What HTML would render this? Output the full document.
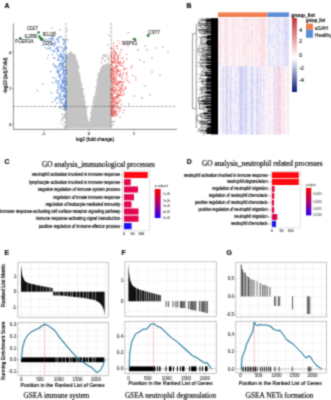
<!DOCTYPE html>
<html><head><meta charset="utf-8"><style>
html,body{margin:0;padding:0;background:#fff;width:331px;height:400px;overflow:hidden}
svg{display:block;will-change:transform}
</style></head><body>
<svg width="331" height="400" viewBox="0 0 331 400">
<defs><filter id="bl" x="0" y="0" width="1" height="1" color-interpolation-filters="sRGB"><feConvolveMatrix order="3" kernelMatrix="1 2 1 2 8 2 1 2 1" edgeMode="duplicate"/></filter></defs>
<g filter="url(#bl)">
<rect width="331" height="400" fill="#fff"/>
<text x="4.40" y="7.90" font-size="6.8" fill="#111" text-anchor="start" font-weight="bold" font-family="Liberation Sans" stroke="#111" stroke-width="0.22" >A</text>
<line x1="13.4" y1="23.5" x2="13.4" y2="129.4" stroke="#333" stroke-width="0.55"/>
<line x1="13.1" y1="129.4" x2="177" y2="129.4" stroke="#333" stroke-width="0.55"/>
<path d="M65.8,64.0 L66.3,58.0 L67.8,54.5 L70.3,52.8 L72.8,53.6 L75.2,57.5 L78.1,66.5 L81.3,83.7 L84.6,98.7 L87.8,120.2 L88.6,122.0 L89.9,120.2 L93.2,103.0 L96.4,88.0 L98.5,75.0 L100.5,69.5 L102.5,66.5 L105.0,65.0 L108.0,64.3 L111.2,63.8 L111.4,128.3 L65.8,128.3Z" fill="#c4c4c4"/>
<path d="M81.0 82.9h0M83.8 100.3h0M75.1 57.9h0M74.8 55.9h0M76.8 63.1h0M86.1 107.2h0M76.2 60.2h0M79.8 76.0h0M86.1 112.8h0M73.6 55.5h0M85.7 108.3h0M82.5 89.4h0M75.2 58.6h0M80.0 80.0h0M74.3 55.9h0M82.9 90.0h0M86.8 110.8h0M79.4 76.5h0M74.2 57.4h0M74.3 56.9h0M81.6 88.3h0M74.6 57.7h0M81.5 84.4h0M77.0 60.9h0M75.3 61.3h0M84.0 97.0h0M80.0 78.4h0M73.3 54.5h0M84.2 96.4h0M75.9 61.6h0M76.4 63.7h0M74.9 54.7h0M85.6 107.2h0M81.9 84.7h0M75.3 58.4h0M85.5 102.2h0M73.1 54.2h0M80.6 82.7h0M75.5 56.9h0M82.9 88.8h0M79.4 74.3h0M77.6 66.0h0M87.6 118.1h0M74.4 56.7h0M76.4 61.1h0M85.8 106.4h0M77.9 64.2h0M74.8 59.3h0M74.3 56.7h0M86.3 119.5h0M80.9 83.1h0M76.2 62.1h0M86.4 116.8h0M75.2 57.1h0M77.0 62.4h0M79.3 67.8h0M83.5 89.5h0M78.9 66.5h0M84.6 96.3h0M83.0 93.9h0M75.6 57.1h0M74.6 55.5h0M77.7 65.2h0M79.7 74.8h0M86.8 108.3h0M80.4 81.4h0M86.6 107.5h0M83.9 101.9h0M77.0 62.8h0M76.5 61.3h0M97.2 79.1h0M104.9 64.8h0M97.0 87.7h0M93.0 106.9h0M102.1 66.4h0M96.7 82.0h0M96.5 91.9h0M98.7 75.9h0M99.2 74.5h0M91.7 108.8h0M98.3 77.7h0M103.8 65.7h0M96.6 89.4h0M100.7 70.6h0M93.1 100.8h0M97.1 82.6h0M95.8 87.6h0M90.7 113.6h0M90.6 118.1h0M90.0 119.5h0M94.5 99.2h0M104.5 65.5h0M101.6 67.6h0M93.1 107.1h0M97.7 75.3h0M92.0 110.0h0M91.0 112.8h0M98.6 80.1h0M93.1 103.8h0M97.3 79.8h0M99.7 72.5h0M93.3 103.1h0M101.9 68.2h0M99.0 74.1h0M100.8 71.4h0M98.4 79.0h0M107.6 64.2h0M98.5 75.2h0M104.3 65.6h0M91.6 109.0h0M97.6 80.1h0M93.3 100.7h0M98.0 75.3h0M97.1 85.5h0M91.1 112.0h0M103.0 67.5h0M94.6 97.0h0M99.0 80.3h0M106.7 64.0h0M100.5 69.3h0M93.9 98.6h0M108.2 64.1h0M102.9 65.4h0M107.1 64.1h0M107.3 64.0h0M104.3 65.6h0M104.3 66.4h0M101.3 69.4h0M95.8 95.7h0M105.0 65.0h0M100.6 69.0h0M92.8 106.2h0M96.3 91.8h0M99.1 74.4h0M91.8 109.5h0M93.7 97.6h0M101.8 67.8h0M98.8 75.5h0M98.4 73.4h0M100.8 70.8h0M70.4 52.8h0M65.7 54.3h0M70.2 53.4h0M67.7 56.4h0M68.5 53.8h0M67.5 56.4h0M69.7 54.7h0M71.3 53.4h0M69.2 54.1h0M69.9 53.0h0M67.8 55.3h0M66.9 54.9h0M66.3 56.9h0M67.7 57.2h0M72.6 53.9h0M71.3 52.3h0M70.4 52.4h0M71.6 53.1h0M71.0 53.0h0M69.8 53.4h0M102.7 57.0h0M103.8 55.1h0M108.4 59.8h0M105.1 54.9h0M105.8 60.0h0M102.2 59.7h0M101.8 58.0h0M109.1 58.6h0M105.5 56.0h0M108.6 57.1h0M106.5 54.9h0M102.7 58.7h0M104.2 56.4h0M109.1 54.4h0M101.2 62.4h0M104.8 61.0h0M103.1 55.2h0M108.5 58.0h0M106.7 56.3h0M107.9 58.4h0M108.9 62.2h0M101.9 62.8h0" stroke="#c2c2c2" stroke-opacity="1" stroke-width="1.5" stroke-linecap="round" fill="none"/>
<path d="M112.7 113.6h0M114.9 111.8h0M64.6 107.2h0M113.0 124.1h0M114.7 105.8h0M62.7 117.2h0M60.9 123.6h0M65.0 128.3h0M114.6 121.5h0M111.0 106.1h0M111.2 107.1h0M113.5 121.9h0M64.6 117.2h0M65.7 106.5h0M64.7 108.8h0M115.0 104.0h0M65.0 111.0h0M113.2 110.1h0M63.9 104.7h0M65.3 105.4h0M61.4 120.2h0M63.0 114.6h0M112.4 121.4h0M61.8 113.9h0M63.0 125.1h0M111.8 109.0h0M65.3 115.6h0M113.4 106.7h0M65.5 126.4h0M114.7 105.4h0M63.6 105.4h0M111.7 114.4h0M112.3 115.2h0M61.0 106.8h0M113.1 108.8h0M64.4 115.7h0M112.8 125.0h0M60.5 106.7h0M113.2 114.5h0M64.6 123.0h0M111.4 111.7h0M63.2 121.6h0M64.4 115.2h0M112.0 115.9h0M62.3 119.6h0M111.2 115.6h0M63.6 108.9h0M65.7 113.1h0M113.8 105.1h0M64.3 127.1h0" stroke="#b0b0b0" stroke-opacity="1" stroke-width="1.4" stroke-linecap="round" fill="none"/>
<path d="M37.5 90.6h0M42.5 83.8h0M52.5 101.9h0M56.9 103.1h0M63.1 118.1h0M52.0 28.0h0M55.0 32.0h0M58.0 38.0h0M60.0 30.0h0M64.0 44.0h0M67.0 30.0h0M68.0 40.0h0M109.0 35.0h0M108.0 45.0h0M120.0 117.0h0M123.0 113.0h0M116.0 113.0h0" stroke="#a8a8a8" stroke-opacity="1" stroke-width="1.6" stroke-linecap="round" fill="none"/>
<path d="M61.8 80.1h0M45.4 40.8h0M51.6 43.9h0M64.8 94.4h0M65.7 103.6h0M63.6 72.7h0M61.6 36.6h0M59.9 99.7h0M64.9 70.1h0M58.7 73.9h0M63.1 65.0h0M61.8 84.1h0M63.1 71.6h0M65.6 67.6h0M65.1 82.2h0M63.4 109.1h0M65.8 107.9h0M63.7 70.1h0M66.1 102.0h0M60.4 93.3h0M65.8 92.2h0M60.9 56.7h0M66.5 55.8h0M61.8 68.5h0M62.8 56.8h0M64.0 54.2h0M65.0 74.9h0M64.3 70.3h0M66.0 101.3h0M59.7 63.7h0M66.4 100.9h0M64.8 80.4h0M66.0 97.3h0M64.4 73.9h0M64.7 49.2h0M52.1 36.5h0M65.7 88.5h0M65.2 61.2h0M51.6 39.3h0M65.0 103.6h0M64.5 96.3h0M60.7 63.5h0M65.3 82.0h0M65.9 72.7h0M57.5 71.8h0M61.3 85.1h0M61.8 47.4h0M60.7 56.1h0M65.0 109.1h0M58.0 39.8h0M65.9 101.4h0M66.1 92.7h0M63.6 95.4h0M61.7 66.0h0M64.6 105.7h0M65.2 78.8h0M66.1 63.0h0M64.1 95.7h0M53.6 65.4h0M61.4 90.6h0M64.2 91.8h0M54.8 58.3h0M56.6 98.0h0M62.7 59.3h0M65.0 81.0h0M64.9 88.7h0M60.6 86.9h0M62.4 99.4h0M63.8 82.0h0M63.9 71.0h0M53.2 77.8h0M61.4 47.1h0M63.1 96.4h0M57.5 98.3h0M64.2 85.7h0M61.7 64.8h0M60.4 69.7h0M58.8 84.0h0M66.6 58.8h0M60.3 63.2h0M66.4 73.3h0M66.4 109.0h0M58.6 70.4h0M64.4 96.6h0M64.8 97.9h0M60.6 63.0h0M59.5 95.4h0M66.4 104.2h0M66.1 59.2h0M64.6 91.7h0M62.3 102.2h0M58.4 81.4h0M64.4 87.2h0M65.1 101.5h0M62.0 57.3h0M57.7 86.8h0M64.8 89.4h0M55.9 81.2h0M62.1 54.7h0M61.5 103.0h0M66.2 69.8h0M50.9 71.5h0M63.4 79.8h0M63.5 63.5h0M57.4 50.7h0M60.9 56.6h0M58.4 60.3h0M57.7 55.6h0M57.1 92.9h0M64.6 107.5h0M57.3 69.5h0M65.7 102.3h0M52.6 54.7h0M64.3 90.6h0M62.3 63.5h0M62.7 81.5h0M65.4 106.9h0M58.9 58.9h0M61.2 107.5h0M59.5 102.3h0M66.5 90.2h0M61.7 57.5h0M61.9 82.3h0M63.9 81.3h0M64.2 78.0h0M59.8 75.5h0M65.5 66.6h0M63.4 63.1h0M66.2 97.3h0M65.9 95.3h0M64.8 88.4h0M65.7 46.7h0M59.6 56.0h0M43.8 40.2h0M62.0 102.1h0M62.3 80.5h0M63.0 74.3h0M66.4 47.8h0M63.3 43.8h0M63.1 66.6h0M61.2 74.4h0M59.5 66.7h0M64.5 81.4h0M66.5 82.3h0M66.0 109.6h0M59.9 75.8h0M53.6 63.8h0M58.8 42.0h0M65.8 49.0h0M54.1 45.1h0M63.8 104.5h0M64.0 39.9h0M61.8 86.3h0M59.8 107.9h0M53.6 57.9h0M58.2 42.3h0M63.6 48.6h0M61.9 47.8h0M58.3 50.2h0M61.1 64.1h0M55.0 99.0h0M60.3 98.3h0M59.4 75.7h0M65.8 106.7h0M56.7 53.3h0M59.2 65.0h0M63.3 79.3h0M65.2 82.0h0M66.0 48.0h0M64.6 46.2h0M66.1 39.5h0M64.2 106.6h0M60.3 75.5h0M57.6 91.9h0M63.6 88.6h0M62.7 51.0h0M52.9 38.5h0M58.5 42.5h0M63.6 82.8h0M66.2 94.6h0M65.2 83.8h0M60.3 55.3h0M64.8 62.0h0M65.9 92.2h0M65.9 103.4h0M58.4 71.2h0M66.3 57.3h0M49.5 38.3h0M62.6 39.6h0M55.9 78.5h0M58.9 57.2h0M63.3 57.3h0M62.1 91.5h0M63.8 43.1h0M60.3 97.1h0M65.6 106.8h0M63.5 74.1h0M65.3 96.3h0M66.3 105.4h0M64.4 105.5h0M51.2 92.7h0M65.5 77.5h0M55.0 43.0h0M60.1 67.2h0M63.3 83.8h0M62.8 67.7h0M58.6 76.3h0M52.5 82.7h0M63.2 105.9h0M61.4 87.0h0M59.2 80.8h0M64.9 74.6h0M61.1 100.2h0M64.1 59.9h0M64.8 70.3h0M61.2 53.1h0M60.4 60.7h0M59.3 73.6h0M66.2 55.8h0M55.9 81.7h0M58.3 89.5h0M65.1 80.6h0M65.2 61.8h0M48.6 55.1h0M64.5 106.7h0M66.5 84.7h0M64.0 50.5h0M63.5 58.4h0M66.1 58.0h0M64.7 103.4h0M60.7 56.8h0M59.3 36.9h0M63.6 68.3h0M47.7 57.9h0M62.8 90.6h0M66.5 99.1h0M60.0 87.9h0M63.1 98.6h0M60.1 85.4h0M57.2 83.5h0M66.1 79.2h0M62.1 55.2h0M63.5 87.8h0M63.7 65.6h0M60.9 88.7h0M56.7 71.7h0M52.3 37.5h0M65.8 100.6h0M66.3 102.2h0M66.0 97.6h0M64.2 103.2h0M63.0 52.1h0M63.3 89.0h0M65.3 61.8h0M63.5 98.7h0M65.5 71.2h0M60.4 37.2h0M63.2 90.9h0M62.7 69.8h0M66.4 74.0h0M65.9 105.0h0M58.9 83.2h0M64.7 54.7h0M64.4 41.6h0M63.2 82.5h0M59.2 65.6h0M55.4 106.6h0M64.6 107.1h0M59.4 70.2h0M48.3 41.1h0M58.6 50.3h0M60.6 96.3h0M59.3 46.8h0M56.8 66.6h0M66.3 109.7h0M59.4 93.7h0M65.7 70.7h0M62.8 88.1h0M58.5 86.9h0M65.6 71.6h0M65.2 95.6h0M61.6 84.4h0M57.5 59.7h0M65.4 42.3h0M59.6 64.5h0M62.3 60.0h0M63.3 105.8h0M65.6 79.1h0M66.1 84.6h0M64.0 57.7h0M56.7 81.0h0M62.0 94.1h0M58.7 51.4h0M62.5 81.1h0M64.3 86.9h0M66.3 102.7h0M63.4 76.6h0M62.8 72.6h0M53.6 51.8h0M61.7 85.7h0M63.3 67.0h0M60.7 77.2h0M58.8 71.8h0M60.2 54.2h0M66.1 48.2h0M62.8 59.7h0M62.1 87.5h0M66.5 70.5h0M57.2 67.5h0M66.6 83.8h0M57.2 90.5h0M66.5 92.0h0M64.7 66.8h0M64.8 84.8h0M65.1 61.3h0M61.5 103.5h0M63.7 57.0h0M62.5 62.3h0M57.8 72.5h0M55.4 100.6h0M64.4 61.5h0M60.7 88.8h0M41.8 45.4h0M55.5 65.5h0M60.2 77.0h0M62.0 65.5h0M58.5 96.8h0M64.1 40.5h0M64.2 76.2h0M64.4 85.9h0M65.0 87.0h0M63.8 38.9h0M62.8 82.3h0M60.6 100.3h0M55.0 67.2h0M53.1 37.0h0M64.4 88.5h0M63.7 77.9h0M60.7 78.8h0M63.0 74.6h0" stroke="#5687d9" stroke-opacity="0.88" stroke-width="1.44" stroke-linecap="round" fill="none"/>
<path d="M55.7 48.8h0M50.5 47.7h0M50.3 38.9h0M53.8 46.3h0M57.9 47.2h0M47.0 48.8h0M52.1 39.2h0M51.1 50.5h0M53.1 44.0h0M45.1 47.4h0M57.8 50.0h0M47.8 39.7h0M51.1 41.9h0M52.4 44.3h0M54.7 50.9h0M49.8 48.5h0M54.0 40.0h0M54.9 42.1h0M52.2 45.0h0M53.7 50.5h0M56.9 38.7h0M45.4 38.8h0M56.5 47.6h0M53.0 43.4h0M49.1 46.4h0M57.5 49.7h0M52.9 42.4h0M57.3 48.2h0M51.1 40.3h0M57.6 39.6h0M57.4 40.3h0M55.4 44.7h0M55.1 44.3h0M48.5 48.6h0" stroke="#5687d9" stroke-opacity="0.8" stroke-width="1.44" stroke-linecap="round" fill="none"/>
<path d="M112.7 69.4h0M119.4 91.6h0M118.8 102.1h0M117.4 96.8h0M121.6 104.3h0M120.2 63.2h0M120.3 73.1h0M118.8 62.4h0M113.4 77.6h0M116.4 64.8h0M111.7 57.0h0M123.1 66.2h0M114.2 55.8h0M110.9 114.3h0M119.0 101.8h0M114.6 81.0h0M118.8 83.4h0M113.0 72.7h0M113.3 101.1h0M131.0 67.7h0M117.6 95.6h0M115.0 83.8h0M112.4 83.5h0M113.0 73.9h0M111.6 82.5h0M124.6 68.5h0M112.3 81.4h0M114.1 52.5h0M116.7 66.3h0M113.1 100.6h0M111.0 106.0h0M127.6 80.5h0M114.1 106.6h0M116.2 88.5h0M116.0 107.0h0M114.3 61.0h0M111.1 110.8h0M114.3 77.3h0M113.6 87.5h0M112.3 105.1h0M118.1 69.7h0M111.1 71.9h0M121.9 95.4h0M111.4 108.6h0M117.0 106.4h0M120.8 95.4h0M123.5 62.3h0M119.7 81.5h0M114.4 58.8h0M116.0 62.5h0M117.1 96.4h0M118.3 111.9h0M111.0 47.9h0M117.3 97.8h0M113.2 99.3h0M111.1 68.2h0M115.7 98.4h0M114.4 91.7h0M116.0 79.0h0M116.3 72.2h0M123.9 72.6h0M113.3 110.0h0M119.5 108.5h0M113.0 101.9h0M118.3 57.0h0M115.8 72.1h0M113.2 98.4h0M120.0 110.8h0M113.8 73.0h0M111.0 114.1h0M111.2 68.6h0M114.6 71.6h0M111.2 69.2h0M115.7 77.6h0M112.9 108.3h0M112.5 75.3h0M119.5 63.3h0M112.3 66.8h0M111.0 102.3h0M114.5 77.9h0M116.0 79.8h0M117.2 90.2h0M116.5 101.1h0M113.5 104.5h0M116.6 54.3h0M112.1 64.3h0M111.3 62.7h0M118.7 75.1h0M114.2 57.4h0M111.3 90.8h0M120.1 76.9h0M111.3 77.0h0M114.7 101.3h0M113.0 71.2h0M116.5 65.4h0M123.5 82.5h0M114.9 62.1h0M116.4 104.0h0M111.6 108.3h0M121.3 58.3h0M113.5 55.6h0M114.2 67.6h0M116.9 46.7h0M111.7 110.1h0M114.2 82.3h0M115.1 90.7h0M113.8 112.2h0M113.7 99.4h0M110.9 55.3h0M114.8 115.0h0M117.4 48.6h0M117.6 70.9h0M112.2 111.2h0M111.4 71.0h0M118.0 63.1h0M120.7 100.5h0M118.9 106.8h0M117.8 66.4h0M111.9 53.5h0M111.2 102.3h0M112.1 84.9h0M111.0 110.8h0M111.5 97.7h0M123.0 90.6h0M111.4 78.5h0M118.9 70.5h0M119.8 65.1h0M112.3 99.3h0M113.6 107.9h0M112.0 61.9h0M116.8 92.8h0M111.6 112.4h0M117.4 94.6h0M113.7 48.5h0M117.4 74.0h0M116.9 105.0h0M116.9 85.5h0M111.4 74.0h0M112.6 85.3h0M113.8 93.6h0M118.5 70.7h0M117.6 59.1h0M114.1 68.7h0M120.2 61.8h0M132.8 75.5h0M126.9 77.8h0M111.9 49.3h0M111.0 106.6h0M118.8 89.5h0M115.3 90.0h0M113.0 102.4h0M111.5 62.6h0M112.1 70.3h0M111.8 113.1h0M112.1 110.5h0M112.5 87.3h0M114.9 111.2h0M112.6 108.0h0M113.5 110.1h0M112.9 97.5h0M112.2 97.8h0M117.1 94.6h0M117.1 61.5h0M117.1 71.7h0M112.3 108.4h0M115.9 103.3h0M126.9 59.2h0M116.7 73.8h0M115.6 110.7h0M126.2 68.7h0M112.7 68.8h0M124.1 61.1h0M115.9 84.6h0M114.4 92.0h0M114.2 82.2h0M115.0 99.4h0M121.7 82.5h0M111.2 111.4h0M113.0 75.2h0M113.9 60.2h0M112.9 88.8h0M120.2 52.7h0M113.8 110.5h0M110.9 90.1h0M112.7 90.2h0M117.8 84.5h0M114.3 115.5h0M121.8 65.6h0M120.6 89.5h0M118.2 94.5h0M114.8 66.2h0M116.2 82.8h0M111.3 87.7h0M111.3 98.2h0M112.7 115.3h0M114.9 83.6h0M115.2 102.2h0M113.3 62.2h0M116.8 103.5h0M126.1 88.6h0M119.1 63.0h0M120.4 108.4h0M113.4 112.9h0M111.3 108.7h0M116.8 67.0h0M112.1 89.4h0M116.6 76.6h0M122.1 76.1h0M121.9 78.5h0M113.7 77.7h0M117.4 62.0h0M114.8 91.4h0M112.1 111.0h0M115.0 75.5h0M112.6 74.1h0M125.3 87.1h0M110.9 94.4h0M114.2 71.4h0M116.7 71.7h0M113.2 58.3h0M112.4 91.9h0M114.0 111.5h0M121.0 81.6h0M112.6 82.7h0M113.4 103.1h0M127.1 74.9h0M112.5 90.2h0M119.5 95.7h0M116.9 84.7h0M113.4 99.8h0M121.0 85.7h0M122.0 82.0h0M115.7 88.1h0M117.8 81.7h0M114.7 112.3h0M111.3 76.1h0M115.2 102.0h0M119.2 86.5h0M120.4 65.3h0M112.1 106.2h0M112.9 112.3h0M112.4 89.7h0M111.0 73.7h0M112.8 61.6h0M123.3 58.1h0M111.4 77.9h0M111.0 75.3h0M117.5 114.6h0M113.5 50.7h0M120.2 74.9h0M111.2 73.9h0M111.7 106.8h0M126.8 72.5h0M111.6 73.7h0M118.7 71.4h0M123.7 69.5h0M117.2 91.6h0M111.8 109.9h0M116.8 84.8h0M116.3 70.1h0M111.1 76.5h0M111.9 102.3h0M113.8 62.9h0M114.2 84.1h0M116.1 101.1h0M112.7 101.6h0M114.0 62.8h0M114.9 74.4h0M115.6 90.1h0M113.9 79.3h0M116.9 60.3h0M114.9 111.9h0M113.5 115.9h0M112.7 115.3h0M117.8 83.4h0M114.6 54.8h0M120.7 93.4h0M116.6 97.5h0M119.0 99.5h0M112.4 95.7h0M111.5 94.6h0M115.3 59.2h0M118.9 108.4h0M115.3 102.4h0M113.8 99.1h0M117.9 103.2h0M120.2 73.9h0M122.4 78.5h0M119.8 90.0h0M116.0 111.6h0M118.3 58.3h0M118.7 94.4h0M116.9 108.8h0M112.7 78.4h0M116.1 116.0h0M119.6 65.0h0M112.7 88.6h0M122.5 74.3h0M120.9 88.6h0M115.1 56.9h0M122.3 84.7h0M122.8 85.5h0M118.8 61.9h0M110.9 110.8h0M123.5 92.9h0M116.5 53.8h0M121.2 91.9h0M118.9 87.0h0M119.6 94.7h0M112.1 100.4h0M117.5 70.2h0M113.7 98.1h0M112.4 115.9h0M114.2 82.9h0M118.5 70.4h0M113.3 69.8h0M116.1 81.2h0M122.3 89.8h0M113.0 81.6h0M114.5 93.1h0M111.7 105.3h0M118.0 59.3h0M112.8 112.7h0M117.9 58.2h0M111.2 57.5h0M113.4 113.5h0M117.5 55.6h0M111.4 95.4h0M113.8 46.4h0M117.0 94.9h0M114.5 55.3h0M113.3 90.1h0M111.7 111.9h0M112.5 114.6h0M113.4 104.8h0M113.0 94.3h0M111.4 49.0h0M114.1 67.6h0M112.7 113.4h0M117.2 85.8h0M112.8 66.3h0M111.6 78.8h0M116.1 114.6h0M111.9 69.2h0M111.5 97.7h0M115.7 113.0h0M112.2 80.2h0M117.3 71.2h0M112.0 88.9h0M120.5 91.7h0M115.4 51.5h0M111.3 113.3h0M119.5 82.8h0M115.6 53.2h0M116.0 67.7h0M114.9 91.3h0M111.3 70.9h0M112.8 110.4h0M110.8 104.6h0M112.6 53.5h0M114.6 110.5h0M110.8 75.6h0M118.3 97.2h0M111.0 89.9h0M126.1 74.1h0M112.7 79.6h0M112.0 61.3h0M112.0 88.8h0M113.3 104.3h0M111.0 95.8h0M111.3 108.3h0M111.0 112.9h0M111.8 58.3h0M113.8 46.3h0M117.0 93.3h0M114.1 84.0h0M118.9 82.2h0M114.3 89.8h0M121.3 88.6h0M115.8 96.6h0M116.0 69.2h0M119.4 75.5h0M113.1 71.8h0M112.7 106.6h0M120.1 83.1h0M120.3 61.6h0M111.9 97.8h0M114.4 86.5h0M117.0 84.8h0M113.0 62.8h0M111.2 76.9h0M113.2 113.8h0M110.8 60.2h0M114.0 104.6h0M114.4 91.5h0M118.7 95.6h0M118.8 61.9h0M112.7 94.8h0M116.8 97.5h0M113.9 105.6h0M111.8 93.6h0M114.6 81.2h0M120.2 81.5h0M124.3 89.9h0M114.5 113.2h0M111.4 94.0h0M115.3 84.1h0M111.8 79.3h0M112.5 89.3h0M111.5 48.9h0M112.5 112.9h0M111.5 55.5h0M111.5 52.1h0M113.4 97.0h0M120.5 70.8h0M117.7 102.3h0M115.0 97.5h0M111.2 62.8h0M117.6 81.9h0M111.9 80.2h0M113.5 103.2h0M116.3 68.9h0M125.1 88.2h0M113.9 63.0h0M111.3 70.8h0M111.4 115.2h0M113.1 76.8h0M117.6 56.5h0M114.7 107.2h0M122.1 87.2h0M122.3 63.5h0M111.0 64.8h0M135.6 77.1h0M114.5 80.1h0M124.8 79.9h0M113.2 91.1h0M120.5 88.0h0M123.7 94.5h0M113.3 77.4h0M129.0 82.2h0M117.3 71.3h0M111.8 60.8h0M111.4 103.3h0" stroke="#ec5d55" stroke-opacity="0.88" stroke-width="1.44" stroke-linecap="round" fill="none"/>
<path d="M119.5 55.0h0M117.0 45.4h0M119.7 43.6h0M116.0 54.0h0M121.7 50.1h0M123.6 42.3h0M118.2 41.0h0M127.9 45.7h0M121.2 49.4h0M114.2 51.2h0M126.6 54.4h0M113.5 43.2h0" stroke="#ec5d55" stroke-opacity="0.8" stroke-width="1.44" stroke-linecap="round" fill="none"/>
<path d="M156.0 48.0h0M163.0 47.0h0M168.0 52.0h0M147.0 50.0h0M152.0 58.0h0M128.3 32.5h0M145.0 46.0h0M136.0 80.0h0M140.0 60.0h0M152.0 72.0h0M145.0 86.0h0M138.0 50.0h0M160.0 75.0h0M134.0 96.0h0M142.0 98.0h0M129.0 104.0h0M124.0 110.0h0M150.0 95.0h0M132.0 66.0h0M144.0 62.0h0" stroke="#c97b7b" stroke-opacity="0.9" stroke-width="1.5" stroke-linecap="round" fill="none"/>
<line x1="65.9" y1="23" x2="65.9" y2="129" stroke="#333" stroke-width="0.6" stroke-dasharray="1.4,1.1,0.5,1.1"/>
<line x1="111.2" y1="23" x2="111.2" y2="129" stroke="#333" stroke-width="0.6" stroke-dasharray="1.4,1.1,0.5,1.1"/>
<line x1="13.5" y1="106.5" x2="175.6" y2="106.5" stroke="#333" stroke-width="0.6" stroke-dasharray="1.4,1.1,0.5,1.1"/>
<path d="M38.6 32.5h0M39.4 36.6h0" stroke="#2f7a36" stroke-opacity="1" stroke-width="2.6" stroke-linecap="round" fill="none"/>
<path d="M41.8 39.4h0" stroke="#2f7a36" stroke-opacity="1" stroke-width="3.4" stroke-linecap="round" fill="none"/>
<path d="M40.6 38.2h0M148.2 35.5h0M135.0 39.6h0" stroke="#2f7a36" stroke-opacity="1" stroke-width="2.8" stroke-linecap="round" fill="none"/>
<path d="M20.3 38.3h0" stroke="#2f7a36" stroke-opacity="1" stroke-width="2.4" stroke-linecap="round" fill="none"/>
<path d="M133.6 39.0h0" stroke="#2f7a36" stroke-opacity="1" stroke-width="2.2" stroke-linecap="round" fill="none"/>
<text x="27.00" y="29.62" font-size="4.5" fill="#2a2a2a" text-anchor="start" font-weight="normal" font-family="Liberation Sans" stroke="#2a2a2a" stroke-width="0.1" textLength="10.80" lengthAdjust="spacingAndGlyphs" >CD27</text>
<text x="24.50" y="38.22" font-size="4.5" fill="#2a2a2a" text-anchor="start" font-weight="normal" font-family="Liberation Sans" stroke="#2a2a2a" stroke-width="0.1" textLength="12.50" lengthAdjust="spacingAndGlyphs" >IL2RB</text>
<text x="42.70" y="36.22" font-size="4.5" fill="#2a2a2a" text-anchor="start" font-weight="normal" font-family="Liberation Sans" stroke="#2a2a2a" stroke-width="0.1" textLength="12.80" lengthAdjust="spacingAndGlyphs" >BCL11B</text>
<text x="15.30" y="43.22" font-size="4.5" fill="#2a2a2a" text-anchor="start" font-weight="normal" font-family="Liberation Sans" stroke="#2a2a2a" stroke-width="0.1" textLength="18.30" lengthAdjust="spacingAndGlyphs" >FCER1A</text>
<text x="42.70" y="44.92" font-size="4.5" fill="#2a2a2a" text-anchor="start" font-weight="normal" font-family="Liberation Sans" stroke="#2a2a2a" stroke-width="0.1" textLength="9.20" lengthAdjust="spacingAndGlyphs" >CD5</text>
<text x="148.20" y="33.62" font-size="4.5" fill="#2a2a2a" text-anchor="start" font-weight="normal" font-family="Liberation Sans" stroke="#2a2a2a" stroke-width="0.1" textLength="11.70" lengthAdjust="spacingAndGlyphs" >CST7</text>
<text x="122.00" y="44.92" font-size="4.5" fill="#2a2a2a" text-anchor="start" font-weight="normal" font-family="Liberation Sans" stroke="#2a2a2a" stroke-width="0.1" textLength="15.40" lengthAdjust="spacingAndGlyphs" >SRPK1</text>
<line x1="12.2" y1="51.9" x2="13.4" y2="51.9" stroke="#333" stroke-width="0.5"/>
<text x="11.40" y="53.50" font-size="4.4" fill="#333" text-anchor="end" font-weight="normal" font-family="Liberation Sans" stroke="#333" stroke-width="0.12" >4</text>
<line x1="12.2" y1="88.75" x2="13.4" y2="88.75" stroke="#333" stroke-width="0.5"/>
<text x="11.40" y="90.35" font-size="4.4" fill="#333" text-anchor="end" font-weight="normal" font-family="Liberation Sans" stroke="#333" stroke-width="0.12" >2</text>
<line x1="12.2" y1="124.4" x2="13.4" y2="124.4" stroke="#333" stroke-width="0.5"/>
<text x="11.40" y="126.00" font-size="4.4" fill="#333" text-anchor="end" font-weight="normal" font-family="Liberation Sans" stroke="#333" stroke-width="0.12" >0</text>
<line x1="43.6" y1="129.4" x2="43.6" y2="130.6" stroke="#333" stroke-width="0.5"/>
<text x="43.60" y="134.90" font-size="4.4" fill="#333" text-anchor="middle" font-weight="normal" font-family="Liberation Sans" stroke="#333" stroke-width="0.12" >-1</text>
<line x1="89" y1="129.4" x2="89" y2="130.6" stroke="#333" stroke-width="0.5"/>
<text x="89.00" y="134.90" font-size="4.4" fill="#333" text-anchor="middle" font-weight="normal" font-family="Liberation Sans" stroke="#333" stroke-width="0.12" >0</text>
<line x1="134" y1="129.4" x2="134" y2="130.6" stroke="#333" stroke-width="0.5"/>
<text x="134.00" y="134.90" font-size="4.4" fill="#333" text-anchor="middle" font-weight="normal" font-family="Liberation Sans" stroke="#333" stroke-width="0.12" >1</text>
<text x="76.00" y="140.73" font-size="4.8" fill="#111" text-anchor="start" font-weight="normal" font-family="Liberation Sans" stroke="#111" stroke-width="0.2" textLength="38.00" lengthAdjust="spacingAndGlyphs" >log2 (fold change)</text>
<g transform="translate(6.9,75.6) rotate(-90)">
<text x="-18.00" y="0.00" font-size="4.8" fill="#111" text-anchor="start" font-weight="normal" font-family="Liberation Sans" stroke="#111" stroke-width="0.2" textLength="36.00" lengthAdjust="spacingAndGlyphs" >-log10 (adj.P.Val)</text>
</g>
<text x="186.60" y="8.20" font-size="6.8" fill="#111" text-anchor="start" font-weight="bold" font-family="Liberation Sans" stroke="#111" stroke-width="0.22" >B</text>
<rect x="218" y="12.4" width="49.5" height="4.6" fill="#f27d50"/>
<rect x="267.5" y="12.4" width="21.5" height="4.6" fill="#5b8fd9"/>
<path d="M218.00 18.00h1.53v2.06h-1.53zM218.00 24.03h1.53v2.06h-1.53zM218.00 26.03h1.53v2.06h-1.53zM218.00 30.05h1.53v2.06h-1.53zM218.00 34.07h1.53v2.06h-1.53zM218.00 36.08h1.53v2.06h-1.53zM218.00 40.09h1.53v2.06h-1.53zM218.00 42.10h1.53v2.06h-1.53zM218.00 44.11h1.53v2.06h-1.53zM218.00 50.14h1.53v2.06h-1.53zM218.00 54.16h1.53v2.06h-1.53zM218.00 62.19h1.53v2.06h-1.53zM218.00 64.20h1.53v2.06h-1.53zM219.48 18.00h1.53v2.06h-1.53zM219.48 30.05h1.53v2.06h-1.53zM219.48 32.06h1.53v2.06h-1.53zM219.48 34.07h1.53v2.06h-1.53zM219.48 58.17h1.53v2.06h-1.53zM219.48 62.19h1.53v2.06h-1.53zM223.92 20.01h1.53v2.06h-1.53zM223.92 26.03h1.53v2.06h-1.53zM223.92 38.09h1.53v2.06h-1.53zM223.92 50.14h1.53v2.06h-1.53zM223.92 56.16h1.53v2.06h-1.53zM223.92 62.19h1.53v2.06h-1.53zM223.92 64.20h1.53v2.06h-1.53zM223.92 72.23h1.53v2.06h-1.53zM223.92 82.28h1.53v2.06h-1.53zM223.92 86.29h1.53v2.06h-1.53zM223.92 102.36h1.53v2.06h-1.53zM223.92 116.42h1.53v2.06h-1.53zM223.92 126.47h1.53v2.06h-1.53zM223.92 130.48h1.53v2.06h-1.53zM225.40 24.03h1.53v2.06h-1.53zM225.40 40.09h1.53v2.06h-1.53zM225.40 46.12h1.53v2.06h-1.53zM226.88 20.01h1.53v2.06h-1.53zM226.88 28.04h1.53v2.06h-1.53zM226.88 34.07h1.53v2.06h-1.53zM226.88 40.09h1.53v2.06h-1.53zM226.88 46.12h1.53v2.06h-1.53zM226.88 50.14h1.53v2.06h-1.53zM226.88 54.16h1.53v2.06h-1.53zM231.31 24.03h1.53v2.06h-1.53zM231.31 36.08h1.53v2.06h-1.53zM231.31 46.12h1.53v2.06h-1.53zM231.31 58.17h1.53v2.06h-1.53zM232.79 18.00h1.53v2.06h-1.53zM232.79 24.03h1.53v2.06h-1.53zM232.79 26.03h1.53v2.06h-1.53zM232.79 30.05h1.53v2.06h-1.53zM232.79 32.06h1.53v2.06h-1.53zM232.79 34.07h1.53v2.06h-1.53zM232.79 46.12h1.53v2.06h-1.53zM232.79 48.13h1.53v2.06h-1.53zM232.79 50.14h1.53v2.06h-1.53zM232.79 52.15h1.53v2.06h-1.53zM232.79 56.16h1.53v2.06h-1.53zM232.79 58.17h1.53v2.06h-1.53zM234.27 18.00h1.53v2.06h-1.53zM234.27 46.12h1.53v2.06h-1.53zM238.71 34.07h1.53v2.06h-1.53zM238.71 48.13h1.53v2.06h-1.53zM238.71 52.15h1.53v2.06h-1.53zM238.71 62.19h1.53v2.06h-1.53zM241.67 20.01h1.53v2.06h-1.53zM241.67 26.03h1.53v2.06h-1.53zM241.67 32.06h1.53v2.06h-1.53zM241.67 48.13h1.53v2.06h-1.53zM241.67 52.15h1.53v2.06h-1.53zM243.15 24.03h1.53v2.06h-1.53zM243.15 50.14h1.53v2.06h-1.53zM244.62 32.06h1.53v2.06h-1.53zM244.62 36.08h1.53v2.06h-1.53zM244.62 38.09h1.53v2.06h-1.53zM244.62 40.09h1.53v2.06h-1.53zM244.62 56.16h1.53v2.06h-1.53zM244.62 58.17h1.53v2.06h-1.53zM246.10 18.00h1.53v2.06h-1.53zM246.10 20.01h1.53v2.06h-1.53zM247.58 20.01h1.53v2.06h-1.53zM247.58 22.02h1.53v2.06h-1.53zM247.58 24.03h1.53v2.06h-1.53zM247.58 26.03h1.53v2.06h-1.53zM247.58 46.12h1.53v2.06h-1.53zM247.58 48.13h1.53v2.06h-1.53zM247.58 50.14h1.53v2.06h-1.53zM247.58 56.16h1.53v2.06h-1.53zM247.58 60.18h1.53v2.06h-1.53zM247.58 62.19h1.53v2.06h-1.53zM247.58 64.20h1.53v2.06h-1.53zM250.54 36.08h1.53v2.06h-1.53zM250.54 40.09h1.53v2.06h-1.53zM250.54 42.10h1.53v2.06h-1.53zM250.54 44.11h1.53v2.06h-1.53zM250.54 46.12h1.53v2.06h-1.53zM250.54 54.16h1.53v2.06h-1.53zM250.54 56.16h1.53v2.06h-1.53zM250.54 60.18h1.53v2.06h-1.53zM252.02 24.03h1.53v2.06h-1.53zM252.02 42.10h1.53v2.06h-1.53zM252.02 62.19h1.53v2.06h-1.53zM253.50 46.12h1.53v2.06h-1.53zM254.98 30.05h1.53v2.06h-1.53zM254.98 54.16h1.53v2.06h-1.53zM254.98 60.18h1.53v2.06h-1.53zM256.46 18.00h1.53v2.06h-1.53zM256.46 26.03h1.53v2.06h-1.53zM256.46 28.04h1.53v2.06h-1.53zM256.46 30.05h1.53v2.06h-1.53zM256.46 46.12h1.53v2.06h-1.53zM256.46 52.15h1.53v2.06h-1.53zM256.46 56.16h1.53v2.06h-1.53zM256.46 60.18h1.53v2.06h-1.53zM256.46 62.19h1.53v2.06h-1.53zM257.94 30.05h1.53v2.06h-1.53zM257.94 68.22h1.53v2.06h-1.53zM257.94 78.26h1.53v2.06h-1.53zM257.94 84.28h1.53v2.06h-1.53zM257.94 92.32h1.53v2.06h-1.53zM257.94 110.40h1.53v2.06h-1.53zM257.94 118.43h1.53v2.06h-1.53zM257.94 122.45h1.53v2.06h-1.53zM257.94 124.46h1.53v2.06h-1.53zM257.94 126.47h1.53v2.06h-1.53zM259.42 20.01h1.53v2.06h-1.53zM259.42 22.02h1.53v2.06h-1.53zM259.42 26.03h1.53v2.06h-1.53zM259.42 28.04h1.53v2.06h-1.53zM259.42 32.06h1.53v2.06h-1.53zM259.42 36.08h1.53v2.06h-1.53zM259.42 42.10h1.53v2.06h-1.53zM259.42 50.14h1.53v2.06h-1.53zM259.42 58.17h1.53v2.06h-1.53zM259.42 64.20h1.53v2.06h-1.53zM260.90 18.00h1.53v2.06h-1.53zM260.90 20.01h1.53v2.06h-1.53zM260.90 40.09h1.53v2.06h-1.53zM260.90 44.11h1.53v2.06h-1.53zM260.90 46.12h1.53v2.06h-1.53zM260.90 58.17h1.53v2.06h-1.53zM262.38 38.09h1.53v2.06h-1.53zM262.38 42.10h1.53v2.06h-1.53zM262.38 52.15h1.53v2.06h-1.53zM262.38 54.16h1.53v2.06h-1.53zM263.85 24.03h1.53v2.06h-1.53zM263.85 32.06h1.53v2.06h-1.53zM263.85 36.08h1.53v2.06h-1.53zM265.33 94.33h1.53v2.06h-1.53zM265.33 112.41h1.53v2.06h-1.53zM265.33 130.48h1.53v2.06h-1.53zM266.81 42.10h1.53v2.06h-1.53zM266.81 46.12h1.53v2.06h-1.53zM266.81 62.19h1.53v2.06h-1.53zM268.29 70.22h1.53v2.06h-1.53zM268.29 86.29h1.53v2.06h-1.53zM268.29 92.32h1.53v2.06h-1.53zM268.29 94.33h1.53v2.06h-1.53zM268.29 102.36h1.53v2.06h-1.53zM268.29 112.41h1.53v2.06h-1.53zM268.29 116.42h1.53v2.06h-1.53zM268.29 120.44h1.53v2.06h-1.53zM268.29 122.45h1.53v2.06h-1.53zM268.29 130.48h1.53v2.06h-1.53zM280.12 124.46h1.53v2.06h-1.53zM283.08 74.24h1.53v2.06h-1.53zM283.08 80.27h1.53v2.06h-1.53zM283.08 100.35h1.53v2.06h-1.53zM283.08 110.40h1.53v2.06h-1.53zM283.08 122.45h1.53v2.06h-1.53zM283.08 128.47h1.53v2.06h-1.53zM283.08 132.49h1.53v2.06h-1.53zM287.52 68.22h1.53v2.06h-1.53zM287.52 70.22h1.53v2.06h-1.53zM287.52 72.23h1.53v2.06h-1.53zM287.52 74.24h1.53v2.06h-1.53zM287.52 86.29h1.53v2.06h-1.53zM287.52 92.32h1.53v2.06h-1.53zM287.52 94.33h1.53v2.06h-1.53zM287.52 96.34h1.53v2.06h-1.53zM287.52 98.34h1.53v2.06h-1.53zM287.52 102.36h1.53v2.06h-1.53zM287.52 112.41h1.53v2.06h-1.53zM287.52 116.42h1.53v2.06h-1.53zM287.52 118.43h1.53v2.06h-1.53zM287.52 124.46h1.53v2.06h-1.53zM287.52 126.47h1.53v2.06h-1.53zM287.52 130.48h1.53v2.06h-1.53zM287.52 132.49h1.53v2.06h-1.53z" fill="rgb(251, 226, 231)"/>
<path d="M218.00 20.01h1.53v2.06h-1.53zM218.00 28.04h1.53v2.06h-1.53zM218.00 32.06h1.53v2.06h-1.53zM218.00 38.09h1.53v2.06h-1.53zM218.00 52.15h1.53v2.06h-1.53zM218.00 60.18h1.53v2.06h-1.53zM219.48 26.03h1.53v2.06h-1.53zM219.48 36.08h1.53v2.06h-1.53zM219.48 40.09h1.53v2.06h-1.53zM219.48 104.37h1.53v2.06h-1.53zM222.44 40.09h1.53v2.06h-1.53zM223.92 18.00h1.53v2.06h-1.53zM223.92 22.02h1.53v2.06h-1.53zM223.92 24.03h1.53v2.06h-1.53zM223.92 28.04h1.53v2.06h-1.53zM223.92 30.05h1.53v2.06h-1.53zM223.92 34.07h1.53v2.06h-1.53zM223.92 36.08h1.53v2.06h-1.53zM223.92 40.09h1.53v2.06h-1.53zM223.92 46.12h1.53v2.06h-1.53zM223.92 48.13h1.53v2.06h-1.53zM223.92 58.17h1.53v2.06h-1.53zM223.92 66.21h1.53v2.06h-1.53zM223.92 68.22h1.53v2.06h-1.53zM223.92 74.24h1.53v2.06h-1.53zM223.92 76.25h1.53v2.06h-1.53zM223.92 78.26h1.53v2.06h-1.53zM223.92 90.31h1.53v2.06h-1.53zM223.92 94.33h1.53v2.06h-1.53zM223.92 100.35h1.53v2.06h-1.53zM223.92 104.37h1.53v2.06h-1.53zM223.92 110.40h1.53v2.06h-1.53zM223.92 112.41h1.53v2.06h-1.53zM223.92 122.45h1.53v2.06h-1.53zM223.92 124.46h1.53v2.06h-1.53zM223.92 128.47h1.53v2.06h-1.53zM223.92 132.49h1.53v2.06h-1.53zM226.88 24.03h1.53v2.06h-1.53zM226.88 42.10h1.53v2.06h-1.53zM226.88 48.13h1.53v2.06h-1.53zM226.88 56.16h1.53v2.06h-1.53zM226.88 58.17h1.53v2.06h-1.53zM226.88 60.18h1.53v2.06h-1.53zM226.88 62.19h1.53v2.06h-1.53zM231.31 18.00h1.53v2.06h-1.53zM231.31 26.03h1.53v2.06h-1.53zM231.31 28.04h1.53v2.06h-1.53zM231.31 42.10h1.53v2.06h-1.53zM231.31 50.14h1.53v2.06h-1.53zM231.31 64.20h1.53v2.06h-1.53zM232.79 36.08h1.53v2.06h-1.53zM232.79 38.09h1.53v2.06h-1.53zM232.79 40.09h1.53v2.06h-1.53zM232.79 62.19h1.53v2.06h-1.53zM232.79 86.29h1.53v2.06h-1.53zM234.27 20.01h1.53v2.06h-1.53zM234.27 22.02h1.53v2.06h-1.53zM234.27 36.08h1.53v2.06h-1.53zM234.27 38.09h1.53v2.06h-1.53zM234.27 40.09h1.53v2.06h-1.53zM234.27 48.13h1.53v2.06h-1.53zM234.27 50.14h1.53v2.06h-1.53zM234.27 52.15h1.53v2.06h-1.53zM234.27 56.16h1.53v2.06h-1.53zM234.27 60.18h1.53v2.06h-1.53zM234.27 62.19h1.53v2.06h-1.53zM234.27 64.20h1.53v2.06h-1.53zM235.75 34.07h1.53v2.06h-1.53zM235.75 40.09h1.53v2.06h-1.53zM237.23 24.03h1.53v2.06h-1.53zM237.23 32.06h1.53v2.06h-1.53zM237.23 36.08h1.53v2.06h-1.53zM237.23 40.09h1.53v2.06h-1.53zM237.23 52.15h1.53v2.06h-1.53zM238.71 18.00h1.53v2.06h-1.53zM238.71 24.03h1.53v2.06h-1.53zM238.71 26.03h1.53v2.06h-1.53zM238.71 28.04h1.53v2.06h-1.53zM238.71 38.09h1.53v2.06h-1.53zM238.71 44.11h1.53v2.06h-1.53zM238.71 50.14h1.53v2.06h-1.53zM238.71 54.16h1.53v2.06h-1.53zM240.19 26.03h1.53v2.06h-1.53zM240.19 28.04h1.53v2.06h-1.53zM241.67 18.00h1.53v2.06h-1.53zM241.67 34.07h1.53v2.06h-1.53zM241.67 36.08h1.53v2.06h-1.53zM241.67 40.09h1.53v2.06h-1.53zM241.67 44.11h1.53v2.06h-1.53zM241.67 46.12h1.53v2.06h-1.53zM241.67 50.14h1.53v2.06h-1.53zM241.67 56.16h1.53v2.06h-1.53zM241.67 58.17h1.53v2.06h-1.53zM243.15 18.00h1.53v2.06h-1.53zM243.15 22.02h1.53v2.06h-1.53zM243.15 28.04h1.53v2.06h-1.53zM243.15 32.06h1.53v2.06h-1.53zM243.15 36.08h1.53v2.06h-1.53zM243.15 38.09h1.53v2.06h-1.53zM243.15 44.11h1.53v2.06h-1.53zM243.15 48.13h1.53v2.06h-1.53zM243.15 54.16h1.53v2.06h-1.53zM243.15 64.20h1.53v2.06h-1.53zM244.62 24.03h1.53v2.06h-1.53zM246.10 26.03h1.53v2.06h-1.53zM246.10 28.04h1.53v2.06h-1.53zM246.10 34.07h1.53v2.06h-1.53zM246.10 40.09h1.53v2.06h-1.53zM246.10 44.11h1.53v2.06h-1.53zM246.10 52.15h1.53v2.06h-1.53zM246.10 64.20h1.53v2.06h-1.53zM247.58 18.00h1.53v2.06h-1.53zM247.58 30.05h1.53v2.06h-1.53zM247.58 32.06h1.53v2.06h-1.53zM247.58 34.07h1.53v2.06h-1.53zM247.58 40.09h1.53v2.06h-1.53zM247.58 44.11h1.53v2.06h-1.53zM247.58 52.15h1.53v2.06h-1.53zM247.58 54.16h1.53v2.06h-1.53zM249.06 82.28h1.53v2.06h-1.53zM250.54 18.00h1.53v2.06h-1.53zM250.54 20.01h1.53v2.06h-1.53zM250.54 22.02h1.53v2.06h-1.53zM250.54 24.03h1.53v2.06h-1.53zM250.54 28.04h1.53v2.06h-1.53zM250.54 58.17h1.53v2.06h-1.53zM250.54 62.19h1.53v2.06h-1.53zM250.54 64.20h1.53v2.06h-1.53zM252.02 18.00h1.53v2.06h-1.53zM252.02 30.05h1.53v2.06h-1.53zM252.02 32.06h1.53v2.06h-1.53zM252.02 34.07h1.53v2.06h-1.53zM252.02 38.09h1.53v2.06h-1.53zM252.02 50.14h1.53v2.06h-1.53zM252.02 56.16h1.53v2.06h-1.53zM252.02 58.17h1.53v2.06h-1.53zM252.02 60.18h1.53v2.06h-1.53zM253.50 34.07h1.53v2.06h-1.53zM253.50 52.15h1.53v2.06h-1.53zM254.98 18.00h1.53v2.06h-1.53zM254.98 20.01h1.53v2.06h-1.53zM254.98 26.03h1.53v2.06h-1.53zM254.98 36.08h1.53v2.06h-1.53zM254.98 42.10h1.53v2.06h-1.53zM254.98 50.14h1.53v2.06h-1.53zM254.98 56.16h1.53v2.06h-1.53zM254.98 58.17h1.53v2.06h-1.53zM256.46 20.01h1.53v2.06h-1.53zM256.46 22.02h1.53v2.06h-1.53zM256.46 24.03h1.53v2.06h-1.53zM256.46 32.06h1.53v2.06h-1.53zM256.46 34.07h1.53v2.06h-1.53zM256.46 36.08h1.53v2.06h-1.53zM256.46 48.13h1.53v2.06h-1.53zM256.46 58.17h1.53v2.06h-1.53zM257.94 48.13h1.53v2.06h-1.53zM257.94 50.14h1.53v2.06h-1.53zM257.94 70.22h1.53v2.06h-1.53zM257.94 74.24h1.53v2.06h-1.53zM257.94 80.27h1.53v2.06h-1.53zM257.94 82.28h1.53v2.06h-1.53zM257.94 90.31h1.53v2.06h-1.53zM257.94 94.33h1.53v2.06h-1.53zM257.94 98.34h1.53v2.06h-1.53zM257.94 100.35h1.53v2.06h-1.53zM257.94 102.36h1.53v2.06h-1.53zM257.94 108.39h1.53v2.06h-1.53zM257.94 114.41h1.53v2.06h-1.53zM257.94 116.42h1.53v2.06h-1.53zM257.94 130.48h1.53v2.06h-1.53zM259.42 30.05h1.53v2.06h-1.53zM259.42 40.09h1.53v2.06h-1.53zM260.90 74.24h1.53v2.06h-1.53zM262.38 60.18h1.53v2.06h-1.53zM263.85 46.12h1.53v2.06h-1.53zM265.33 66.21h1.53v2.06h-1.53zM265.33 68.22h1.53v2.06h-1.53zM265.33 72.23h1.53v2.06h-1.53zM265.33 74.24h1.53v2.06h-1.53zM265.33 76.25h1.53v2.06h-1.53zM265.33 78.26h1.53v2.06h-1.53zM265.33 82.28h1.53v2.06h-1.53zM265.33 86.29h1.53v2.06h-1.53zM265.33 90.31h1.53v2.06h-1.53zM265.33 102.36h1.53v2.06h-1.53zM265.33 104.37h1.53v2.06h-1.53zM265.33 110.40h1.53v2.06h-1.53zM265.33 114.41h1.53v2.06h-1.53zM265.33 116.42h1.53v2.06h-1.53zM265.33 118.43h1.53v2.06h-1.53zM265.33 120.44h1.53v2.06h-1.53zM265.33 122.45h1.53v2.06h-1.53zM266.81 18.00h1.53v2.06h-1.53zM266.81 20.01h1.53v2.06h-1.53zM266.81 24.03h1.53v2.06h-1.53zM266.81 34.07h1.53v2.06h-1.53zM266.81 36.08h1.53v2.06h-1.53zM266.81 38.09h1.53v2.06h-1.53zM266.81 40.09h1.53v2.06h-1.53zM266.81 44.11h1.53v2.06h-1.53zM266.81 48.13h1.53v2.06h-1.53zM266.81 54.16h1.53v2.06h-1.53zM266.81 60.18h1.53v2.06h-1.53zM266.81 64.20h1.53v2.06h-1.53zM266.81 68.22h1.53v2.06h-1.53zM268.29 72.23h1.53v2.06h-1.53zM268.29 84.28h1.53v2.06h-1.53zM268.29 88.30h1.53v2.06h-1.53zM268.29 100.35h1.53v2.06h-1.53zM268.29 104.37h1.53v2.06h-1.53zM268.29 106.38h1.53v2.06h-1.53zM268.29 108.39h1.53v2.06h-1.53zM268.29 110.40h1.53v2.06h-1.53zM268.29 114.41h1.53v2.06h-1.53zM268.29 126.47h1.53v2.06h-1.53zM268.29 132.49h1.53v2.06h-1.53zM271.25 126.47h1.53v2.06h-1.53zM280.12 50.14h1.53v2.06h-1.53zM280.12 64.20h1.53v2.06h-1.53zM281.60 68.22h1.53v2.06h-1.53zM281.60 80.27h1.53v2.06h-1.53zM281.60 86.29h1.53v2.06h-1.53zM281.60 96.34h1.53v2.06h-1.53zM281.60 122.45h1.53v2.06h-1.53zM283.08 70.22h1.53v2.06h-1.53zM283.08 84.28h1.53v2.06h-1.53zM283.08 92.32h1.53v2.06h-1.53zM283.08 106.38h1.53v2.06h-1.53zM286.04 80.27h1.53v2.06h-1.53zM287.52 66.21h1.53v2.06h-1.53zM287.52 76.25h1.53v2.06h-1.53zM287.52 82.28h1.53v2.06h-1.53zM287.52 106.38h1.53v2.06h-1.53zM287.52 110.40h1.53v2.06h-1.53zM287.52 114.41h1.53v2.06h-1.53zM287.52 120.44h1.53v2.06h-1.53z" fill="rgb(251, 231, 235)"/>
<path d="M218.00 22.02h1.53v2.06h-1.53zM219.48 20.01h1.53v2.06h-1.53zM219.48 22.02h1.53v2.06h-1.53zM219.48 24.03h1.53v2.06h-1.53zM219.48 38.09h1.53v2.06h-1.53zM219.48 44.11h1.53v2.06h-1.53zM219.48 48.13h1.53v2.06h-1.53zM219.48 50.14h1.53v2.06h-1.53zM219.48 54.16h1.53v2.06h-1.53zM219.48 60.18h1.53v2.06h-1.53zM219.48 64.20h1.53v2.06h-1.53zM223.92 84.28h1.53v2.06h-1.53zM223.92 106.38h1.53v2.06h-1.53zM225.40 20.01h1.53v2.06h-1.53zM225.40 28.04h1.53v2.06h-1.53zM225.40 42.10h1.53v2.06h-1.53zM225.40 44.11h1.53v2.06h-1.53zM225.40 54.16h1.53v2.06h-1.53zM225.40 60.18h1.53v2.06h-1.53zM225.40 64.20h1.53v2.06h-1.53zM232.79 22.02h1.53v2.06h-1.53zM232.79 28.04h1.53v2.06h-1.53zM232.79 42.10h1.53v2.06h-1.53zM232.79 54.16h1.53v2.06h-1.53zM232.79 60.18h1.53v2.06h-1.53zM232.79 64.20h1.53v2.06h-1.53zM244.62 20.01h1.53v2.06h-1.53zM244.62 22.02h1.53v2.06h-1.53zM244.62 28.04h1.53v2.06h-1.53zM244.62 30.05h1.53v2.06h-1.53zM244.62 34.07h1.53v2.06h-1.53zM244.62 44.11h1.53v2.06h-1.53zM244.62 48.13h1.53v2.06h-1.53zM244.62 50.14h1.53v2.06h-1.53zM244.62 54.16h1.53v2.06h-1.53zM244.62 60.18h1.53v2.06h-1.53zM244.62 62.19h1.53v2.06h-1.53zM247.58 36.08h1.53v2.06h-1.53zM247.58 58.17h1.53v2.06h-1.53zM250.54 32.06h1.53v2.06h-1.53zM250.54 34.07h1.53v2.06h-1.53zM250.54 38.09h1.53v2.06h-1.53zM250.54 50.14h1.53v2.06h-1.53zM250.54 52.15h1.53v2.06h-1.53zM256.46 40.09h1.53v2.06h-1.53zM256.46 44.11h1.53v2.06h-1.53zM256.46 50.14h1.53v2.06h-1.53zM256.46 54.16h1.53v2.06h-1.53zM257.94 132.49h1.53v2.06h-1.53zM259.42 24.03h1.53v2.06h-1.53zM259.42 44.11h1.53v2.06h-1.53zM259.42 46.12h1.53v2.06h-1.53zM259.42 48.13h1.53v2.06h-1.53zM259.42 52.15h1.53v2.06h-1.53zM259.42 62.19h1.53v2.06h-1.53zM260.90 22.02h1.53v2.06h-1.53zM260.90 26.03h1.53v2.06h-1.53zM260.90 28.04h1.53v2.06h-1.53zM260.90 30.05h1.53v2.06h-1.53zM260.90 32.06h1.53v2.06h-1.53zM260.90 36.08h1.53v2.06h-1.53zM260.90 38.09h1.53v2.06h-1.53zM260.90 42.10h1.53v2.06h-1.53zM260.90 48.13h1.53v2.06h-1.53zM260.90 50.14h1.53v2.06h-1.53zM260.90 52.15h1.53v2.06h-1.53zM260.90 56.16h1.53v2.06h-1.53zM260.90 60.18h1.53v2.06h-1.53zM260.90 64.20h1.53v2.06h-1.53zM262.38 18.00h1.53v2.06h-1.53zM262.38 22.02h1.53v2.06h-1.53zM262.38 24.03h1.53v2.06h-1.53zM262.38 26.03h1.53v2.06h-1.53zM262.38 28.04h1.53v2.06h-1.53zM262.38 32.06h1.53v2.06h-1.53zM262.38 36.08h1.53v2.06h-1.53zM262.38 46.12h1.53v2.06h-1.53zM262.38 50.14h1.53v2.06h-1.53zM262.38 56.16h1.53v2.06h-1.53zM262.38 58.17h1.53v2.06h-1.53zM262.38 64.20h1.53v2.06h-1.53zM263.85 22.02h1.53v2.06h-1.53zM263.85 42.10h1.53v2.06h-1.53zM263.85 44.11h1.53v2.06h-1.53zM263.85 48.13h1.53v2.06h-1.53zM263.85 50.14h1.53v2.06h-1.53zM263.85 54.16h1.53v2.06h-1.53zM263.85 60.18h1.53v2.06h-1.53zM263.85 64.20h1.53v2.06h-1.53zM268.29 82.28h1.53v2.06h-1.53zM278.65 74.24h1.53v2.06h-1.53zM280.12 68.22h1.53v2.06h-1.53zM280.12 104.37h1.53v2.06h-1.53zM283.08 66.21h1.53v2.06h-1.53zM283.08 72.23h1.53v2.06h-1.53zM283.08 82.28h1.53v2.06h-1.53zM283.08 88.30h1.53v2.06h-1.53zM283.08 94.33h1.53v2.06h-1.53zM283.08 98.34h1.53v2.06h-1.53zM283.08 112.41h1.53v2.06h-1.53zM283.08 118.43h1.53v2.06h-1.53zM283.08 120.44h1.53v2.06h-1.53zM287.52 78.26h1.53v2.06h-1.53zM287.52 80.27h1.53v2.06h-1.53zM287.52 90.31h1.53v2.06h-1.53zM287.52 100.35h1.53v2.06h-1.53zM287.52 104.37h1.53v2.06h-1.53zM287.52 108.39h1.53v2.06h-1.53zM287.52 122.45h1.53v2.06h-1.53zM287.52 128.47h1.53v2.06h-1.53z" fill="rgb(251, 221, 227)"/>
<path d="M218.00 46.12h1.53v2.06h-1.53zM218.00 56.16h1.53v2.06h-1.53zM219.48 28.04h1.53v2.06h-1.53zM219.48 42.10h1.53v2.06h-1.53zM219.48 46.12h1.53v2.06h-1.53zM219.48 52.15h1.53v2.06h-1.53zM219.48 56.16h1.53v2.06h-1.53zM225.40 22.02h1.53v2.06h-1.53zM225.40 26.03h1.53v2.06h-1.53zM225.40 30.05h1.53v2.06h-1.53zM225.40 32.06h1.53v2.06h-1.53zM225.40 34.07h1.53v2.06h-1.53zM225.40 36.08h1.53v2.06h-1.53zM225.40 38.09h1.53v2.06h-1.53zM225.40 48.13h1.53v2.06h-1.53zM225.40 52.15h1.53v2.06h-1.53zM225.40 56.16h1.53v2.06h-1.53zM225.40 58.17h1.53v2.06h-1.53zM225.40 62.19h1.53v2.06h-1.53zM232.79 20.01h1.53v2.06h-1.53zM244.62 18.00h1.53v2.06h-1.53zM244.62 26.03h1.53v2.06h-1.53zM244.62 46.12h1.53v2.06h-1.53zM244.62 52.15h1.53v2.06h-1.53zM244.62 64.20h1.53v2.06h-1.53zM247.58 28.04h1.53v2.06h-1.53zM247.58 38.09h1.53v2.06h-1.53zM247.58 42.10h1.53v2.06h-1.53zM250.54 30.05h1.53v2.06h-1.53zM260.90 24.03h1.53v2.06h-1.53zM260.90 34.07h1.53v2.06h-1.53zM260.90 54.16h1.53v2.06h-1.53zM260.90 62.19h1.53v2.06h-1.53zM262.38 30.05h1.53v2.06h-1.53zM262.38 34.07h1.53v2.06h-1.53zM262.38 40.09h1.53v2.06h-1.53zM262.38 44.11h1.53v2.06h-1.53zM262.38 62.19h1.53v2.06h-1.53zM263.85 20.01h1.53v2.06h-1.53zM263.85 26.03h1.53v2.06h-1.53zM263.85 28.04h1.53v2.06h-1.53zM263.85 38.09h1.53v2.06h-1.53zM263.85 40.09h1.53v2.06h-1.53zM263.85 58.17h1.53v2.06h-1.53zM263.85 62.19h1.53v2.06h-1.53zM278.65 66.21h1.53v2.06h-1.53zM278.65 82.28h1.53v2.06h-1.53zM278.65 96.34h1.53v2.06h-1.53zM278.65 102.36h1.53v2.06h-1.53zM278.65 110.40h1.53v2.06h-1.53zM278.65 116.42h1.53v2.06h-1.53zM280.12 66.21h1.53v2.06h-1.53zM280.12 70.22h1.53v2.06h-1.53zM280.12 78.26h1.53v2.06h-1.53zM280.12 82.28h1.53v2.06h-1.53zM280.12 84.28h1.53v2.06h-1.53zM280.12 86.29h1.53v2.06h-1.53zM280.12 98.34h1.53v2.06h-1.53zM280.12 106.38h1.53v2.06h-1.53zM280.12 108.39h1.53v2.06h-1.53zM280.12 116.42h1.53v2.06h-1.53zM280.12 120.44h1.53v2.06h-1.53zM280.12 122.45h1.53v2.06h-1.53zM280.12 132.49h1.53v2.06h-1.53zM283.08 68.22h1.53v2.06h-1.53zM283.08 76.25h1.53v2.06h-1.53zM283.08 78.26h1.53v2.06h-1.53zM283.08 86.29h1.53v2.06h-1.53zM283.08 90.31h1.53v2.06h-1.53zM283.08 96.34h1.53v2.06h-1.53zM283.08 102.36h1.53v2.06h-1.53zM283.08 108.39h1.53v2.06h-1.53zM283.08 114.41h1.53v2.06h-1.53zM283.08 124.46h1.53v2.06h-1.53zM283.08 126.47h1.53v2.06h-1.53zM287.52 88.30h1.53v2.06h-1.53z" fill="rgb(250, 216, 223)"/>
<path d="M218.00 48.13h1.53v2.06h-1.53zM218.00 58.17h1.53v2.06h-1.53zM220.96 18.00h1.53v2.06h-1.53zM220.96 24.03h1.53v2.06h-1.53zM220.96 26.03h1.53v2.06h-1.53zM220.96 36.08h1.53v2.06h-1.53zM220.96 42.10h1.53v2.06h-1.53zM220.96 50.14h1.53v2.06h-1.53zM222.44 20.01h1.53v2.06h-1.53zM222.44 22.02h1.53v2.06h-1.53zM222.44 38.09h1.53v2.06h-1.53zM222.44 42.10h1.53v2.06h-1.53zM222.44 46.12h1.53v2.06h-1.53zM222.44 50.14h1.53v2.06h-1.53zM222.44 54.16h1.53v2.06h-1.53zM222.44 62.19h1.53v2.06h-1.53zM223.92 32.06h1.53v2.06h-1.53zM223.92 42.10h1.53v2.06h-1.53zM223.92 44.11h1.53v2.06h-1.53zM223.92 52.15h1.53v2.06h-1.53zM223.92 54.16h1.53v2.06h-1.53zM223.92 60.18h1.53v2.06h-1.53zM223.92 70.22h1.53v2.06h-1.53zM223.92 80.27h1.53v2.06h-1.53zM223.92 92.32h1.53v2.06h-1.53zM223.92 108.39h1.53v2.06h-1.53zM223.92 114.41h1.53v2.06h-1.53zM223.92 118.43h1.53v2.06h-1.53zM223.92 120.44h1.53v2.06h-1.53zM226.88 18.00h1.53v2.06h-1.53zM226.88 22.02h1.53v2.06h-1.53zM226.88 26.03h1.53v2.06h-1.53zM226.88 30.05h1.53v2.06h-1.53zM226.88 32.06h1.53v2.06h-1.53zM226.88 36.08h1.53v2.06h-1.53zM226.88 38.09h1.53v2.06h-1.53zM226.88 64.20h1.53v2.06h-1.53zM228.35 20.01h1.53v2.06h-1.53zM228.35 22.02h1.53v2.06h-1.53zM228.35 40.09h1.53v2.06h-1.53zM229.83 24.03h1.53v2.06h-1.53zM229.83 26.03h1.53v2.06h-1.53zM229.83 30.05h1.53v2.06h-1.53zM229.83 40.09h1.53v2.06h-1.53zM229.83 42.10h1.53v2.06h-1.53zM229.83 44.11h1.53v2.06h-1.53zM229.83 52.15h1.53v2.06h-1.53zM229.83 56.16h1.53v2.06h-1.53zM231.31 20.01h1.53v2.06h-1.53zM231.31 30.05h1.53v2.06h-1.53zM231.31 32.06h1.53v2.06h-1.53zM231.31 34.07h1.53v2.06h-1.53zM231.31 52.15h1.53v2.06h-1.53zM231.31 54.16h1.53v2.06h-1.53zM231.31 60.18h1.53v2.06h-1.53zM232.79 44.11h1.53v2.06h-1.53zM232.79 102.36h1.53v2.06h-1.53zM232.79 106.38h1.53v2.06h-1.53zM232.79 118.43h1.53v2.06h-1.53zM232.79 120.44h1.53v2.06h-1.53zM234.27 24.03h1.53v2.06h-1.53zM234.27 28.04h1.53v2.06h-1.53zM234.27 30.05h1.53v2.06h-1.53zM234.27 32.06h1.53v2.06h-1.53zM234.27 42.10h1.53v2.06h-1.53zM234.27 44.11h1.53v2.06h-1.53zM234.27 54.16h1.53v2.06h-1.53zM234.27 58.17h1.53v2.06h-1.53zM235.75 18.00h1.53v2.06h-1.53zM235.75 20.01h1.53v2.06h-1.53zM235.75 22.02h1.53v2.06h-1.53zM235.75 24.03h1.53v2.06h-1.53zM235.75 32.06h1.53v2.06h-1.53zM235.75 38.09h1.53v2.06h-1.53zM235.75 44.11h1.53v2.06h-1.53zM235.75 54.16h1.53v2.06h-1.53zM235.75 56.16h1.53v2.06h-1.53zM235.75 60.18h1.53v2.06h-1.53zM237.23 18.00h1.53v2.06h-1.53zM237.23 20.01h1.53v2.06h-1.53zM237.23 22.02h1.53v2.06h-1.53zM237.23 38.09h1.53v2.06h-1.53zM237.23 42.10h1.53v2.06h-1.53zM237.23 44.11h1.53v2.06h-1.53zM237.23 46.12h1.53v2.06h-1.53zM237.23 48.13h1.53v2.06h-1.53zM237.23 58.17h1.53v2.06h-1.53zM237.23 60.18h1.53v2.06h-1.53zM237.23 62.19h1.53v2.06h-1.53zM238.71 20.01h1.53v2.06h-1.53zM238.71 30.05h1.53v2.06h-1.53zM238.71 36.08h1.53v2.06h-1.53zM238.71 42.10h1.53v2.06h-1.53zM238.71 46.12h1.53v2.06h-1.53zM238.71 56.16h1.53v2.06h-1.53zM238.71 58.17h1.53v2.06h-1.53zM238.71 60.18h1.53v2.06h-1.53zM238.71 64.20h1.53v2.06h-1.53zM240.19 22.02h1.53v2.06h-1.53zM240.19 36.08h1.53v2.06h-1.53zM240.19 62.19h1.53v2.06h-1.53zM241.67 22.02h1.53v2.06h-1.53zM241.67 24.03h1.53v2.06h-1.53zM241.67 28.04h1.53v2.06h-1.53zM241.67 30.05h1.53v2.06h-1.53zM241.67 42.10h1.53v2.06h-1.53zM241.67 54.16h1.53v2.06h-1.53zM241.67 60.18h1.53v2.06h-1.53zM241.67 64.20h1.53v2.06h-1.53zM243.15 20.01h1.53v2.06h-1.53zM243.15 46.12h1.53v2.06h-1.53zM243.15 52.15h1.53v2.06h-1.53zM243.15 60.18h1.53v2.06h-1.53zM246.10 24.03h1.53v2.06h-1.53zM246.10 30.05h1.53v2.06h-1.53zM246.10 32.06h1.53v2.06h-1.53zM246.10 36.08h1.53v2.06h-1.53zM246.10 42.10h1.53v2.06h-1.53zM246.10 46.12h1.53v2.06h-1.53zM246.10 48.13h1.53v2.06h-1.53zM246.10 56.16h1.53v2.06h-1.53zM246.10 58.17h1.53v2.06h-1.53zM246.10 60.18h1.53v2.06h-1.53zM246.10 62.19h1.53v2.06h-1.53zM249.06 54.16h1.53v2.06h-1.53zM249.06 66.21h1.53v2.06h-1.53zM249.06 68.22h1.53v2.06h-1.53zM249.06 70.22h1.53v2.06h-1.53zM249.06 72.23h1.53v2.06h-1.53zM249.06 88.30h1.53v2.06h-1.53zM249.06 90.31h1.53v2.06h-1.53zM249.06 94.33h1.53v2.06h-1.53zM249.06 106.38h1.53v2.06h-1.53zM249.06 108.39h1.53v2.06h-1.53zM249.06 110.40h1.53v2.06h-1.53zM249.06 112.41h1.53v2.06h-1.53zM249.06 122.45h1.53v2.06h-1.53zM249.06 130.48h1.53v2.06h-1.53zM250.54 48.13h1.53v2.06h-1.53zM252.02 20.01h1.53v2.06h-1.53zM252.02 22.02h1.53v2.06h-1.53zM252.02 36.08h1.53v2.06h-1.53zM252.02 40.09h1.53v2.06h-1.53zM252.02 44.11h1.53v2.06h-1.53zM252.02 52.15h1.53v2.06h-1.53zM253.50 20.01h1.53v2.06h-1.53zM253.50 22.02h1.53v2.06h-1.53zM253.50 24.03h1.53v2.06h-1.53zM253.50 26.03h1.53v2.06h-1.53zM253.50 30.05h1.53v2.06h-1.53zM253.50 32.06h1.53v2.06h-1.53zM253.50 38.09h1.53v2.06h-1.53zM253.50 42.10h1.53v2.06h-1.53zM253.50 44.11h1.53v2.06h-1.53zM253.50 48.13h1.53v2.06h-1.53zM253.50 54.16h1.53v2.06h-1.53zM253.50 64.20h1.53v2.06h-1.53zM254.98 24.03h1.53v2.06h-1.53zM254.98 28.04h1.53v2.06h-1.53zM254.98 38.09h1.53v2.06h-1.53zM254.98 40.09h1.53v2.06h-1.53zM254.98 44.11h1.53v2.06h-1.53zM254.98 48.13h1.53v2.06h-1.53zM254.98 52.15h1.53v2.06h-1.53zM254.98 62.19h1.53v2.06h-1.53zM256.46 38.09h1.53v2.06h-1.53zM256.46 42.10h1.53v2.06h-1.53zM256.46 64.20h1.53v2.06h-1.53zM257.94 18.00h1.53v2.06h-1.53zM257.94 22.02h1.53v2.06h-1.53zM257.94 26.03h1.53v2.06h-1.53zM257.94 28.04h1.53v2.06h-1.53zM257.94 32.06h1.53v2.06h-1.53zM257.94 34.07h1.53v2.06h-1.53zM257.94 38.09h1.53v2.06h-1.53zM257.94 42.10h1.53v2.06h-1.53zM257.94 44.11h1.53v2.06h-1.53zM257.94 46.12h1.53v2.06h-1.53zM257.94 52.15h1.53v2.06h-1.53zM257.94 56.16h1.53v2.06h-1.53zM257.94 58.17h1.53v2.06h-1.53zM257.94 60.18h1.53v2.06h-1.53zM257.94 64.20h1.53v2.06h-1.53zM257.94 66.21h1.53v2.06h-1.53zM257.94 76.25h1.53v2.06h-1.53zM257.94 86.29h1.53v2.06h-1.53zM257.94 88.30h1.53v2.06h-1.53zM257.94 106.38h1.53v2.06h-1.53zM257.94 112.41h1.53v2.06h-1.53zM257.94 120.44h1.53v2.06h-1.53zM257.94 128.47h1.53v2.06h-1.53zM259.42 34.07h1.53v2.06h-1.53zM259.42 54.16h1.53v2.06h-1.53zM259.42 56.16h1.53v2.06h-1.53zM259.42 60.18h1.53v2.06h-1.53zM260.90 100.35h1.53v2.06h-1.53zM260.90 126.47h1.53v2.06h-1.53zM265.33 70.22h1.53v2.06h-1.53zM265.33 80.27h1.53v2.06h-1.53zM265.33 84.28h1.53v2.06h-1.53zM265.33 92.32h1.53v2.06h-1.53zM265.33 96.34h1.53v2.06h-1.53zM265.33 106.38h1.53v2.06h-1.53zM265.33 108.39h1.53v2.06h-1.53zM265.33 126.47h1.53v2.06h-1.53zM265.33 128.47h1.53v2.06h-1.53zM265.33 132.49h1.53v2.06h-1.53zM266.81 22.02h1.53v2.06h-1.53zM266.81 26.03h1.53v2.06h-1.53zM266.81 30.05h1.53v2.06h-1.53zM266.81 32.06h1.53v2.06h-1.53zM266.81 50.14h1.53v2.06h-1.53zM266.81 52.15h1.53v2.06h-1.53zM266.81 56.16h1.53v2.06h-1.53zM268.29 66.21h1.53v2.06h-1.53zM268.29 68.22h1.53v2.06h-1.53zM268.29 74.24h1.53v2.06h-1.53zM268.29 76.25h1.53v2.06h-1.53zM268.29 78.26h1.53v2.06h-1.53zM268.29 90.31h1.53v2.06h-1.53zM268.29 96.34h1.53v2.06h-1.53zM268.29 98.34h1.53v2.06h-1.53zM268.29 118.43h1.53v2.06h-1.53zM268.29 124.46h1.53v2.06h-1.53zM268.29 128.47h1.53v2.06h-1.53zM271.25 72.23h1.53v2.06h-1.53zM271.25 80.27h1.53v2.06h-1.53zM271.25 86.29h1.53v2.06h-1.53zM271.25 102.36h1.53v2.06h-1.53zM271.25 104.37h1.53v2.06h-1.53zM271.25 112.41h1.53v2.06h-1.53zM280.12 18.00h1.53v2.06h-1.53zM280.12 22.02h1.53v2.06h-1.53zM280.12 26.03h1.53v2.06h-1.53zM280.12 40.09h1.53v2.06h-1.53zM280.12 42.10h1.53v2.06h-1.53zM280.12 46.12h1.53v2.06h-1.53zM280.12 52.15h1.53v2.06h-1.53zM280.12 62.19h1.53v2.06h-1.53zM281.60 66.21h1.53v2.06h-1.53zM281.60 70.22h1.53v2.06h-1.53zM281.60 76.25h1.53v2.06h-1.53zM281.60 100.35h1.53v2.06h-1.53zM281.60 112.41h1.53v2.06h-1.53zM281.60 114.41h1.53v2.06h-1.53zM281.60 116.42h1.53v2.06h-1.53zM281.60 120.44h1.53v2.06h-1.53zM281.60 124.46h1.53v2.06h-1.53zM281.60 132.49h1.53v2.06h-1.53zM284.56 84.28h1.53v2.06h-1.53zM286.04 78.26h1.53v2.06h-1.53zM286.04 86.29h1.53v2.06h-1.53zM286.04 90.31h1.53v2.06h-1.53zM286.04 92.32h1.53v2.06h-1.53zM286.04 94.33h1.53v2.06h-1.53zM286.04 98.34h1.53v2.06h-1.53zM286.04 106.38h1.53v2.06h-1.53zM286.04 114.41h1.53v2.06h-1.53z" fill="rgb(252, 236, 239)"/>
<path d="M218.00 66.21h1.53v2.06h-1.53zM218.00 70.22h1.53v2.06h-1.53zM218.00 94.33h1.53v2.06h-1.53zM218.00 108.39h1.53v2.06h-1.53zM218.00 118.43h1.53v2.06h-1.53zM218.00 122.45h1.53v2.06h-1.53zM218.00 124.46h1.53v2.06h-1.53zM219.48 88.30h1.53v2.06h-1.53zM219.48 94.33h1.53v2.06h-1.53zM219.48 96.34h1.53v2.06h-1.53zM219.48 98.34h1.53v2.06h-1.53zM219.48 110.40h1.53v2.06h-1.53zM219.48 112.41h1.53v2.06h-1.53zM220.96 20.01h1.53v2.06h-1.53zM220.96 22.02h1.53v2.06h-1.53zM220.96 32.06h1.53v2.06h-1.53zM220.96 44.11h1.53v2.06h-1.53zM220.96 48.13h1.53v2.06h-1.53zM220.96 68.22h1.53v2.06h-1.53zM220.96 96.34h1.53v2.06h-1.53zM222.44 18.00h1.53v2.06h-1.53zM222.44 28.04h1.53v2.06h-1.53zM222.44 30.05h1.53v2.06h-1.53zM222.44 32.06h1.53v2.06h-1.53zM222.44 36.08h1.53v2.06h-1.53zM222.44 44.11h1.53v2.06h-1.53zM222.44 52.15h1.53v2.06h-1.53zM222.44 56.16h1.53v2.06h-1.53zM222.44 58.17h1.53v2.06h-1.53zM222.44 64.20h1.53v2.06h-1.53zM223.92 88.30h1.53v2.06h-1.53zM223.92 96.34h1.53v2.06h-1.53zM223.92 98.34h1.53v2.06h-1.53zM226.88 44.11h1.53v2.06h-1.53zM226.88 52.15h1.53v2.06h-1.53zM228.35 18.00h1.53v2.06h-1.53zM228.35 34.07h1.53v2.06h-1.53zM228.35 36.08h1.53v2.06h-1.53zM228.35 38.09h1.53v2.06h-1.53zM228.35 44.11h1.53v2.06h-1.53zM228.35 48.13h1.53v2.06h-1.53zM228.35 52.15h1.53v2.06h-1.53zM228.35 60.18h1.53v2.06h-1.53zM228.35 100.35h1.53v2.06h-1.53zM228.35 122.45h1.53v2.06h-1.53zM229.83 28.04h1.53v2.06h-1.53zM229.83 32.06h1.53v2.06h-1.53zM229.83 34.07h1.53v2.06h-1.53zM229.83 38.09h1.53v2.06h-1.53zM229.83 48.13h1.53v2.06h-1.53zM229.83 64.20h1.53v2.06h-1.53zM231.31 38.09h1.53v2.06h-1.53zM231.31 40.09h1.53v2.06h-1.53zM231.31 48.13h1.53v2.06h-1.53zM231.31 56.16h1.53v2.06h-1.53zM231.31 62.19h1.53v2.06h-1.53zM232.79 66.21h1.53v2.06h-1.53zM232.79 76.25h1.53v2.06h-1.53zM232.79 80.27h1.53v2.06h-1.53zM232.79 82.28h1.53v2.06h-1.53zM232.79 92.32h1.53v2.06h-1.53zM232.79 94.33h1.53v2.06h-1.53zM232.79 108.39h1.53v2.06h-1.53zM232.79 112.41h1.53v2.06h-1.53zM232.79 114.41h1.53v2.06h-1.53zM232.79 116.42h1.53v2.06h-1.53zM232.79 128.47h1.53v2.06h-1.53zM234.27 26.03h1.53v2.06h-1.53zM234.27 34.07h1.53v2.06h-1.53zM235.75 28.04h1.53v2.06h-1.53zM235.75 36.08h1.53v2.06h-1.53zM235.75 46.12h1.53v2.06h-1.53zM235.75 48.13h1.53v2.06h-1.53zM235.75 50.14h1.53v2.06h-1.53zM235.75 52.15h1.53v2.06h-1.53zM235.75 58.17h1.53v2.06h-1.53zM235.75 114.41h1.53v2.06h-1.53zM237.23 26.03h1.53v2.06h-1.53zM237.23 28.04h1.53v2.06h-1.53zM237.23 34.07h1.53v2.06h-1.53zM237.23 50.14h1.53v2.06h-1.53zM237.23 56.16h1.53v2.06h-1.53zM237.23 64.20h1.53v2.06h-1.53zM238.71 32.06h1.53v2.06h-1.53zM240.19 20.01h1.53v2.06h-1.53zM240.19 24.03h1.53v2.06h-1.53zM240.19 32.06h1.53v2.06h-1.53zM240.19 44.11h1.53v2.06h-1.53zM240.19 46.12h1.53v2.06h-1.53zM240.19 48.13h1.53v2.06h-1.53zM240.19 50.14h1.53v2.06h-1.53zM240.19 54.16h1.53v2.06h-1.53zM240.19 56.16h1.53v2.06h-1.53zM240.19 58.17h1.53v2.06h-1.53zM240.19 60.18h1.53v2.06h-1.53zM240.19 64.20h1.53v2.06h-1.53zM241.67 62.19h1.53v2.06h-1.53zM243.15 26.03h1.53v2.06h-1.53zM243.15 30.05h1.53v2.06h-1.53zM243.15 40.09h1.53v2.06h-1.53zM243.15 42.10h1.53v2.06h-1.53zM243.15 56.16h1.53v2.06h-1.53zM246.10 22.02h1.53v2.06h-1.53zM246.10 38.09h1.53v2.06h-1.53zM246.10 50.14h1.53v2.06h-1.53zM246.10 54.16h1.53v2.06h-1.53zM249.06 22.02h1.53v2.06h-1.53zM249.06 24.03h1.53v2.06h-1.53zM249.06 26.03h1.53v2.06h-1.53zM249.06 34.07h1.53v2.06h-1.53zM249.06 36.08h1.53v2.06h-1.53zM249.06 38.09h1.53v2.06h-1.53zM249.06 46.12h1.53v2.06h-1.53zM249.06 48.13h1.53v2.06h-1.53zM249.06 50.14h1.53v2.06h-1.53zM249.06 52.15h1.53v2.06h-1.53zM249.06 56.16h1.53v2.06h-1.53zM249.06 60.18h1.53v2.06h-1.53zM249.06 62.19h1.53v2.06h-1.53zM249.06 64.20h1.53v2.06h-1.53zM249.06 74.24h1.53v2.06h-1.53zM249.06 76.25h1.53v2.06h-1.53zM249.06 78.26h1.53v2.06h-1.53zM249.06 80.27h1.53v2.06h-1.53zM249.06 84.28h1.53v2.06h-1.53zM249.06 86.29h1.53v2.06h-1.53zM249.06 92.32h1.53v2.06h-1.53zM249.06 96.34h1.53v2.06h-1.53zM249.06 100.35h1.53v2.06h-1.53zM249.06 102.36h1.53v2.06h-1.53zM249.06 104.37h1.53v2.06h-1.53zM249.06 114.41h1.53v2.06h-1.53zM249.06 116.42h1.53v2.06h-1.53zM249.06 118.43h1.53v2.06h-1.53zM249.06 120.44h1.53v2.06h-1.53zM249.06 124.46h1.53v2.06h-1.53zM249.06 126.47h1.53v2.06h-1.53zM249.06 128.47h1.53v2.06h-1.53zM249.06 132.49h1.53v2.06h-1.53zM250.54 26.03h1.53v2.06h-1.53zM252.02 26.03h1.53v2.06h-1.53zM252.02 28.04h1.53v2.06h-1.53zM252.02 46.12h1.53v2.06h-1.53zM252.02 48.13h1.53v2.06h-1.53zM252.02 54.16h1.53v2.06h-1.53zM252.02 64.20h1.53v2.06h-1.53zM253.50 36.08h1.53v2.06h-1.53zM253.50 40.09h1.53v2.06h-1.53zM253.50 50.14h1.53v2.06h-1.53zM253.50 56.16h1.53v2.06h-1.53zM253.50 58.17h1.53v2.06h-1.53zM253.50 60.18h1.53v2.06h-1.53zM253.50 90.31h1.53v2.06h-1.53zM253.50 122.45h1.53v2.06h-1.53zM254.98 22.02h1.53v2.06h-1.53zM254.98 32.06h1.53v2.06h-1.53zM254.98 34.07h1.53v2.06h-1.53zM254.98 92.32h1.53v2.06h-1.53zM257.94 24.03h1.53v2.06h-1.53zM257.94 40.09h1.53v2.06h-1.53zM257.94 54.16h1.53v2.06h-1.53zM257.94 72.23h1.53v2.06h-1.53zM257.94 104.37h1.53v2.06h-1.53zM259.42 38.09h1.53v2.06h-1.53zM260.90 66.21h1.53v2.06h-1.53zM260.90 70.22h1.53v2.06h-1.53zM260.90 72.23h1.53v2.06h-1.53zM260.90 76.25h1.53v2.06h-1.53zM260.90 78.26h1.53v2.06h-1.53zM260.90 80.27h1.53v2.06h-1.53zM260.90 82.28h1.53v2.06h-1.53zM260.90 84.28h1.53v2.06h-1.53zM260.90 86.29h1.53v2.06h-1.53zM260.90 88.30h1.53v2.06h-1.53zM260.90 96.34h1.53v2.06h-1.53zM260.90 98.34h1.53v2.06h-1.53zM260.90 102.36h1.53v2.06h-1.53zM260.90 106.38h1.53v2.06h-1.53zM260.90 112.41h1.53v2.06h-1.53zM260.90 120.44h1.53v2.06h-1.53zM260.90 122.45h1.53v2.06h-1.53zM260.90 130.48h1.53v2.06h-1.53zM265.33 18.00h1.53v2.06h-1.53zM265.33 20.01h1.53v2.06h-1.53zM265.33 24.03h1.53v2.06h-1.53zM265.33 28.04h1.53v2.06h-1.53zM265.33 48.13h1.53v2.06h-1.53zM265.33 50.14h1.53v2.06h-1.53zM265.33 52.15h1.53v2.06h-1.53zM265.33 54.16h1.53v2.06h-1.53zM265.33 56.16h1.53v2.06h-1.53zM265.33 58.17h1.53v2.06h-1.53zM265.33 60.18h1.53v2.06h-1.53zM265.33 88.30h1.53v2.06h-1.53zM265.33 98.34h1.53v2.06h-1.53zM265.33 100.35h1.53v2.06h-1.53zM265.33 124.46h1.53v2.06h-1.53zM266.81 28.04h1.53v2.06h-1.53zM266.81 58.17h1.53v2.06h-1.53zM266.81 102.36h1.53v2.06h-1.53zM268.29 80.27h1.53v2.06h-1.53zM269.77 70.22h1.53v2.06h-1.53zM269.77 82.28h1.53v2.06h-1.53zM269.77 90.31h1.53v2.06h-1.53zM269.77 104.37h1.53v2.06h-1.53zM271.25 68.22h1.53v2.06h-1.53zM271.25 74.24h1.53v2.06h-1.53zM271.25 84.28h1.53v2.06h-1.53zM271.25 90.31h1.53v2.06h-1.53zM271.25 92.32h1.53v2.06h-1.53zM271.25 96.34h1.53v2.06h-1.53zM271.25 100.35h1.53v2.06h-1.53zM271.25 108.39h1.53v2.06h-1.53zM271.25 110.40h1.53v2.06h-1.53zM271.25 114.41h1.53v2.06h-1.53zM271.25 128.47h1.53v2.06h-1.53zM271.25 132.49h1.53v2.06h-1.53zM272.73 122.45h1.53v2.06h-1.53zM280.12 28.04h1.53v2.06h-1.53zM280.12 30.05h1.53v2.06h-1.53zM280.12 34.07h1.53v2.06h-1.53zM280.12 36.08h1.53v2.06h-1.53zM280.12 44.11h1.53v2.06h-1.53zM280.12 54.16h1.53v2.06h-1.53zM280.12 56.16h1.53v2.06h-1.53zM280.12 58.17h1.53v2.06h-1.53zM280.12 60.18h1.53v2.06h-1.53zM281.60 72.23h1.53v2.06h-1.53zM281.60 74.24h1.53v2.06h-1.53zM281.60 84.28h1.53v2.06h-1.53zM281.60 90.31h1.53v2.06h-1.53zM281.60 92.32h1.53v2.06h-1.53zM281.60 98.34h1.53v2.06h-1.53zM281.60 102.36h1.53v2.06h-1.53zM281.60 104.37h1.53v2.06h-1.53zM281.60 106.38h1.53v2.06h-1.53zM281.60 110.40h1.53v2.06h-1.53zM281.60 118.43h1.53v2.06h-1.53zM281.60 126.47h1.53v2.06h-1.53zM281.60 130.48h1.53v2.06h-1.53zM284.56 76.25h1.53v2.06h-1.53zM284.56 78.26h1.53v2.06h-1.53zM284.56 80.27h1.53v2.06h-1.53zM284.56 88.30h1.53v2.06h-1.53zM284.56 96.34h1.53v2.06h-1.53zM284.56 98.34h1.53v2.06h-1.53zM284.56 100.35h1.53v2.06h-1.53zM284.56 104.37h1.53v2.06h-1.53zM284.56 106.38h1.53v2.06h-1.53zM284.56 110.40h1.53v2.06h-1.53zM284.56 112.41h1.53v2.06h-1.53zM284.56 116.42h1.53v2.06h-1.53zM284.56 122.45h1.53v2.06h-1.53zM284.56 126.47h1.53v2.06h-1.53zM286.04 66.21h1.53v2.06h-1.53zM286.04 68.22h1.53v2.06h-1.53zM286.04 82.28h1.53v2.06h-1.53zM286.04 84.28h1.53v2.06h-1.53zM286.04 88.30h1.53v2.06h-1.53zM286.04 96.34h1.53v2.06h-1.53zM286.04 102.36h1.53v2.06h-1.53zM286.04 104.37h1.53v2.06h-1.53zM286.04 108.39h1.53v2.06h-1.53zM286.04 110.40h1.53v2.06h-1.53zM286.04 112.41h1.53v2.06h-1.53zM286.04 116.42h1.53v2.06h-1.53zM286.04 118.43h1.53v2.06h-1.53zM286.04 120.44h1.53v2.06h-1.53zM286.04 122.45h1.53v2.06h-1.53zM286.04 124.46h1.53v2.06h-1.53zM286.04 128.47h1.53v2.06h-1.53zM286.04 130.48h1.53v2.06h-1.53zM287.52 84.28h1.53v2.06h-1.53z" fill="rgb(252, 241, 243)"/>
<path d="M218.00 68.22h1.53v2.06h-1.53zM218.00 92.32h1.53v2.06h-1.53zM218.00 100.35h1.53v2.06h-1.53zM218.00 106.38h1.53v2.06h-1.53zM220.96 66.21h1.53v2.06h-1.53zM220.96 78.26h1.53v2.06h-1.53zM220.96 80.27h1.53v2.06h-1.53zM220.96 82.28h1.53v2.06h-1.53zM220.96 86.29h1.53v2.06h-1.53zM220.96 90.31h1.53v2.06h-1.53zM220.96 92.32h1.53v2.06h-1.53zM220.96 94.33h1.53v2.06h-1.53zM220.96 98.34h1.53v2.06h-1.53zM220.96 106.38h1.53v2.06h-1.53zM220.96 108.39h1.53v2.06h-1.53zM220.96 110.40h1.53v2.06h-1.53zM220.96 114.41h1.53v2.06h-1.53zM220.96 116.42h1.53v2.06h-1.53zM220.96 120.44h1.53v2.06h-1.53zM220.96 122.45h1.53v2.06h-1.53zM228.35 66.21h1.53v2.06h-1.53zM228.35 88.30h1.53v2.06h-1.53zM228.35 90.31h1.53v2.06h-1.53zM228.35 98.34h1.53v2.06h-1.53zM228.35 102.36h1.53v2.06h-1.53zM228.35 112.41h1.53v2.06h-1.53zM228.35 114.41h1.53v2.06h-1.53zM228.35 128.47h1.53v2.06h-1.53zM231.31 66.21h1.53v2.06h-1.53zM231.31 70.22h1.53v2.06h-1.53zM231.31 76.25h1.53v2.06h-1.53zM231.31 90.31h1.53v2.06h-1.53zM231.31 94.33h1.53v2.06h-1.53zM231.31 106.38h1.53v2.06h-1.53zM231.31 112.41h1.53v2.06h-1.53zM231.31 114.41h1.53v2.06h-1.53zM231.31 116.42h1.53v2.06h-1.53zM231.31 118.43h1.53v2.06h-1.53zM231.31 128.47h1.53v2.06h-1.53zM232.79 98.34h1.53v2.06h-1.53zM232.79 110.40h1.53v2.06h-1.53zM234.27 66.21h1.53v2.06h-1.53zM234.27 70.22h1.53v2.06h-1.53zM234.27 72.23h1.53v2.06h-1.53zM234.27 76.25h1.53v2.06h-1.53zM234.27 78.26h1.53v2.06h-1.53zM234.27 84.28h1.53v2.06h-1.53zM234.27 110.40h1.53v2.06h-1.53zM235.75 68.22h1.53v2.06h-1.53zM235.75 72.23h1.53v2.06h-1.53zM235.75 76.25h1.53v2.06h-1.53zM235.75 82.28h1.53v2.06h-1.53zM235.75 86.29h1.53v2.06h-1.53zM235.75 90.31h1.53v2.06h-1.53zM235.75 98.34h1.53v2.06h-1.53zM235.75 120.44h1.53v2.06h-1.53zM235.75 124.46h1.53v2.06h-1.53zM235.75 132.49h1.53v2.06h-1.53zM237.23 66.21h1.53v2.06h-1.53zM237.23 72.23h1.53v2.06h-1.53zM237.23 80.27h1.53v2.06h-1.53zM237.23 86.29h1.53v2.06h-1.53zM237.23 96.34h1.53v2.06h-1.53zM237.23 100.35h1.53v2.06h-1.53zM237.23 108.39h1.53v2.06h-1.53zM237.23 110.40h1.53v2.06h-1.53zM237.23 114.41h1.53v2.06h-1.53zM237.23 118.43h1.53v2.06h-1.53zM237.23 126.47h1.53v2.06h-1.53zM238.71 78.26h1.53v2.06h-1.53zM238.71 116.42h1.53v2.06h-1.53zM243.15 66.21h1.53v2.06h-1.53zM243.15 68.22h1.53v2.06h-1.53zM243.15 82.28h1.53v2.06h-1.53zM243.15 88.30h1.53v2.06h-1.53zM243.15 90.31h1.53v2.06h-1.53zM243.15 92.32h1.53v2.06h-1.53zM243.15 98.34h1.53v2.06h-1.53zM243.15 102.36h1.53v2.06h-1.53zM243.15 104.37h1.53v2.06h-1.53zM243.15 112.41h1.53v2.06h-1.53zM243.15 116.42h1.53v2.06h-1.53zM243.15 118.43h1.53v2.06h-1.53zM243.15 120.44h1.53v2.06h-1.53zM243.15 124.46h1.53v2.06h-1.53zM243.15 128.47h1.53v2.06h-1.53zM246.10 102.36h1.53v2.06h-1.53zM247.58 82.28h1.53v2.06h-1.53zM247.58 84.28h1.53v2.06h-1.53zM247.58 88.30h1.53v2.06h-1.53zM247.58 96.34h1.53v2.06h-1.53zM247.58 98.34h1.53v2.06h-1.53zM247.58 104.37h1.53v2.06h-1.53zM247.58 116.42h1.53v2.06h-1.53zM247.58 120.44h1.53v2.06h-1.53zM247.58 128.47h1.53v2.06h-1.53zM247.58 130.48h1.53v2.06h-1.53zM249.06 18.00h1.53v2.06h-1.53zM249.06 40.09h1.53v2.06h-1.53zM253.50 66.21h1.53v2.06h-1.53zM253.50 68.22h1.53v2.06h-1.53zM253.50 72.23h1.53v2.06h-1.53zM253.50 76.25h1.53v2.06h-1.53zM253.50 78.26h1.53v2.06h-1.53zM253.50 80.27h1.53v2.06h-1.53zM253.50 86.29h1.53v2.06h-1.53zM253.50 88.30h1.53v2.06h-1.53zM253.50 92.32h1.53v2.06h-1.53zM253.50 96.34h1.53v2.06h-1.53zM253.50 102.36h1.53v2.06h-1.53zM253.50 104.37h1.53v2.06h-1.53zM253.50 110.40h1.53v2.06h-1.53zM253.50 116.42h1.53v2.06h-1.53zM253.50 120.44h1.53v2.06h-1.53zM253.50 124.46h1.53v2.06h-1.53zM253.50 130.48h1.53v2.06h-1.53zM253.50 132.49h1.53v2.06h-1.53zM254.98 72.23h1.53v2.06h-1.53zM254.98 80.27h1.53v2.06h-1.53zM254.98 86.29h1.53v2.06h-1.53zM254.98 90.31h1.53v2.06h-1.53zM254.98 94.33h1.53v2.06h-1.53zM254.98 104.37h1.53v2.06h-1.53zM254.98 126.47h1.53v2.06h-1.53zM262.38 66.21h1.53v2.06h-1.53zM262.38 70.22h1.53v2.06h-1.53zM262.38 72.23h1.53v2.06h-1.53zM262.38 88.30h1.53v2.06h-1.53zM262.38 92.32h1.53v2.06h-1.53zM262.38 100.35h1.53v2.06h-1.53zM262.38 122.45h1.53v2.06h-1.53zM263.85 80.27h1.53v2.06h-1.53zM263.85 86.29h1.53v2.06h-1.53zM263.85 88.30h1.53v2.06h-1.53zM263.85 94.33h1.53v2.06h-1.53zM263.85 104.37h1.53v2.06h-1.53zM265.33 36.08h1.53v2.06h-1.53zM266.81 82.28h1.53v2.06h-1.53zM266.81 96.34h1.53v2.06h-1.53zM266.81 126.47h1.53v2.06h-1.53zM268.29 46.12h1.53v2.06h-1.53zM268.29 50.14h1.53v2.06h-1.53zM269.77 28.04h1.53v2.06h-1.53zM269.77 38.09h1.53v2.06h-1.53zM269.77 76.25h1.53v2.06h-1.53zM269.77 94.33h1.53v2.06h-1.53zM269.77 106.38h1.53v2.06h-1.53zM269.77 110.40h1.53v2.06h-1.53zM269.77 112.41h1.53v2.06h-1.53zM269.77 128.47h1.53v2.06h-1.53zM271.25 24.03h1.53v2.06h-1.53zM271.25 32.06h1.53v2.06h-1.53zM271.25 34.07h1.53v2.06h-1.53zM271.25 40.09h1.53v2.06h-1.53zM271.25 50.14h1.53v2.06h-1.53zM271.25 52.15h1.53v2.06h-1.53zM271.25 54.16h1.53v2.06h-1.53zM271.25 56.16h1.53v2.06h-1.53zM271.25 58.17h1.53v2.06h-1.53zM271.25 60.18h1.53v2.06h-1.53zM271.25 62.19h1.53v2.06h-1.53zM272.73 18.00h1.53v2.06h-1.53zM272.73 38.09h1.53v2.06h-1.53zM272.73 40.09h1.53v2.06h-1.53zM272.73 46.12h1.53v2.06h-1.53zM272.73 58.17h1.53v2.06h-1.53zM272.73 64.20h1.53v2.06h-1.53zM272.73 66.21h1.53v2.06h-1.53zM272.73 72.23h1.53v2.06h-1.53zM272.73 76.25h1.53v2.06h-1.53zM272.73 80.27h1.53v2.06h-1.53zM272.73 82.28h1.53v2.06h-1.53zM272.73 88.30h1.53v2.06h-1.53zM272.73 90.31h1.53v2.06h-1.53zM272.73 92.32h1.53v2.06h-1.53zM272.73 94.33h1.53v2.06h-1.53zM272.73 100.35h1.53v2.06h-1.53zM272.73 102.36h1.53v2.06h-1.53zM272.73 108.39h1.53v2.06h-1.53zM272.73 112.41h1.53v2.06h-1.53zM272.73 118.43h1.53v2.06h-1.53zM272.73 124.46h1.53v2.06h-1.53zM272.73 126.47h1.53v2.06h-1.53zM272.73 128.47h1.53v2.06h-1.53zM274.21 18.00h1.53v2.06h-1.53zM274.21 26.03h1.53v2.06h-1.53zM274.21 28.04h1.53v2.06h-1.53zM274.21 42.10h1.53v2.06h-1.53zM274.21 44.11h1.53v2.06h-1.53zM274.21 46.12h1.53v2.06h-1.53zM274.21 52.15h1.53v2.06h-1.53zM274.21 54.16h1.53v2.06h-1.53zM274.21 64.20h1.53v2.06h-1.53zM275.69 30.05h1.53v2.06h-1.53zM275.69 40.09h1.53v2.06h-1.53zM275.69 54.16h1.53v2.06h-1.53zM275.69 58.17h1.53v2.06h-1.53zM275.69 62.19h1.53v2.06h-1.53zM275.69 64.20h1.53v2.06h-1.53zM275.69 66.21h1.53v2.06h-1.53zM275.69 70.22h1.53v2.06h-1.53zM275.69 72.23h1.53v2.06h-1.53zM275.69 76.25h1.53v2.06h-1.53zM275.69 78.26h1.53v2.06h-1.53zM275.69 82.28h1.53v2.06h-1.53zM275.69 86.29h1.53v2.06h-1.53zM275.69 92.32h1.53v2.06h-1.53zM275.69 98.34h1.53v2.06h-1.53zM275.69 102.36h1.53v2.06h-1.53zM275.69 106.38h1.53v2.06h-1.53zM275.69 108.39h1.53v2.06h-1.53zM275.69 116.42h1.53v2.06h-1.53zM275.69 124.46h1.53v2.06h-1.53zM275.69 126.47h1.53v2.06h-1.53zM275.69 130.48h1.53v2.06h-1.53zM275.69 132.49h1.53v2.06h-1.53zM277.17 34.07h1.53v2.06h-1.53zM277.17 36.08h1.53v2.06h-1.53zM277.17 40.09h1.53v2.06h-1.53zM277.17 48.13h1.53v2.06h-1.53zM277.17 58.17h1.53v2.06h-1.53zM277.17 60.18h1.53v2.06h-1.53zM277.17 62.19h1.53v2.06h-1.53zM277.17 64.20h1.53v2.06h-1.53zM278.65 34.07h1.53v2.06h-1.53zM278.65 36.08h1.53v2.06h-1.53zM278.65 38.09h1.53v2.06h-1.53zM278.65 58.17h1.53v2.06h-1.53zM281.60 18.00h1.53v2.06h-1.53zM281.60 20.01h1.53v2.06h-1.53zM281.60 24.03h1.53v2.06h-1.53zM281.60 28.04h1.53v2.06h-1.53zM281.60 40.09h1.53v2.06h-1.53zM281.60 54.16h1.53v2.06h-1.53zM283.08 20.01h1.53v2.06h-1.53zM283.08 22.02h1.53v2.06h-1.53zM283.08 26.03h1.53v2.06h-1.53zM283.08 36.08h1.53v2.06h-1.53zM283.08 38.09h1.53v2.06h-1.53zM283.08 40.09h1.53v2.06h-1.53zM283.08 50.14h1.53v2.06h-1.53zM283.08 56.16h1.53v2.06h-1.53zM283.08 58.17h1.53v2.06h-1.53zM283.08 60.18h1.53v2.06h-1.53zM283.08 62.19h1.53v2.06h-1.53zM283.08 64.20h1.53v2.06h-1.53zM284.56 128.47h1.53v2.06h-1.53zM287.52 28.04h1.53v2.06h-1.53zM287.52 40.09h1.53v2.06h-1.53z" fill="rgb(233, 232, 249)"/>
<path d="M218.00 72.23h1.53v2.06h-1.53zM218.00 74.24h1.53v2.06h-1.53zM218.00 80.27h1.53v2.06h-1.53zM218.00 82.28h1.53v2.06h-1.53zM218.00 90.31h1.53v2.06h-1.53zM218.00 98.34h1.53v2.06h-1.53zM218.00 102.36h1.53v2.06h-1.53zM218.00 130.48h1.53v2.06h-1.53zM219.48 68.22h1.53v2.06h-1.53zM219.48 70.22h1.53v2.06h-1.53zM219.48 78.26h1.53v2.06h-1.53zM219.48 80.27h1.53v2.06h-1.53zM219.48 86.29h1.53v2.06h-1.53zM219.48 90.31h1.53v2.06h-1.53zM219.48 102.36h1.53v2.06h-1.53zM219.48 116.42h1.53v2.06h-1.53zM219.48 122.45h1.53v2.06h-1.53zM219.48 124.46h1.53v2.06h-1.53zM219.48 126.47h1.53v2.06h-1.53zM219.48 130.48h1.53v2.06h-1.53zM220.96 38.09h1.53v2.06h-1.53zM220.96 40.09h1.53v2.06h-1.53zM220.96 46.12h1.53v2.06h-1.53zM220.96 60.18h1.53v2.06h-1.53zM220.96 72.23h1.53v2.06h-1.53zM220.96 84.28h1.53v2.06h-1.53zM220.96 88.30h1.53v2.06h-1.53zM220.96 118.43h1.53v2.06h-1.53zM220.96 126.47h1.53v2.06h-1.53zM220.96 130.48h1.53v2.06h-1.53zM228.35 30.05h1.53v2.06h-1.53zM228.35 54.16h1.53v2.06h-1.53zM228.35 56.16h1.53v2.06h-1.53zM228.35 70.22h1.53v2.06h-1.53zM228.35 74.24h1.53v2.06h-1.53zM228.35 76.25h1.53v2.06h-1.53zM228.35 78.26h1.53v2.06h-1.53zM228.35 84.28h1.53v2.06h-1.53zM228.35 92.32h1.53v2.06h-1.53zM228.35 96.34h1.53v2.06h-1.53zM228.35 108.39h1.53v2.06h-1.53zM228.35 116.42h1.53v2.06h-1.53zM228.35 118.43h1.53v2.06h-1.53zM228.35 120.44h1.53v2.06h-1.53zM228.35 124.46h1.53v2.06h-1.53zM228.35 126.47h1.53v2.06h-1.53zM228.35 130.48h1.53v2.06h-1.53zM229.83 36.08h1.53v2.06h-1.53zM231.31 68.22h1.53v2.06h-1.53zM231.31 72.23h1.53v2.06h-1.53zM231.31 74.24h1.53v2.06h-1.53zM231.31 80.27h1.53v2.06h-1.53zM231.31 84.28h1.53v2.06h-1.53zM231.31 86.29h1.53v2.06h-1.53zM231.31 88.30h1.53v2.06h-1.53zM231.31 92.32h1.53v2.06h-1.53zM231.31 100.35h1.53v2.06h-1.53zM231.31 102.36h1.53v2.06h-1.53zM231.31 104.37h1.53v2.06h-1.53zM231.31 110.40h1.53v2.06h-1.53zM231.31 122.45h1.53v2.06h-1.53zM231.31 124.46h1.53v2.06h-1.53zM231.31 126.47h1.53v2.06h-1.53zM232.79 68.22h1.53v2.06h-1.53zM232.79 78.26h1.53v2.06h-1.53zM232.79 90.31h1.53v2.06h-1.53zM232.79 100.35h1.53v2.06h-1.53zM232.79 104.37h1.53v2.06h-1.53zM232.79 132.49h1.53v2.06h-1.53zM234.27 104.37h1.53v2.06h-1.53zM234.27 106.38h1.53v2.06h-1.53zM234.27 128.47h1.53v2.06h-1.53zM235.75 64.20h1.53v2.06h-1.53zM235.75 70.22h1.53v2.06h-1.53zM235.75 80.27h1.53v2.06h-1.53zM235.75 84.28h1.53v2.06h-1.53zM235.75 88.30h1.53v2.06h-1.53zM235.75 94.33h1.53v2.06h-1.53zM235.75 96.34h1.53v2.06h-1.53zM235.75 102.36h1.53v2.06h-1.53zM235.75 106.38h1.53v2.06h-1.53zM235.75 110.40h1.53v2.06h-1.53zM235.75 118.43h1.53v2.06h-1.53zM235.75 126.47h1.53v2.06h-1.53zM235.75 130.48h1.53v2.06h-1.53zM237.23 76.25h1.53v2.06h-1.53zM237.23 84.28h1.53v2.06h-1.53zM237.23 90.31h1.53v2.06h-1.53zM237.23 98.34h1.53v2.06h-1.53zM237.23 132.49h1.53v2.06h-1.53zM240.19 40.09h1.53v2.06h-1.53zM243.15 80.27h1.53v2.06h-1.53zM243.15 86.29h1.53v2.06h-1.53zM243.15 94.33h1.53v2.06h-1.53zM243.15 96.34h1.53v2.06h-1.53zM243.15 100.35h1.53v2.06h-1.53zM243.15 110.40h1.53v2.06h-1.53zM243.15 122.45h1.53v2.06h-1.53zM243.15 130.48h1.53v2.06h-1.53zM243.15 132.49h1.53v2.06h-1.53zM247.58 76.25h1.53v2.06h-1.53zM247.58 92.32h1.53v2.06h-1.53zM247.58 100.35h1.53v2.06h-1.53zM247.58 110.40h1.53v2.06h-1.53zM247.58 112.41h1.53v2.06h-1.53zM247.58 122.45h1.53v2.06h-1.53zM247.58 124.46h1.53v2.06h-1.53zM247.58 126.47h1.53v2.06h-1.53zM247.58 132.49h1.53v2.06h-1.53zM249.06 32.06h1.53v2.06h-1.53zM253.50 70.22h1.53v2.06h-1.53zM253.50 74.24h1.53v2.06h-1.53zM253.50 94.33h1.53v2.06h-1.53zM253.50 98.34h1.53v2.06h-1.53zM253.50 100.35h1.53v2.06h-1.53zM253.50 118.43h1.53v2.06h-1.53zM253.50 126.47h1.53v2.06h-1.53zM253.50 128.47h1.53v2.06h-1.53zM254.98 64.20h1.53v2.06h-1.53zM254.98 70.22h1.53v2.06h-1.53zM254.98 78.26h1.53v2.06h-1.53zM254.98 82.28h1.53v2.06h-1.53zM254.98 84.28h1.53v2.06h-1.53zM254.98 106.38h1.53v2.06h-1.53zM254.98 108.39h1.53v2.06h-1.53zM254.98 112.41h1.53v2.06h-1.53zM254.98 114.41h1.53v2.06h-1.53zM254.98 124.46h1.53v2.06h-1.53zM254.98 130.48h1.53v2.06h-1.53zM257.94 20.01h1.53v2.06h-1.53zM260.90 90.31h1.53v2.06h-1.53zM260.90 110.40h1.53v2.06h-1.53zM262.38 94.33h1.53v2.06h-1.53zM263.85 68.22h1.53v2.06h-1.53zM263.85 78.26h1.53v2.06h-1.53zM263.85 82.28h1.53v2.06h-1.53zM263.85 90.31h1.53v2.06h-1.53zM263.85 96.34h1.53v2.06h-1.53zM263.85 98.34h1.53v2.06h-1.53zM263.85 100.35h1.53v2.06h-1.53zM263.85 108.39h1.53v2.06h-1.53zM263.85 110.40h1.53v2.06h-1.53zM263.85 116.42h1.53v2.06h-1.53zM263.85 118.43h1.53v2.06h-1.53zM263.85 120.44h1.53v2.06h-1.53zM263.85 126.47h1.53v2.06h-1.53zM263.85 128.47h1.53v2.06h-1.53zM263.85 130.48h1.53v2.06h-1.53zM263.85 132.49h1.53v2.06h-1.53zM265.33 34.07h1.53v2.06h-1.53zM265.33 44.11h1.53v2.06h-1.53zM265.33 46.12h1.53v2.06h-1.53zM266.81 70.22h1.53v2.06h-1.53zM266.81 74.24h1.53v2.06h-1.53zM266.81 76.25h1.53v2.06h-1.53zM266.81 78.26h1.53v2.06h-1.53zM266.81 92.32h1.53v2.06h-1.53zM266.81 98.34h1.53v2.06h-1.53zM266.81 100.35h1.53v2.06h-1.53zM266.81 104.37h1.53v2.06h-1.53zM266.81 110.40h1.53v2.06h-1.53zM266.81 114.41h1.53v2.06h-1.53zM266.81 116.42h1.53v2.06h-1.53zM266.81 118.43h1.53v2.06h-1.53zM266.81 122.45h1.53v2.06h-1.53zM269.77 20.01h1.53v2.06h-1.53zM269.77 22.02h1.53v2.06h-1.53zM269.77 24.03h1.53v2.06h-1.53zM269.77 32.06h1.53v2.06h-1.53zM269.77 34.07h1.53v2.06h-1.53zM269.77 48.13h1.53v2.06h-1.53zM269.77 50.14h1.53v2.06h-1.53zM269.77 54.16h1.53v2.06h-1.53zM269.77 58.17h1.53v2.06h-1.53zM269.77 60.18h1.53v2.06h-1.53zM269.77 64.20h1.53v2.06h-1.53zM269.77 66.21h1.53v2.06h-1.53zM269.77 72.23h1.53v2.06h-1.53zM269.77 86.29h1.53v2.06h-1.53zM269.77 88.30h1.53v2.06h-1.53zM269.77 92.32h1.53v2.06h-1.53zM269.77 96.34h1.53v2.06h-1.53zM269.77 98.34h1.53v2.06h-1.53zM269.77 102.36h1.53v2.06h-1.53zM269.77 120.44h1.53v2.06h-1.53zM269.77 122.45h1.53v2.06h-1.53zM269.77 124.46h1.53v2.06h-1.53zM269.77 126.47h1.53v2.06h-1.53zM269.77 130.48h1.53v2.06h-1.53zM271.25 30.05h1.53v2.06h-1.53zM271.25 48.13h1.53v2.06h-1.53zM271.25 70.22h1.53v2.06h-1.53zM271.25 76.25h1.53v2.06h-1.53zM271.25 78.26h1.53v2.06h-1.53zM271.25 94.33h1.53v2.06h-1.53zM271.25 124.46h1.53v2.06h-1.53zM272.73 24.03h1.53v2.06h-1.53zM272.73 28.04h1.53v2.06h-1.53zM272.73 36.08h1.53v2.06h-1.53zM272.73 42.10h1.53v2.06h-1.53zM272.73 44.11h1.53v2.06h-1.53zM272.73 48.13h1.53v2.06h-1.53zM272.73 50.14h1.53v2.06h-1.53zM272.73 52.15h1.53v2.06h-1.53zM272.73 60.18h1.53v2.06h-1.53zM272.73 70.22h1.53v2.06h-1.53zM272.73 86.29h1.53v2.06h-1.53zM272.73 96.34h1.53v2.06h-1.53zM272.73 98.34h1.53v2.06h-1.53zM272.73 106.38h1.53v2.06h-1.53zM272.73 114.41h1.53v2.06h-1.53zM272.73 116.42h1.53v2.06h-1.53zM272.73 130.48h1.53v2.06h-1.53zM274.21 20.01h1.53v2.06h-1.53zM274.21 24.03h1.53v2.06h-1.53zM274.21 30.05h1.53v2.06h-1.53zM274.21 32.06h1.53v2.06h-1.53zM274.21 48.13h1.53v2.06h-1.53zM274.21 56.16h1.53v2.06h-1.53zM274.21 58.17h1.53v2.06h-1.53zM274.21 62.19h1.53v2.06h-1.53zM275.69 44.11h1.53v2.06h-1.53zM275.69 84.28h1.53v2.06h-1.53zM275.69 96.34h1.53v2.06h-1.53zM275.69 100.35h1.53v2.06h-1.53zM275.69 104.37h1.53v2.06h-1.53zM275.69 110.40h1.53v2.06h-1.53zM275.69 114.41h1.53v2.06h-1.53zM277.17 18.00h1.53v2.06h-1.53zM277.17 22.02h1.53v2.06h-1.53zM277.17 26.03h1.53v2.06h-1.53zM277.17 30.05h1.53v2.06h-1.53zM277.17 32.06h1.53v2.06h-1.53zM277.17 38.09h1.53v2.06h-1.53zM277.17 44.11h1.53v2.06h-1.53zM277.17 56.16h1.53v2.06h-1.53zM280.12 20.01h1.53v2.06h-1.53zM280.12 24.03h1.53v2.06h-1.53zM280.12 32.06h1.53v2.06h-1.53zM281.60 60.18h1.53v2.06h-1.53zM283.08 32.06h1.53v2.06h-1.53zM283.08 34.07h1.53v2.06h-1.53zM283.08 46.12h1.53v2.06h-1.53zM284.56 68.22h1.53v2.06h-1.53zM284.56 70.22h1.53v2.06h-1.53zM284.56 86.29h1.53v2.06h-1.53zM284.56 90.31h1.53v2.06h-1.53zM284.56 94.33h1.53v2.06h-1.53zM284.56 114.41h1.53v2.06h-1.53zM284.56 118.43h1.53v2.06h-1.53zM286.04 74.24h1.53v2.06h-1.53zM286.04 126.47h1.53v2.06h-1.53z" fill="rgb(239, 238, 250)"/>
<path d="M218.00 76.25h1.53v2.06h-1.53zM218.00 78.26h1.53v2.06h-1.53zM218.00 84.28h1.53v2.06h-1.53zM218.00 86.29h1.53v2.06h-1.53zM218.00 88.30h1.53v2.06h-1.53zM218.00 96.34h1.53v2.06h-1.53zM218.00 104.37h1.53v2.06h-1.53zM218.00 110.40h1.53v2.06h-1.53zM218.00 112.41h1.53v2.06h-1.53zM218.00 114.41h1.53v2.06h-1.53zM218.00 116.42h1.53v2.06h-1.53zM218.00 120.44h1.53v2.06h-1.53zM218.00 126.47h1.53v2.06h-1.53zM218.00 128.47h1.53v2.06h-1.53zM218.00 132.49h1.53v2.06h-1.53zM219.48 66.21h1.53v2.06h-1.53zM219.48 72.23h1.53v2.06h-1.53zM219.48 74.24h1.53v2.06h-1.53zM219.48 76.25h1.53v2.06h-1.53zM219.48 82.28h1.53v2.06h-1.53zM219.48 92.32h1.53v2.06h-1.53zM219.48 100.35h1.53v2.06h-1.53zM219.48 106.38h1.53v2.06h-1.53zM219.48 108.39h1.53v2.06h-1.53zM219.48 114.41h1.53v2.06h-1.53zM219.48 118.43h1.53v2.06h-1.53zM219.48 120.44h1.53v2.06h-1.53zM219.48 128.47h1.53v2.06h-1.53zM219.48 132.49h1.53v2.06h-1.53zM220.96 28.04h1.53v2.06h-1.53zM220.96 30.05h1.53v2.06h-1.53zM220.96 34.07h1.53v2.06h-1.53zM220.96 52.15h1.53v2.06h-1.53zM220.96 54.16h1.53v2.06h-1.53zM220.96 56.16h1.53v2.06h-1.53zM220.96 58.17h1.53v2.06h-1.53zM220.96 62.19h1.53v2.06h-1.53zM220.96 64.20h1.53v2.06h-1.53zM220.96 74.24h1.53v2.06h-1.53zM220.96 102.36h1.53v2.06h-1.53zM220.96 104.37h1.53v2.06h-1.53zM220.96 112.41h1.53v2.06h-1.53zM220.96 124.46h1.53v2.06h-1.53zM220.96 128.47h1.53v2.06h-1.53zM220.96 132.49h1.53v2.06h-1.53zM222.44 24.03h1.53v2.06h-1.53zM222.44 26.03h1.53v2.06h-1.53zM222.44 34.07h1.53v2.06h-1.53zM222.44 48.13h1.53v2.06h-1.53zM222.44 60.18h1.53v2.06h-1.53zM228.35 24.03h1.53v2.06h-1.53zM228.35 26.03h1.53v2.06h-1.53zM228.35 28.04h1.53v2.06h-1.53zM228.35 32.06h1.53v2.06h-1.53zM228.35 42.10h1.53v2.06h-1.53zM228.35 46.12h1.53v2.06h-1.53zM228.35 50.14h1.53v2.06h-1.53zM228.35 58.17h1.53v2.06h-1.53zM228.35 62.19h1.53v2.06h-1.53zM228.35 64.20h1.53v2.06h-1.53zM228.35 68.22h1.53v2.06h-1.53zM228.35 72.23h1.53v2.06h-1.53zM228.35 80.27h1.53v2.06h-1.53zM228.35 82.28h1.53v2.06h-1.53zM228.35 94.33h1.53v2.06h-1.53zM228.35 104.37h1.53v2.06h-1.53zM228.35 106.38h1.53v2.06h-1.53zM228.35 110.40h1.53v2.06h-1.53zM228.35 132.49h1.53v2.06h-1.53zM229.83 18.00h1.53v2.06h-1.53zM229.83 20.01h1.53v2.06h-1.53zM229.83 22.02h1.53v2.06h-1.53zM229.83 46.12h1.53v2.06h-1.53zM229.83 50.14h1.53v2.06h-1.53zM229.83 54.16h1.53v2.06h-1.53zM229.83 58.17h1.53v2.06h-1.53zM229.83 60.18h1.53v2.06h-1.53zM229.83 62.19h1.53v2.06h-1.53zM231.31 22.02h1.53v2.06h-1.53zM231.31 44.11h1.53v2.06h-1.53zM231.31 82.28h1.53v2.06h-1.53zM232.79 70.22h1.53v2.06h-1.53zM232.79 72.23h1.53v2.06h-1.53zM232.79 74.24h1.53v2.06h-1.53zM232.79 84.28h1.53v2.06h-1.53zM232.79 88.30h1.53v2.06h-1.53zM232.79 96.34h1.53v2.06h-1.53zM232.79 122.45h1.53v2.06h-1.53zM232.79 124.46h1.53v2.06h-1.53zM232.79 126.47h1.53v2.06h-1.53zM232.79 130.48h1.53v2.06h-1.53zM235.75 26.03h1.53v2.06h-1.53zM235.75 30.05h1.53v2.06h-1.53zM235.75 42.10h1.53v2.06h-1.53zM235.75 62.19h1.53v2.06h-1.53zM235.75 66.21h1.53v2.06h-1.53zM235.75 78.26h1.53v2.06h-1.53zM235.75 100.35h1.53v2.06h-1.53zM235.75 104.37h1.53v2.06h-1.53zM235.75 108.39h1.53v2.06h-1.53zM235.75 116.42h1.53v2.06h-1.53zM235.75 122.45h1.53v2.06h-1.53zM235.75 128.47h1.53v2.06h-1.53zM237.23 30.05h1.53v2.06h-1.53zM237.23 54.16h1.53v2.06h-1.53zM237.23 124.46h1.53v2.06h-1.53zM238.71 22.02h1.53v2.06h-1.53zM238.71 40.09h1.53v2.06h-1.53zM240.19 18.00h1.53v2.06h-1.53zM240.19 30.05h1.53v2.06h-1.53zM240.19 34.07h1.53v2.06h-1.53zM240.19 38.09h1.53v2.06h-1.53zM240.19 42.10h1.53v2.06h-1.53zM240.19 52.15h1.53v2.06h-1.53zM241.67 38.09h1.53v2.06h-1.53zM243.15 34.07h1.53v2.06h-1.53zM243.15 58.17h1.53v2.06h-1.53zM243.15 62.19h1.53v2.06h-1.53zM247.58 66.21h1.53v2.06h-1.53zM247.58 70.22h1.53v2.06h-1.53zM247.58 72.23h1.53v2.06h-1.53zM247.58 118.43h1.53v2.06h-1.53zM249.06 20.01h1.53v2.06h-1.53zM249.06 28.04h1.53v2.06h-1.53zM249.06 30.05h1.53v2.06h-1.53zM249.06 42.10h1.53v2.06h-1.53zM249.06 44.11h1.53v2.06h-1.53zM249.06 58.17h1.53v2.06h-1.53zM249.06 98.34h1.53v2.06h-1.53zM253.50 18.00h1.53v2.06h-1.53zM253.50 28.04h1.53v2.06h-1.53zM253.50 62.19h1.53v2.06h-1.53zM253.50 112.41h1.53v2.06h-1.53zM253.50 114.41h1.53v2.06h-1.53zM254.98 46.12h1.53v2.06h-1.53zM254.98 66.21h1.53v2.06h-1.53zM254.98 68.22h1.53v2.06h-1.53zM254.98 74.24h1.53v2.06h-1.53zM254.98 76.25h1.53v2.06h-1.53zM254.98 88.30h1.53v2.06h-1.53zM254.98 96.34h1.53v2.06h-1.53zM254.98 98.34h1.53v2.06h-1.53zM254.98 102.36h1.53v2.06h-1.53zM254.98 116.42h1.53v2.06h-1.53zM254.98 118.43h1.53v2.06h-1.53zM254.98 120.44h1.53v2.06h-1.53zM254.98 132.49h1.53v2.06h-1.53zM257.94 36.08h1.53v2.06h-1.53zM257.94 62.19h1.53v2.06h-1.53zM257.94 96.34h1.53v2.06h-1.53zM260.90 68.22h1.53v2.06h-1.53zM260.90 92.32h1.53v2.06h-1.53zM260.90 94.33h1.53v2.06h-1.53zM260.90 104.37h1.53v2.06h-1.53zM260.90 108.39h1.53v2.06h-1.53zM260.90 114.41h1.53v2.06h-1.53zM260.90 116.42h1.53v2.06h-1.53zM260.90 118.43h1.53v2.06h-1.53zM260.90 124.46h1.53v2.06h-1.53zM260.90 128.47h1.53v2.06h-1.53zM260.90 132.49h1.53v2.06h-1.53zM263.85 66.21h1.53v2.06h-1.53zM263.85 72.23h1.53v2.06h-1.53zM263.85 76.25h1.53v2.06h-1.53zM263.85 92.32h1.53v2.06h-1.53zM263.85 102.36h1.53v2.06h-1.53zM263.85 106.38h1.53v2.06h-1.53zM263.85 112.41h1.53v2.06h-1.53zM263.85 122.45h1.53v2.06h-1.53zM265.33 22.02h1.53v2.06h-1.53zM265.33 26.03h1.53v2.06h-1.53zM265.33 30.05h1.53v2.06h-1.53zM265.33 32.06h1.53v2.06h-1.53zM265.33 38.09h1.53v2.06h-1.53zM265.33 40.09h1.53v2.06h-1.53zM265.33 42.10h1.53v2.06h-1.53zM265.33 62.19h1.53v2.06h-1.53zM265.33 64.20h1.53v2.06h-1.53zM266.81 66.21h1.53v2.06h-1.53zM266.81 72.23h1.53v2.06h-1.53zM266.81 80.27h1.53v2.06h-1.53zM266.81 84.28h1.53v2.06h-1.53zM266.81 86.29h1.53v2.06h-1.53zM266.81 90.31h1.53v2.06h-1.53zM266.81 94.33h1.53v2.06h-1.53zM266.81 106.38h1.53v2.06h-1.53zM266.81 108.39h1.53v2.06h-1.53zM266.81 112.41h1.53v2.06h-1.53zM266.81 120.44h1.53v2.06h-1.53zM266.81 124.46h1.53v2.06h-1.53zM266.81 128.47h1.53v2.06h-1.53zM266.81 130.48h1.53v2.06h-1.53zM266.81 132.49h1.53v2.06h-1.53zM269.77 18.00h1.53v2.06h-1.53zM269.77 26.03h1.53v2.06h-1.53zM269.77 30.05h1.53v2.06h-1.53zM269.77 42.10h1.53v2.06h-1.53zM269.77 44.11h1.53v2.06h-1.53zM269.77 46.12h1.53v2.06h-1.53zM269.77 52.15h1.53v2.06h-1.53zM269.77 56.16h1.53v2.06h-1.53zM269.77 68.22h1.53v2.06h-1.53zM269.77 74.24h1.53v2.06h-1.53zM269.77 78.26h1.53v2.06h-1.53zM269.77 80.27h1.53v2.06h-1.53zM269.77 84.28h1.53v2.06h-1.53zM269.77 100.35h1.53v2.06h-1.53zM269.77 108.39h1.53v2.06h-1.53zM269.77 114.41h1.53v2.06h-1.53zM269.77 116.42h1.53v2.06h-1.53zM269.77 118.43h1.53v2.06h-1.53zM269.77 132.49h1.53v2.06h-1.53zM271.25 18.00h1.53v2.06h-1.53zM271.25 28.04h1.53v2.06h-1.53zM271.25 66.21h1.53v2.06h-1.53zM271.25 82.28h1.53v2.06h-1.53zM271.25 88.30h1.53v2.06h-1.53zM271.25 98.34h1.53v2.06h-1.53zM271.25 106.38h1.53v2.06h-1.53zM271.25 116.42h1.53v2.06h-1.53zM271.25 118.43h1.53v2.06h-1.53zM271.25 120.44h1.53v2.06h-1.53zM271.25 122.45h1.53v2.06h-1.53zM271.25 130.48h1.53v2.06h-1.53zM272.73 26.03h1.53v2.06h-1.53zM272.73 54.16h1.53v2.06h-1.53zM272.73 74.24h1.53v2.06h-1.53zM272.73 78.26h1.53v2.06h-1.53zM272.73 104.37h1.53v2.06h-1.53zM272.73 110.40h1.53v2.06h-1.53zM274.21 22.02h1.53v2.06h-1.53zM274.21 34.07h1.53v2.06h-1.53zM274.21 38.09h1.53v2.06h-1.53zM274.21 40.09h1.53v2.06h-1.53zM274.21 50.14h1.53v2.06h-1.53zM274.21 60.18h1.53v2.06h-1.53zM275.69 68.22h1.53v2.06h-1.53zM275.69 120.44h1.53v2.06h-1.53zM277.17 46.12h1.53v2.06h-1.53zM277.17 52.15h1.53v2.06h-1.53zM280.12 38.09h1.53v2.06h-1.53zM280.12 48.13h1.53v2.06h-1.53zM281.60 78.26h1.53v2.06h-1.53zM281.60 82.28h1.53v2.06h-1.53zM281.60 88.30h1.53v2.06h-1.53zM281.60 94.33h1.53v2.06h-1.53zM281.60 108.39h1.53v2.06h-1.53zM281.60 128.47h1.53v2.06h-1.53zM284.56 66.21h1.53v2.06h-1.53zM284.56 72.23h1.53v2.06h-1.53zM284.56 74.24h1.53v2.06h-1.53zM284.56 82.28h1.53v2.06h-1.53zM284.56 92.32h1.53v2.06h-1.53zM284.56 102.36h1.53v2.06h-1.53zM284.56 108.39h1.53v2.06h-1.53zM284.56 120.44h1.53v2.06h-1.53zM284.56 124.46h1.53v2.06h-1.53zM284.56 130.48h1.53v2.06h-1.53zM284.56 132.49h1.53v2.06h-1.53zM286.04 70.22h1.53v2.06h-1.53zM286.04 72.23h1.53v2.06h-1.53zM286.04 76.25h1.53v2.06h-1.53zM286.04 100.35h1.53v2.06h-1.53zM286.04 132.49h1.53v2.06h-1.53z" fill="rgb(246, 244, 252)"/>
<path d="M219.48 84.28h1.53v2.06h-1.53zM220.96 70.22h1.53v2.06h-1.53zM220.96 100.35h1.53v2.06h-1.53zM222.44 88.30h1.53v2.06h-1.53zM222.44 98.34h1.53v2.06h-1.53zM222.44 102.36h1.53v2.06h-1.53zM222.44 106.38h1.53v2.06h-1.53zM222.44 108.39h1.53v2.06h-1.53zM222.44 132.49h1.53v2.06h-1.53zM228.35 86.29h1.53v2.06h-1.53zM229.83 76.25h1.53v2.06h-1.53zM231.31 78.26h1.53v2.06h-1.53zM231.31 96.34h1.53v2.06h-1.53zM231.31 98.34h1.53v2.06h-1.53zM231.31 108.39h1.53v2.06h-1.53zM231.31 120.44h1.53v2.06h-1.53zM231.31 130.48h1.53v2.06h-1.53zM231.31 132.49h1.53v2.06h-1.53zM234.27 68.22h1.53v2.06h-1.53zM234.27 74.24h1.53v2.06h-1.53zM234.27 86.29h1.53v2.06h-1.53zM234.27 88.30h1.53v2.06h-1.53zM234.27 96.34h1.53v2.06h-1.53zM234.27 102.36h1.53v2.06h-1.53zM234.27 108.39h1.53v2.06h-1.53zM234.27 112.41h1.53v2.06h-1.53zM234.27 114.41h1.53v2.06h-1.53zM234.27 116.42h1.53v2.06h-1.53zM234.27 118.43h1.53v2.06h-1.53zM234.27 122.45h1.53v2.06h-1.53zM234.27 124.46h1.53v2.06h-1.53zM234.27 126.47h1.53v2.06h-1.53zM234.27 130.48h1.53v2.06h-1.53zM235.75 74.24h1.53v2.06h-1.53zM235.75 92.32h1.53v2.06h-1.53zM235.75 112.41h1.53v2.06h-1.53zM237.23 70.22h1.53v2.06h-1.53zM237.23 74.24h1.53v2.06h-1.53zM237.23 78.26h1.53v2.06h-1.53zM237.23 82.28h1.53v2.06h-1.53zM237.23 92.32h1.53v2.06h-1.53zM237.23 102.36h1.53v2.06h-1.53zM237.23 104.37h1.53v2.06h-1.53zM237.23 106.38h1.53v2.06h-1.53zM237.23 112.41h1.53v2.06h-1.53zM237.23 120.44h1.53v2.06h-1.53zM237.23 128.47h1.53v2.06h-1.53zM237.23 130.48h1.53v2.06h-1.53zM238.71 110.40h1.53v2.06h-1.53zM238.71 118.43h1.53v2.06h-1.53zM243.15 72.23h1.53v2.06h-1.53zM243.15 76.25h1.53v2.06h-1.53zM243.15 78.26h1.53v2.06h-1.53zM243.15 106.38h1.53v2.06h-1.53zM246.10 72.23h1.53v2.06h-1.53zM246.10 76.25h1.53v2.06h-1.53zM246.10 80.27h1.53v2.06h-1.53zM246.10 86.29h1.53v2.06h-1.53zM246.10 90.31h1.53v2.06h-1.53zM246.10 94.33h1.53v2.06h-1.53zM246.10 100.35h1.53v2.06h-1.53zM246.10 122.45h1.53v2.06h-1.53zM246.10 126.47h1.53v2.06h-1.53zM246.10 130.48h1.53v2.06h-1.53zM246.10 132.49h1.53v2.06h-1.53zM247.58 68.22h1.53v2.06h-1.53zM247.58 74.24h1.53v2.06h-1.53zM247.58 80.27h1.53v2.06h-1.53zM247.58 90.31h1.53v2.06h-1.53zM247.58 94.33h1.53v2.06h-1.53zM247.58 106.38h1.53v2.06h-1.53zM247.58 108.39h1.53v2.06h-1.53zM247.58 114.41h1.53v2.06h-1.53zM252.02 84.28h1.53v2.06h-1.53zM252.02 86.29h1.53v2.06h-1.53zM252.02 92.32h1.53v2.06h-1.53zM252.02 108.39h1.53v2.06h-1.53zM253.50 82.28h1.53v2.06h-1.53zM253.50 108.39h1.53v2.06h-1.53zM254.98 100.35h1.53v2.06h-1.53zM254.98 110.40h1.53v2.06h-1.53zM254.98 128.47h1.53v2.06h-1.53zM259.42 68.22h1.53v2.06h-1.53zM262.38 68.22h1.53v2.06h-1.53zM262.38 74.24h1.53v2.06h-1.53zM262.38 76.25h1.53v2.06h-1.53zM262.38 82.28h1.53v2.06h-1.53zM262.38 86.29h1.53v2.06h-1.53zM262.38 90.31h1.53v2.06h-1.53zM262.38 98.34h1.53v2.06h-1.53zM262.38 108.39h1.53v2.06h-1.53zM262.38 110.40h1.53v2.06h-1.53zM262.38 112.41h1.53v2.06h-1.53zM262.38 114.41h1.53v2.06h-1.53zM262.38 116.42h1.53v2.06h-1.53zM262.38 118.43h1.53v2.06h-1.53zM262.38 124.46h1.53v2.06h-1.53zM262.38 128.47h1.53v2.06h-1.53zM262.38 132.49h1.53v2.06h-1.53zM263.85 70.22h1.53v2.06h-1.53zM263.85 74.24h1.53v2.06h-1.53zM263.85 84.28h1.53v2.06h-1.53zM263.85 114.41h1.53v2.06h-1.53zM263.85 124.46h1.53v2.06h-1.53zM266.81 88.30h1.53v2.06h-1.53zM268.29 28.04h1.53v2.06h-1.53zM268.29 30.05h1.53v2.06h-1.53zM268.29 40.09h1.53v2.06h-1.53zM268.29 44.11h1.53v2.06h-1.53zM268.29 48.13h1.53v2.06h-1.53zM268.29 60.18h1.53v2.06h-1.53zM268.29 62.19h1.53v2.06h-1.53zM269.77 36.08h1.53v2.06h-1.53zM269.77 40.09h1.53v2.06h-1.53zM269.77 62.19h1.53v2.06h-1.53zM271.25 20.01h1.53v2.06h-1.53zM271.25 26.03h1.53v2.06h-1.53zM271.25 38.09h1.53v2.06h-1.53zM271.25 42.10h1.53v2.06h-1.53zM271.25 44.11h1.53v2.06h-1.53zM271.25 46.12h1.53v2.06h-1.53zM271.25 64.20h1.53v2.06h-1.53zM272.73 20.01h1.53v2.06h-1.53zM272.73 22.02h1.53v2.06h-1.53zM272.73 30.05h1.53v2.06h-1.53zM272.73 32.06h1.53v2.06h-1.53zM272.73 56.16h1.53v2.06h-1.53zM272.73 62.19h1.53v2.06h-1.53zM272.73 68.22h1.53v2.06h-1.53zM272.73 84.28h1.53v2.06h-1.53zM272.73 120.44h1.53v2.06h-1.53zM272.73 132.49h1.53v2.06h-1.53zM274.21 36.08h1.53v2.06h-1.53zM275.69 22.02h1.53v2.06h-1.53zM275.69 26.03h1.53v2.06h-1.53zM275.69 28.04h1.53v2.06h-1.53zM275.69 32.06h1.53v2.06h-1.53zM275.69 34.07h1.53v2.06h-1.53zM275.69 38.09h1.53v2.06h-1.53zM275.69 42.10h1.53v2.06h-1.53zM275.69 46.12h1.53v2.06h-1.53zM275.69 56.16h1.53v2.06h-1.53zM275.69 60.18h1.53v2.06h-1.53zM275.69 74.24h1.53v2.06h-1.53zM275.69 90.31h1.53v2.06h-1.53zM275.69 94.33h1.53v2.06h-1.53zM275.69 112.41h1.53v2.06h-1.53zM275.69 118.43h1.53v2.06h-1.53zM275.69 122.45h1.53v2.06h-1.53zM275.69 128.47h1.53v2.06h-1.53zM277.17 20.01h1.53v2.06h-1.53zM277.17 28.04h1.53v2.06h-1.53zM277.17 42.10h1.53v2.06h-1.53zM277.17 50.14h1.53v2.06h-1.53zM277.17 54.16h1.53v2.06h-1.53zM278.65 18.00h1.53v2.06h-1.53zM278.65 24.03h1.53v2.06h-1.53zM278.65 28.04h1.53v2.06h-1.53zM278.65 46.12h1.53v2.06h-1.53zM278.65 52.15h1.53v2.06h-1.53zM278.65 54.16h1.53v2.06h-1.53zM278.65 56.16h1.53v2.06h-1.53zM278.65 64.20h1.53v2.06h-1.53zM281.60 26.03h1.53v2.06h-1.53zM281.60 38.09h1.53v2.06h-1.53zM281.60 42.10h1.53v2.06h-1.53zM281.60 44.11h1.53v2.06h-1.53zM281.60 46.12h1.53v2.06h-1.53zM281.60 50.14h1.53v2.06h-1.53zM281.60 52.15h1.53v2.06h-1.53zM281.60 58.17h1.53v2.06h-1.53zM281.60 62.19h1.53v2.06h-1.53zM281.60 64.20h1.53v2.06h-1.53zM283.08 18.00h1.53v2.06h-1.53zM283.08 24.03h1.53v2.06h-1.53zM283.08 28.04h1.53v2.06h-1.53zM283.08 30.05h1.53v2.06h-1.53zM283.08 44.11h1.53v2.06h-1.53zM283.08 48.13h1.53v2.06h-1.53zM283.08 52.15h1.53v2.06h-1.53zM283.08 54.16h1.53v2.06h-1.53zM286.04 28.04h1.53v2.06h-1.53zM286.04 54.16h1.53v2.06h-1.53zM287.52 18.00h1.53v2.06h-1.53zM287.52 32.06h1.53v2.06h-1.53zM287.52 36.08h1.53v2.06h-1.53zM287.52 48.13h1.53v2.06h-1.53zM287.52 50.14h1.53v2.06h-1.53zM287.52 52.15h1.53v2.06h-1.53zM287.52 56.16h1.53v2.06h-1.53zM287.52 58.17h1.53v2.06h-1.53zM287.52 60.18h1.53v2.06h-1.53z" fill="rgb(227, 226, 248)"/>
<path d="M220.96 76.25h1.53v2.06h-1.53zM222.44 66.21h1.53v2.06h-1.53zM222.44 68.22h1.53v2.06h-1.53zM222.44 72.23h1.53v2.06h-1.53zM222.44 76.25h1.53v2.06h-1.53zM222.44 78.26h1.53v2.06h-1.53zM222.44 84.28h1.53v2.06h-1.53zM222.44 86.29h1.53v2.06h-1.53zM222.44 94.33h1.53v2.06h-1.53zM222.44 104.37h1.53v2.06h-1.53zM222.44 110.40h1.53v2.06h-1.53zM222.44 114.41h1.53v2.06h-1.53zM222.44 116.42h1.53v2.06h-1.53zM222.44 118.43h1.53v2.06h-1.53zM222.44 126.47h1.53v2.06h-1.53zM222.44 130.48h1.53v2.06h-1.53zM225.40 94.33h1.53v2.06h-1.53zM226.88 72.23h1.53v2.06h-1.53zM226.88 80.27h1.53v2.06h-1.53zM226.88 84.28h1.53v2.06h-1.53zM226.88 98.34h1.53v2.06h-1.53zM226.88 100.35h1.53v2.06h-1.53zM226.88 114.41h1.53v2.06h-1.53zM226.88 124.46h1.53v2.06h-1.53zM229.83 68.22h1.53v2.06h-1.53zM229.83 116.42h1.53v2.06h-1.53zM234.27 80.27h1.53v2.06h-1.53zM234.27 82.28h1.53v2.06h-1.53zM234.27 90.31h1.53v2.06h-1.53zM234.27 92.32h1.53v2.06h-1.53zM234.27 94.33h1.53v2.06h-1.53zM234.27 98.34h1.53v2.06h-1.53zM234.27 100.35h1.53v2.06h-1.53zM234.27 120.44h1.53v2.06h-1.53zM234.27 132.49h1.53v2.06h-1.53zM237.23 88.30h1.53v2.06h-1.53zM237.23 94.33h1.53v2.06h-1.53zM237.23 116.42h1.53v2.06h-1.53zM237.23 122.45h1.53v2.06h-1.53zM238.71 68.22h1.53v2.06h-1.53zM238.71 70.22h1.53v2.06h-1.53zM238.71 74.24h1.53v2.06h-1.53zM238.71 84.28h1.53v2.06h-1.53zM238.71 86.29h1.53v2.06h-1.53zM238.71 88.30h1.53v2.06h-1.53zM238.71 90.31h1.53v2.06h-1.53zM238.71 92.32h1.53v2.06h-1.53zM238.71 106.38h1.53v2.06h-1.53zM238.71 112.41h1.53v2.06h-1.53zM238.71 122.45h1.53v2.06h-1.53zM238.71 128.47h1.53v2.06h-1.53zM238.71 132.49h1.53v2.06h-1.53zM241.67 110.40h1.53v2.06h-1.53zM243.15 70.22h1.53v2.06h-1.53zM243.15 74.24h1.53v2.06h-1.53zM243.15 84.28h1.53v2.06h-1.53zM243.15 114.41h1.53v2.06h-1.53zM243.15 126.47h1.53v2.06h-1.53zM246.10 66.21h1.53v2.06h-1.53zM246.10 74.24h1.53v2.06h-1.53zM246.10 78.26h1.53v2.06h-1.53zM246.10 84.28h1.53v2.06h-1.53zM246.10 92.32h1.53v2.06h-1.53zM246.10 96.34h1.53v2.06h-1.53zM246.10 106.38h1.53v2.06h-1.53zM246.10 110.40h1.53v2.06h-1.53zM246.10 112.41h1.53v2.06h-1.53zM246.10 118.43h1.53v2.06h-1.53zM246.10 120.44h1.53v2.06h-1.53zM246.10 124.46h1.53v2.06h-1.53zM246.10 128.47h1.53v2.06h-1.53zM247.58 78.26h1.53v2.06h-1.53zM247.58 86.29h1.53v2.06h-1.53zM247.58 102.36h1.53v2.06h-1.53zM250.54 68.22h1.53v2.06h-1.53zM252.02 66.21h1.53v2.06h-1.53zM252.02 70.22h1.53v2.06h-1.53zM252.02 72.23h1.53v2.06h-1.53zM252.02 74.24h1.53v2.06h-1.53zM252.02 76.25h1.53v2.06h-1.53zM252.02 78.26h1.53v2.06h-1.53zM252.02 80.27h1.53v2.06h-1.53zM252.02 88.30h1.53v2.06h-1.53zM252.02 90.31h1.53v2.06h-1.53zM252.02 94.33h1.53v2.06h-1.53zM252.02 96.34h1.53v2.06h-1.53zM252.02 102.36h1.53v2.06h-1.53zM252.02 104.37h1.53v2.06h-1.53zM252.02 110.40h1.53v2.06h-1.53zM252.02 112.41h1.53v2.06h-1.53zM252.02 118.43h1.53v2.06h-1.53zM252.02 120.44h1.53v2.06h-1.53zM252.02 122.45h1.53v2.06h-1.53zM252.02 124.46h1.53v2.06h-1.53zM252.02 126.47h1.53v2.06h-1.53zM252.02 128.47h1.53v2.06h-1.53zM252.02 130.48h1.53v2.06h-1.53zM252.02 132.49h1.53v2.06h-1.53zM253.50 84.28h1.53v2.06h-1.53zM253.50 106.38h1.53v2.06h-1.53zM254.98 122.45h1.53v2.06h-1.53zM259.42 76.25h1.53v2.06h-1.53zM259.42 82.28h1.53v2.06h-1.53zM259.42 84.28h1.53v2.06h-1.53zM259.42 98.34h1.53v2.06h-1.53zM259.42 104.37h1.53v2.06h-1.53zM259.42 108.39h1.53v2.06h-1.53zM259.42 114.41h1.53v2.06h-1.53zM259.42 122.45h1.53v2.06h-1.53zM259.42 126.47h1.53v2.06h-1.53zM262.38 106.38h1.53v2.06h-1.53zM262.38 120.44h1.53v2.06h-1.53zM262.38 130.48h1.53v2.06h-1.53zM268.29 20.01h1.53v2.06h-1.53zM268.29 24.03h1.53v2.06h-1.53zM268.29 32.06h1.53v2.06h-1.53zM268.29 36.08h1.53v2.06h-1.53zM268.29 38.09h1.53v2.06h-1.53zM268.29 42.10h1.53v2.06h-1.53zM268.29 52.15h1.53v2.06h-1.53zM268.29 56.16h1.53v2.06h-1.53zM268.29 58.17h1.53v2.06h-1.53zM268.29 64.20h1.53v2.06h-1.53zM271.25 22.02h1.53v2.06h-1.53zM271.25 36.08h1.53v2.06h-1.53zM272.73 34.07h1.53v2.06h-1.53zM275.69 18.00h1.53v2.06h-1.53zM275.69 20.01h1.53v2.06h-1.53zM275.69 24.03h1.53v2.06h-1.53zM275.69 36.08h1.53v2.06h-1.53zM275.69 48.13h1.53v2.06h-1.53zM275.69 50.14h1.53v2.06h-1.53zM275.69 80.27h1.53v2.06h-1.53zM275.69 88.30h1.53v2.06h-1.53zM277.17 70.22h1.53v2.06h-1.53zM277.17 84.28h1.53v2.06h-1.53zM277.17 88.30h1.53v2.06h-1.53zM277.17 92.32h1.53v2.06h-1.53zM277.17 104.37h1.53v2.06h-1.53zM277.17 106.38h1.53v2.06h-1.53zM277.17 120.44h1.53v2.06h-1.53zM277.17 132.49h1.53v2.06h-1.53zM278.65 20.01h1.53v2.06h-1.53zM278.65 22.02h1.53v2.06h-1.53zM278.65 40.09h1.53v2.06h-1.53zM278.65 42.10h1.53v2.06h-1.53zM278.65 48.13h1.53v2.06h-1.53zM278.65 60.18h1.53v2.06h-1.53zM278.65 62.19h1.53v2.06h-1.53zM281.60 22.02h1.53v2.06h-1.53zM281.60 30.05h1.53v2.06h-1.53zM281.60 32.06h1.53v2.06h-1.53zM281.60 34.07h1.53v2.06h-1.53zM281.60 36.08h1.53v2.06h-1.53zM281.60 48.13h1.53v2.06h-1.53zM281.60 56.16h1.53v2.06h-1.53zM283.08 42.10h1.53v2.06h-1.53zM284.56 22.02h1.53v2.06h-1.53zM284.56 26.03h1.53v2.06h-1.53zM284.56 36.08h1.53v2.06h-1.53zM284.56 44.11h1.53v2.06h-1.53zM284.56 52.15h1.53v2.06h-1.53zM284.56 56.16h1.53v2.06h-1.53zM284.56 60.18h1.53v2.06h-1.53zM284.56 62.19h1.53v2.06h-1.53zM286.04 18.00h1.53v2.06h-1.53zM286.04 20.01h1.53v2.06h-1.53zM286.04 22.02h1.53v2.06h-1.53zM286.04 30.05h1.53v2.06h-1.53zM286.04 44.11h1.53v2.06h-1.53zM286.04 46.12h1.53v2.06h-1.53zM286.04 50.14h1.53v2.06h-1.53zM286.04 58.17h1.53v2.06h-1.53zM287.52 22.02h1.53v2.06h-1.53zM287.52 24.03h1.53v2.06h-1.53zM287.52 26.03h1.53v2.06h-1.53zM287.52 30.05h1.53v2.06h-1.53zM287.52 34.07h1.53v2.06h-1.53zM287.52 42.10h1.53v2.06h-1.53zM287.52 44.11h1.53v2.06h-1.53zM287.52 54.16h1.53v2.06h-1.53zM287.52 62.19h1.53v2.06h-1.53zM287.52 64.20h1.53v2.06h-1.53z" fill="rgb(221, 221, 247)"/>
<path d="M222.44 70.22h1.53v2.06h-1.53zM222.44 80.27h1.53v2.06h-1.53zM222.44 96.34h1.53v2.06h-1.53zM222.44 112.41h1.53v2.06h-1.53zM222.44 120.44h1.53v2.06h-1.53zM225.40 78.26h1.53v2.06h-1.53zM225.40 80.27h1.53v2.06h-1.53zM225.40 82.28h1.53v2.06h-1.53zM225.40 86.29h1.53v2.06h-1.53zM225.40 92.32h1.53v2.06h-1.53zM225.40 100.35h1.53v2.06h-1.53zM225.40 102.36h1.53v2.06h-1.53zM225.40 108.39h1.53v2.06h-1.53zM225.40 110.40h1.53v2.06h-1.53zM225.40 114.41h1.53v2.06h-1.53zM225.40 126.47h1.53v2.06h-1.53zM225.40 130.48h1.53v2.06h-1.53zM226.88 68.22h1.53v2.06h-1.53zM226.88 82.28h1.53v2.06h-1.53zM226.88 96.34h1.53v2.06h-1.53zM226.88 108.39h1.53v2.06h-1.53zM226.88 110.40h1.53v2.06h-1.53zM226.88 118.43h1.53v2.06h-1.53zM226.88 120.44h1.53v2.06h-1.53zM226.88 122.45h1.53v2.06h-1.53zM226.88 128.47h1.53v2.06h-1.53zM226.88 130.48h1.53v2.06h-1.53zM229.83 70.22h1.53v2.06h-1.53zM229.83 78.26h1.53v2.06h-1.53zM229.83 88.30h1.53v2.06h-1.53zM229.83 90.31h1.53v2.06h-1.53zM229.83 92.32h1.53v2.06h-1.53zM229.83 94.33h1.53v2.06h-1.53zM229.83 96.34h1.53v2.06h-1.53zM229.83 98.34h1.53v2.06h-1.53zM229.83 102.36h1.53v2.06h-1.53zM229.83 108.39h1.53v2.06h-1.53zM229.83 110.40h1.53v2.06h-1.53zM229.83 112.41h1.53v2.06h-1.53zM229.83 114.41h1.53v2.06h-1.53zM229.83 120.44h1.53v2.06h-1.53zM229.83 122.45h1.53v2.06h-1.53zM229.83 132.49h1.53v2.06h-1.53zM238.71 98.34h1.53v2.06h-1.53zM238.71 104.37h1.53v2.06h-1.53zM241.67 74.24h1.53v2.06h-1.53zM241.67 76.25h1.53v2.06h-1.53zM241.67 82.28h1.53v2.06h-1.53zM241.67 92.32h1.53v2.06h-1.53zM241.67 96.34h1.53v2.06h-1.53zM241.67 98.34h1.53v2.06h-1.53zM241.67 108.39h1.53v2.06h-1.53zM241.67 116.42h1.53v2.06h-1.53zM241.67 120.44h1.53v2.06h-1.53zM241.67 124.46h1.53v2.06h-1.53zM241.67 128.47h1.53v2.06h-1.53zM241.67 132.49h1.53v2.06h-1.53zM244.62 68.22h1.53v2.06h-1.53zM244.62 70.22h1.53v2.06h-1.53zM244.62 72.23h1.53v2.06h-1.53zM244.62 78.26h1.53v2.06h-1.53zM244.62 90.31h1.53v2.06h-1.53zM244.62 92.32h1.53v2.06h-1.53zM244.62 96.34h1.53v2.06h-1.53zM244.62 114.41h1.53v2.06h-1.53zM244.62 132.49h1.53v2.06h-1.53zM250.54 66.21h1.53v2.06h-1.53zM250.54 72.23h1.53v2.06h-1.53zM250.54 82.28h1.53v2.06h-1.53zM250.54 114.41h1.53v2.06h-1.53zM250.54 116.42h1.53v2.06h-1.53zM250.54 118.43h1.53v2.06h-1.53zM250.54 120.44h1.53v2.06h-1.53zM250.54 122.45h1.53v2.06h-1.53zM250.54 124.46h1.53v2.06h-1.53zM250.54 126.47h1.53v2.06h-1.53zM252.02 100.35h1.53v2.06h-1.53zM252.02 106.38h1.53v2.06h-1.53zM256.46 66.21h1.53v2.06h-1.53zM256.46 84.28h1.53v2.06h-1.53zM256.46 90.31h1.53v2.06h-1.53zM256.46 94.33h1.53v2.06h-1.53zM256.46 104.37h1.53v2.06h-1.53zM256.46 110.40h1.53v2.06h-1.53zM256.46 114.41h1.53v2.06h-1.53zM256.46 118.43h1.53v2.06h-1.53zM256.46 128.47h1.53v2.06h-1.53zM256.46 130.48h1.53v2.06h-1.53zM259.42 74.24h1.53v2.06h-1.53zM259.42 78.26h1.53v2.06h-1.53zM259.42 80.27h1.53v2.06h-1.53zM259.42 86.29h1.53v2.06h-1.53zM259.42 88.30h1.53v2.06h-1.53zM259.42 90.31h1.53v2.06h-1.53zM259.42 96.34h1.53v2.06h-1.53zM259.42 102.36h1.53v2.06h-1.53zM259.42 112.41h1.53v2.06h-1.53zM277.17 66.21h1.53v2.06h-1.53zM277.17 68.22h1.53v2.06h-1.53zM277.17 74.24h1.53v2.06h-1.53zM277.17 80.27h1.53v2.06h-1.53zM277.17 86.29h1.53v2.06h-1.53zM277.17 96.34h1.53v2.06h-1.53zM277.17 102.36h1.53v2.06h-1.53zM277.17 110.40h1.53v2.06h-1.53zM277.17 116.42h1.53v2.06h-1.53zM277.17 124.46h1.53v2.06h-1.53zM284.56 18.00h1.53v2.06h-1.53zM284.56 24.03h1.53v2.06h-1.53zM284.56 28.04h1.53v2.06h-1.53zM284.56 32.06h1.53v2.06h-1.53zM284.56 40.09h1.53v2.06h-1.53zM284.56 42.10h1.53v2.06h-1.53zM284.56 64.20h1.53v2.06h-1.53zM286.04 24.03h1.53v2.06h-1.53zM286.04 38.09h1.53v2.06h-1.53zM286.04 52.15h1.53v2.06h-1.53z" fill="rgb(208, 209, 245)"/>
<path d="M222.44 74.24h1.53v2.06h-1.53zM222.44 82.28h1.53v2.06h-1.53zM222.44 90.31h1.53v2.06h-1.53zM222.44 92.32h1.53v2.06h-1.53zM222.44 100.35h1.53v2.06h-1.53zM222.44 122.45h1.53v2.06h-1.53zM222.44 124.46h1.53v2.06h-1.53zM222.44 128.47h1.53v2.06h-1.53zM225.40 66.21h1.53v2.06h-1.53zM225.40 68.22h1.53v2.06h-1.53zM225.40 72.23h1.53v2.06h-1.53zM225.40 74.24h1.53v2.06h-1.53zM225.40 84.28h1.53v2.06h-1.53zM225.40 88.30h1.53v2.06h-1.53zM225.40 96.34h1.53v2.06h-1.53zM225.40 106.38h1.53v2.06h-1.53zM225.40 112.41h1.53v2.06h-1.53zM225.40 122.45h1.53v2.06h-1.53zM225.40 124.46h1.53v2.06h-1.53zM225.40 132.49h1.53v2.06h-1.53zM226.88 66.21h1.53v2.06h-1.53zM226.88 70.22h1.53v2.06h-1.53zM226.88 76.25h1.53v2.06h-1.53zM226.88 78.26h1.53v2.06h-1.53zM226.88 86.29h1.53v2.06h-1.53zM226.88 88.30h1.53v2.06h-1.53zM226.88 90.31h1.53v2.06h-1.53zM226.88 92.32h1.53v2.06h-1.53zM226.88 94.33h1.53v2.06h-1.53zM226.88 102.36h1.53v2.06h-1.53zM226.88 104.37h1.53v2.06h-1.53zM226.88 106.38h1.53v2.06h-1.53zM226.88 112.41h1.53v2.06h-1.53zM226.88 116.42h1.53v2.06h-1.53zM226.88 126.47h1.53v2.06h-1.53zM226.88 132.49h1.53v2.06h-1.53zM229.83 66.21h1.53v2.06h-1.53zM229.83 72.23h1.53v2.06h-1.53zM229.83 74.24h1.53v2.06h-1.53zM229.83 80.27h1.53v2.06h-1.53zM229.83 82.28h1.53v2.06h-1.53zM229.83 84.28h1.53v2.06h-1.53zM229.83 86.29h1.53v2.06h-1.53zM229.83 104.37h1.53v2.06h-1.53zM229.83 118.43h1.53v2.06h-1.53zM229.83 130.48h1.53v2.06h-1.53zM237.23 68.22h1.53v2.06h-1.53zM238.71 72.23h1.53v2.06h-1.53zM238.71 76.25h1.53v2.06h-1.53zM238.71 80.27h1.53v2.06h-1.53zM238.71 82.28h1.53v2.06h-1.53zM238.71 94.33h1.53v2.06h-1.53zM238.71 96.34h1.53v2.06h-1.53zM238.71 100.35h1.53v2.06h-1.53zM238.71 102.36h1.53v2.06h-1.53zM238.71 108.39h1.53v2.06h-1.53zM238.71 114.41h1.53v2.06h-1.53zM238.71 120.44h1.53v2.06h-1.53zM238.71 124.46h1.53v2.06h-1.53zM238.71 126.47h1.53v2.06h-1.53zM238.71 130.48h1.53v2.06h-1.53zM241.67 102.36h1.53v2.06h-1.53zM241.67 106.38h1.53v2.06h-1.53zM241.67 118.43h1.53v2.06h-1.53zM241.67 122.45h1.53v2.06h-1.53zM241.67 130.48h1.53v2.06h-1.53zM243.15 108.39h1.53v2.06h-1.53zM246.10 68.22h1.53v2.06h-1.53zM246.10 70.22h1.53v2.06h-1.53zM246.10 82.28h1.53v2.06h-1.53zM246.10 88.30h1.53v2.06h-1.53zM246.10 98.34h1.53v2.06h-1.53zM246.10 104.37h1.53v2.06h-1.53zM246.10 108.39h1.53v2.06h-1.53zM246.10 114.41h1.53v2.06h-1.53zM246.10 116.42h1.53v2.06h-1.53zM250.54 70.22h1.53v2.06h-1.53zM250.54 76.25h1.53v2.06h-1.53zM250.54 84.28h1.53v2.06h-1.53zM250.54 86.29h1.53v2.06h-1.53zM250.54 94.33h1.53v2.06h-1.53zM250.54 100.35h1.53v2.06h-1.53zM250.54 104.37h1.53v2.06h-1.53zM250.54 110.40h1.53v2.06h-1.53zM250.54 130.48h1.53v2.06h-1.53zM252.02 68.22h1.53v2.06h-1.53zM252.02 98.34h1.53v2.06h-1.53zM252.02 114.41h1.53v2.06h-1.53zM252.02 116.42h1.53v2.06h-1.53zM256.46 70.22h1.53v2.06h-1.53zM256.46 72.23h1.53v2.06h-1.53zM256.46 96.34h1.53v2.06h-1.53zM256.46 116.42h1.53v2.06h-1.53zM256.46 122.45h1.53v2.06h-1.53zM256.46 126.47h1.53v2.06h-1.53zM259.42 66.21h1.53v2.06h-1.53zM259.42 70.22h1.53v2.06h-1.53zM259.42 72.23h1.53v2.06h-1.53zM259.42 92.32h1.53v2.06h-1.53zM259.42 100.35h1.53v2.06h-1.53zM259.42 106.38h1.53v2.06h-1.53zM259.42 110.40h1.53v2.06h-1.53zM259.42 116.42h1.53v2.06h-1.53zM259.42 118.43h1.53v2.06h-1.53zM259.42 120.44h1.53v2.06h-1.53zM259.42 124.46h1.53v2.06h-1.53zM259.42 130.48h1.53v2.06h-1.53zM259.42 132.49h1.53v2.06h-1.53zM262.38 78.26h1.53v2.06h-1.53zM262.38 80.27h1.53v2.06h-1.53zM262.38 84.28h1.53v2.06h-1.53zM262.38 96.34h1.53v2.06h-1.53zM262.38 102.36h1.53v2.06h-1.53zM262.38 104.37h1.53v2.06h-1.53zM262.38 126.47h1.53v2.06h-1.53zM268.29 18.00h1.53v2.06h-1.53zM268.29 22.02h1.53v2.06h-1.53zM268.29 26.03h1.53v2.06h-1.53zM268.29 34.07h1.53v2.06h-1.53zM268.29 54.16h1.53v2.06h-1.53zM275.69 52.15h1.53v2.06h-1.53zM277.17 24.03h1.53v2.06h-1.53zM277.17 72.23h1.53v2.06h-1.53zM277.17 76.25h1.53v2.06h-1.53zM277.17 78.26h1.53v2.06h-1.53zM277.17 82.28h1.53v2.06h-1.53zM277.17 90.31h1.53v2.06h-1.53zM277.17 94.33h1.53v2.06h-1.53zM277.17 98.34h1.53v2.06h-1.53zM277.17 100.35h1.53v2.06h-1.53zM277.17 112.41h1.53v2.06h-1.53zM277.17 114.41h1.53v2.06h-1.53zM277.17 118.43h1.53v2.06h-1.53zM277.17 122.45h1.53v2.06h-1.53zM277.17 126.47h1.53v2.06h-1.53zM277.17 128.47h1.53v2.06h-1.53zM277.17 130.48h1.53v2.06h-1.53zM278.65 26.03h1.53v2.06h-1.53zM278.65 30.05h1.53v2.06h-1.53zM278.65 32.06h1.53v2.06h-1.53zM278.65 44.11h1.53v2.06h-1.53zM278.65 50.14h1.53v2.06h-1.53zM284.56 20.01h1.53v2.06h-1.53zM284.56 30.05h1.53v2.06h-1.53zM284.56 34.07h1.53v2.06h-1.53zM284.56 38.09h1.53v2.06h-1.53zM284.56 46.12h1.53v2.06h-1.53zM284.56 48.13h1.53v2.06h-1.53zM284.56 50.14h1.53v2.06h-1.53zM284.56 54.16h1.53v2.06h-1.53zM284.56 58.17h1.53v2.06h-1.53zM286.04 26.03h1.53v2.06h-1.53zM286.04 34.07h1.53v2.06h-1.53zM286.04 36.08h1.53v2.06h-1.53zM286.04 40.09h1.53v2.06h-1.53zM286.04 42.10h1.53v2.06h-1.53zM286.04 48.13h1.53v2.06h-1.53zM286.04 56.16h1.53v2.06h-1.53zM286.04 60.18h1.53v2.06h-1.53zM286.04 62.19h1.53v2.06h-1.53zM286.04 64.20h1.53v2.06h-1.53zM287.52 20.01h1.53v2.06h-1.53zM287.52 38.09h1.53v2.06h-1.53zM287.52 46.12h1.53v2.06h-1.53z" fill="rgb(214, 215, 246)"/>
<path d="M225.40 18.00h1.53v2.06h-1.53zM225.40 50.14h1.53v2.06h-1.53zM244.62 42.10h1.53v2.06h-1.53zM259.42 18.00h1.53v2.06h-1.53zM262.38 20.01h1.53v2.06h-1.53zM262.38 48.13h1.53v2.06h-1.53zM263.85 18.00h1.53v2.06h-1.53zM263.85 30.05h1.53v2.06h-1.53zM263.85 52.15h1.53v2.06h-1.53zM263.85 56.16h1.53v2.06h-1.53zM274.21 74.24h1.53v2.06h-1.53zM274.21 94.33h1.53v2.06h-1.53zM274.21 126.47h1.53v2.06h-1.53zM278.65 80.27h1.53v2.06h-1.53zM278.65 94.33h1.53v2.06h-1.53zM278.65 98.34h1.53v2.06h-1.53zM278.65 100.35h1.53v2.06h-1.53zM278.65 106.38h1.53v2.06h-1.53zM278.65 112.41h1.53v2.06h-1.53zM278.65 118.43h1.53v2.06h-1.53zM278.65 124.46h1.53v2.06h-1.53zM278.65 126.47h1.53v2.06h-1.53zM278.65 128.47h1.53v2.06h-1.53zM278.65 130.48h1.53v2.06h-1.53zM280.12 72.23h1.53v2.06h-1.53zM280.12 80.27h1.53v2.06h-1.53zM280.12 88.30h1.53v2.06h-1.53zM280.12 94.33h1.53v2.06h-1.53zM280.12 96.34h1.53v2.06h-1.53zM280.12 102.36h1.53v2.06h-1.53zM280.12 112.41h1.53v2.06h-1.53zM280.12 118.43h1.53v2.06h-1.53zM280.12 126.47h1.53v2.06h-1.53zM280.12 128.47h1.53v2.06h-1.53zM280.12 130.48h1.53v2.06h-1.53zM283.08 116.42h1.53v2.06h-1.53zM283.08 130.48h1.53v2.06h-1.53z" fill="rgb(250, 211, 219)"/>
<path d="M225.40 70.22h1.53v2.06h-1.53zM225.40 76.25h1.53v2.06h-1.53zM225.40 90.31h1.53v2.06h-1.53zM225.40 98.34h1.53v2.06h-1.53zM225.40 104.37h1.53v2.06h-1.53zM225.40 116.42h1.53v2.06h-1.53zM225.40 120.44h1.53v2.06h-1.53zM225.40 128.47h1.53v2.06h-1.53zM226.88 74.24h1.53v2.06h-1.53zM229.83 100.35h1.53v2.06h-1.53zM229.83 106.38h1.53v2.06h-1.53zM229.83 124.46h1.53v2.06h-1.53zM229.83 126.47h1.53v2.06h-1.53zM238.71 66.21h1.53v2.06h-1.53zM241.67 66.21h1.53v2.06h-1.53zM241.67 68.22h1.53v2.06h-1.53zM241.67 70.22h1.53v2.06h-1.53zM241.67 72.23h1.53v2.06h-1.53zM241.67 78.26h1.53v2.06h-1.53zM241.67 80.27h1.53v2.06h-1.53zM241.67 84.28h1.53v2.06h-1.53zM241.67 86.29h1.53v2.06h-1.53zM241.67 88.30h1.53v2.06h-1.53zM241.67 94.33h1.53v2.06h-1.53zM241.67 100.35h1.53v2.06h-1.53zM241.67 104.37h1.53v2.06h-1.53zM241.67 112.41h1.53v2.06h-1.53zM241.67 114.41h1.53v2.06h-1.53zM244.62 80.27h1.53v2.06h-1.53zM244.62 82.28h1.53v2.06h-1.53zM244.62 98.34h1.53v2.06h-1.53zM244.62 102.36h1.53v2.06h-1.53zM244.62 106.38h1.53v2.06h-1.53zM244.62 124.46h1.53v2.06h-1.53zM244.62 126.47h1.53v2.06h-1.53zM244.62 128.47h1.53v2.06h-1.53zM244.62 130.48h1.53v2.06h-1.53zM250.54 74.24h1.53v2.06h-1.53zM250.54 78.26h1.53v2.06h-1.53zM250.54 80.27h1.53v2.06h-1.53zM250.54 96.34h1.53v2.06h-1.53zM250.54 98.34h1.53v2.06h-1.53zM250.54 108.39h1.53v2.06h-1.53zM250.54 128.47h1.53v2.06h-1.53zM252.02 82.28h1.53v2.06h-1.53zM256.46 68.22h1.53v2.06h-1.53zM256.46 78.26h1.53v2.06h-1.53zM256.46 80.27h1.53v2.06h-1.53zM256.46 86.29h1.53v2.06h-1.53zM256.46 92.32h1.53v2.06h-1.53zM256.46 98.34h1.53v2.06h-1.53zM256.46 100.35h1.53v2.06h-1.53zM256.46 106.38h1.53v2.06h-1.53zM256.46 108.39h1.53v2.06h-1.53zM256.46 124.46h1.53v2.06h-1.53zM259.42 94.33h1.53v2.06h-1.53zM259.42 128.47h1.53v2.06h-1.53zM286.04 32.06h1.53v2.06h-1.53z" fill="rgb(202, 203, 244)"/>
<path d="M225.40 118.43h1.53v2.06h-1.53zM229.83 128.47h1.53v2.06h-1.53zM240.19 66.21h1.53v2.06h-1.53zM240.19 68.22h1.53v2.06h-1.53zM240.19 70.22h1.53v2.06h-1.53zM240.19 72.23h1.53v2.06h-1.53zM240.19 74.24h1.53v2.06h-1.53zM240.19 76.25h1.53v2.06h-1.53zM240.19 78.26h1.53v2.06h-1.53zM240.19 80.27h1.53v2.06h-1.53zM240.19 82.28h1.53v2.06h-1.53zM240.19 84.28h1.53v2.06h-1.53zM240.19 86.29h1.53v2.06h-1.53zM240.19 88.30h1.53v2.06h-1.53zM240.19 90.31h1.53v2.06h-1.53zM240.19 92.32h1.53v2.06h-1.53zM240.19 94.33h1.53v2.06h-1.53zM240.19 96.34h1.53v2.06h-1.53zM240.19 98.34h1.53v2.06h-1.53zM240.19 100.35h1.53v2.06h-1.53zM240.19 102.36h1.53v2.06h-1.53zM240.19 104.37h1.53v2.06h-1.53zM240.19 106.38h1.53v2.06h-1.53zM240.19 108.39h1.53v2.06h-1.53zM240.19 110.40h1.53v2.06h-1.53zM240.19 112.41h1.53v2.06h-1.53zM240.19 114.41h1.53v2.06h-1.53zM240.19 116.42h1.53v2.06h-1.53zM240.19 118.43h1.53v2.06h-1.53zM240.19 120.44h1.53v2.06h-1.53zM240.19 122.45h1.53v2.06h-1.53zM240.19 124.46h1.53v2.06h-1.53zM240.19 126.47h1.53v2.06h-1.53zM240.19 128.47h1.53v2.06h-1.53zM240.19 130.48h1.53v2.06h-1.53zM240.19 132.49h1.53v2.06h-1.53zM241.67 90.31h1.53v2.06h-1.53zM241.67 126.47h1.53v2.06h-1.53zM244.62 66.21h1.53v2.06h-1.53zM244.62 74.24h1.53v2.06h-1.53zM244.62 76.25h1.53v2.06h-1.53zM244.62 84.28h1.53v2.06h-1.53zM244.62 86.29h1.53v2.06h-1.53zM244.62 88.30h1.53v2.06h-1.53zM244.62 94.33h1.53v2.06h-1.53zM244.62 100.35h1.53v2.06h-1.53zM244.62 104.37h1.53v2.06h-1.53zM244.62 108.39h1.53v2.06h-1.53zM244.62 110.40h1.53v2.06h-1.53zM244.62 112.41h1.53v2.06h-1.53zM244.62 116.42h1.53v2.06h-1.53zM244.62 118.43h1.53v2.06h-1.53zM244.62 120.44h1.53v2.06h-1.53zM244.62 122.45h1.53v2.06h-1.53zM250.54 88.30h1.53v2.06h-1.53zM250.54 90.31h1.53v2.06h-1.53zM250.54 92.32h1.53v2.06h-1.53zM250.54 102.36h1.53v2.06h-1.53zM250.54 106.38h1.53v2.06h-1.53zM250.54 112.41h1.53v2.06h-1.53zM250.54 132.49h1.53v2.06h-1.53zM256.46 74.24h1.53v2.06h-1.53zM256.46 76.25h1.53v2.06h-1.53zM256.46 82.28h1.53v2.06h-1.53zM256.46 88.30h1.53v2.06h-1.53zM256.46 102.36h1.53v2.06h-1.53zM256.46 112.41h1.53v2.06h-1.53zM256.46 120.44h1.53v2.06h-1.53zM256.46 132.49h1.53v2.06h-1.53zM277.17 108.39h1.53v2.06h-1.53z" fill="rgb(196, 198, 243)"/>
<path d="M263.85 34.07h1.53v2.06h-1.53zM274.21 66.21h1.53v2.06h-1.53zM274.21 68.22h1.53v2.06h-1.53zM274.21 70.22h1.53v2.06h-1.53zM274.21 72.23h1.53v2.06h-1.53zM274.21 76.25h1.53v2.06h-1.53zM274.21 78.26h1.53v2.06h-1.53zM274.21 80.27h1.53v2.06h-1.53zM274.21 82.28h1.53v2.06h-1.53zM274.21 84.28h1.53v2.06h-1.53zM274.21 86.29h1.53v2.06h-1.53zM274.21 88.30h1.53v2.06h-1.53zM274.21 90.31h1.53v2.06h-1.53zM274.21 92.32h1.53v2.06h-1.53zM274.21 96.34h1.53v2.06h-1.53zM274.21 98.34h1.53v2.06h-1.53zM274.21 100.35h1.53v2.06h-1.53zM274.21 102.36h1.53v2.06h-1.53zM274.21 104.37h1.53v2.06h-1.53zM274.21 106.38h1.53v2.06h-1.53zM274.21 108.39h1.53v2.06h-1.53zM274.21 110.40h1.53v2.06h-1.53zM274.21 112.41h1.53v2.06h-1.53zM274.21 114.41h1.53v2.06h-1.53zM274.21 116.42h1.53v2.06h-1.53zM274.21 118.43h1.53v2.06h-1.53zM274.21 120.44h1.53v2.06h-1.53zM274.21 122.45h1.53v2.06h-1.53zM274.21 124.46h1.53v2.06h-1.53zM274.21 128.47h1.53v2.06h-1.53zM274.21 130.48h1.53v2.06h-1.53zM274.21 132.49h1.53v2.06h-1.53zM278.65 68.22h1.53v2.06h-1.53zM278.65 70.22h1.53v2.06h-1.53zM278.65 72.23h1.53v2.06h-1.53zM278.65 76.25h1.53v2.06h-1.53zM278.65 78.26h1.53v2.06h-1.53zM278.65 84.28h1.53v2.06h-1.53zM278.65 86.29h1.53v2.06h-1.53zM278.65 88.30h1.53v2.06h-1.53zM278.65 90.31h1.53v2.06h-1.53zM278.65 92.32h1.53v2.06h-1.53zM278.65 104.37h1.53v2.06h-1.53zM278.65 108.39h1.53v2.06h-1.53zM278.65 114.41h1.53v2.06h-1.53zM278.65 120.44h1.53v2.06h-1.53zM278.65 122.45h1.53v2.06h-1.53zM278.65 132.49h1.53v2.06h-1.53zM280.12 74.24h1.53v2.06h-1.53zM280.12 76.25h1.53v2.06h-1.53zM280.12 90.31h1.53v2.06h-1.53zM280.12 92.32h1.53v2.06h-1.53zM280.12 100.35h1.53v2.06h-1.53zM280.12 110.40h1.53v2.06h-1.53zM280.12 114.41h1.53v2.06h-1.53zM283.08 104.37h1.53v2.06h-1.53z" fill="rgb(250, 206, 215)"/>
<path d="M205.1 20.36L206.9 18.60H218V22.13H206.1ZM204.2 23.45L206.7 22.73H218V24.17H207.5ZM203.5 25.46L206.8 24.77H218V26.14H204.5ZM205.9 27.36L209.0 26.74H218V27.98H207.1ZM204.9 29.35L208.1 28.58H218V30.13H205.6ZM204.7 31.71L206.5 30.73H218V32.70H208.0ZM201.9 33.70L203.9 33.30H218V34.09H202.8ZM205.5 37.09L208.3 34.69H218V39.49H207.4ZM205.6 43.17L207.2 40.09H218V46.24H208.3ZM206.9 47.61L208.2 46.84H218V48.39H207.9ZM204.9 49.46L206.2 48.99H218V49.93H207.6ZM206.5 51.23L207.2 50.53H218V51.94H209.4ZM206.4 53.13L207.2 52.54H218V53.72H207.1ZM204.7 55.21L205.6 54.32H218V56.09H208.4ZM204.0 57.19L206.1 56.69H218V57.68H205.0ZM205.5 59.88L206.4 58.28H218V61.48H207.6ZM205.8 63.17L206.5 62.08H218V64.26H209.0ZM205.5 66.92L206.2 64.86H218V68.98H207.6ZM207.4 70.32L209.2 69.58H218V71.06H208.3ZM204.2 72.53L205.8 71.66H218V73.41H205.0ZM204.6 75.62L206.0 74.01H218V77.22H208.3ZM205.7 80.23L206.8 77.82H218V82.63H206.4ZM205.1 84.47L207.4 83.23H218V85.70H206.6ZM205.7 88.04L206.4 86.30H218V89.78H207.4ZM204.7 92.46L207.6 90.38H218V94.53H208.4ZM204.4 96.25L207.2 95.13H218V97.37H206.1ZM204.5 98.57L206.9 97.97H218V99.18H206.0ZM200.3 100.74L204.3 99.78H218V101.71H201.5ZM202.5 103.57L205.4 102.31H218V104.82H204.0ZM205.3 107.10L206.8 105.42H218V108.78H206.5ZM206.9 110.65L207.9 109.38H218V111.91H207.8ZM202.3 113.52L204.3 112.51H218V114.54H204.2ZM206.0 116.18L207.6 115.14H218V117.23H208.3ZM203.5 118.45L205.1 117.83H218V119.08H205.6ZM205.7 120.36L207.4 119.68H218V121.04H208.7ZM205.2 122.03L207.0 121.64H218V122.42H208.9ZM206.0 124.60L209.0 123.02H218V126.17H209.5ZM205.3 130.44L207.9 126.77H218V134.10H207.1Z" fill="#111"/>
<path d="M203.1 23.45H204.2M199.8 20.36V23.45M199.8 20.36H205.1M199.8 23.45H203.1M203.5 25.46H203.5M200.8 25.46V27.36M200.8 25.46H203.5M200.8 27.36H205.9M198.5 21.91V26.41M198.5 21.91H199.8M198.5 26.41H200.8M200.8 31.71V33.70M200.8 31.71H204.7M200.8 33.70H201.9M199.3 29.35V32.71M199.3 29.35H204.9M199.3 32.71H200.8M201.2 37.09V43.17M201.2 37.09H205.5M201.2 43.17H205.6M203.4 49.46H204.9M202.5 47.61V49.46M202.5 47.61H206.9M202.5 49.46H203.4M201.7 51.23V53.13M201.7 51.23H206.5M201.7 53.13H206.4M198.1 48.54V52.18M198.1 48.54H202.5M198.1 52.18H201.7M204.2 55.21H204.7M202.7 55.21V57.19M202.7 55.21H204.2M202.7 57.19H204.0M200.9 56.20V59.88M200.9 56.20H202.7M200.9 59.88H205.5M201.1 63.17V66.92M201.1 63.17H205.8M201.1 66.92H205.5M203.1 70.32V72.53M203.1 70.32H207.4M203.1 72.53H204.2M201.6 71.42V75.62M201.6 71.42H203.1M201.6 75.62H204.6M202.1 80.23V84.47M202.1 80.23H205.7M202.1 84.47H205.1M201.3 88.04V92.46M201.3 88.04H205.7M201.3 92.46H204.7M202.4 96.25V98.57M202.4 96.25H204.4M202.4 98.57H204.5M198.3 97.41V100.74M198.3 97.41H202.4M198.3 100.74H200.3M203.9 107.10V110.65M203.9 107.10H205.3M203.9 110.65H206.9M199.5 103.57V108.87M199.5 103.57H202.5M199.5 108.87H203.9M201.8 116.18V118.45M201.8 116.18H206.0M201.8 118.45H203.5M200.7 113.52V117.32M200.7 113.52H202.3M200.7 117.32H201.8M200.6 120.36V122.03M200.6 120.36H205.7M200.6 122.03H205.2M197.1 115.42V121.20M197.1 115.42H200.7M197.1 121.20H200.6M201.6 124.60V130.44M201.6 124.60H206.0M201.6 130.44H205.3M196.3 24.16H197.0M196.3 31.03H197.0M196.3 40.13H197.0M196.3 50.36H197.0M196.3 58.04H197.0M196.3 65.04H197.0M196.3 73.52H197.0M196.3 82.35H197.0M196.3 90.25H197.0M196.3 99.08H197.0M196.3 106.22H197.0M196.3 118.31H197.0M196.3 127.52H197.0M196.3 24.16V127.52M192.5 33.7V108.7M192.5 33.7H196.3M192.5 108.7H196.3" stroke="#222" stroke-width="0.45" fill="none"/>
<rect x="211" y="18.3" width="7" height="116.1" fill="#000"/>
<path d="M199.5 86.9H208M200.9 19.1H208M200.9 19.1v-0.4M204.6 32.2H208M202.7 23.1H208M202.7 23.1v0.2M202.4 58.0H208M201.1 113.1H208M200.6 92.9H208M200.6 92.9v0.5M205.6 83.8H208M200.5 89.0H208M198.4 19.1H208M198.7 89.7H208M200.7 121.5H208M200.0 45.0H208M205.7 62.7H208M199.7 87.5H208M201.0 76.1H208M201.0 76.1v2.4M199.9 75.6H208M202.8 33.0H208M204.1 52.7H208M202.0 20.5H208M202.0 20.5v2.2M199.6 108.9H208M199.6 108.9v-1.7M200.0 132.7H208M203.0 73.6H208M198.5 104.5H208M202.0 53.6H208M202.0 53.6v-1.0M201.4 79.9H208M202.5 104.7H208M202.5 104.7v-1.2M205.3 71.4H208M197.6 81.7H208M202.4 68.2H208M201.6 91.7H208M200.8 63.3H208M200.0 41.6H208M204.6 26.6H208M199.9 68.8H208M198.7 123.7H208M201.7 82.1H208M201.7 82.1v-1.7M204.4 86.4H208M204.4 86.4v-1.3M204.2 113.3H208M203.6 21.9H208M203.5 133.8H208M203.5 133.8v1.7M203.0 44.2H208M198.6 100.9H208M198.6 100.9v2.1M202.7 36.2H208M202.8 37.5H208M202.8 37.5v-2.0M198.1 62.6H208M198.1 62.6v0.4M205.0 104.4H208M205.0 104.4v-0.3M202.6 55.2H208M200.7 126.9H208M200.7 126.9v1.0M202.9 36.4H208M202.2 123.7H208M202.2 49.3H208M202.2 49.3v1.3M198.6 78.5H208M198.6 78.5v-0.6M199.0 103.7H208M198.2 94.3H208M198.6 29.5H208M205.0 46.4H208M204.3 56.2H208M204.3 56.2v1.1M198.8 25.2H208M199.4 97.3H208M199.4 97.3v2.4M204.5 95.5H208M204.5 95.5v0.6M199.5 59.7H208M199.5 59.7v0.6M200.8 59.1H208M200.8 59.1v1.7M204.3 93.5H208M201.9 116.9H208M203.8 84.9H208M197.8 30.2H208M197.8 30.2v-2.3M201.6 121.3H208M201.5 19.1H208M201.1 90.2H208M198.8 30.5H208M198.8 30.5v-0.6M205.0 63.4H208M205.0 63.4v-1.2M198.9 50.9H208M198.9 50.9v-1.3M197.8 74.4H208M205.5 61.4H208M201.5 96.5H208M203.2 32.6H208M203.2 32.6v0.9M198.9 102.9H208M198.9 102.9v-2.4M198.2 45.5H208M200.6 131.0H208M200.6 131.0v-0.2M203.7 51.6H208M199.5 37.8H208M203.0 127.2H208M197.6 131.2H208M197.6 131.2v1.4M197.9 66.2H208M201.9 132.8H208M198.1 29.8H208M205.5 75.5H208M205.5 75.5v-1.3M200.9 24.8H208M200.9 24.8v-1.2M200.1 65.9H208M200.1 65.9v-2.3M199.0 130.7H208M202.0 65.3H208M202.0 65.3v-0.9M202.1 31.4H208M204.8 87.8H208M204.8 87.8v-2.4M201.6 81.1H208M202.8 62.3H208M200.1 124.0H208M199.4 114.0H208M199.4 114.0v-0.9M204.1 29.1H208M198.6 55.0H208M198.6 55.0v-1.3M201.1 28.7H208M198.0 47.2H208M199.2 24.5H208M199.2 24.5v-0.6M201.1 30.3H208M201.1 30.3v1.3M205.1 82.9H208M202.4 106.4H208M203.1 112.9H208M203.5 102.7H208M203.5 102.7v1.6M198.6 63.0H208M198.6 63.0v-1.7M203.2 49.2H208M203.2 49.2v-2.2M202.2 106.8H208M202.2 106.8v-2.2M200.5 34.0H208M202.7 128.2H208M202.7 128.2v-0.4M200.3 60.7H208M200.3 60.7v0.4M203.7 114.1H208M203.7 114.1v0.2M203.5 38.7H208M204.3 126.9H208M204.3 126.9v-0.9M201.4 124.2H208M204.0 69.8H208M205.7 80.2H208M204.4 30.9H208M205.8 25.0H208M205.8 25.0v0.4M205.0 74.4H208M199.9 43.8H208M199.9 43.8v0.3M203.9 60.1H208M203.9 60.1v-0.7M205.9 47.5H208M202.8 116.7H208M204.6 35.5H208M198.9 23.3H208M198.9 23.3v1.1M199.2 122.5H208M203.3 56.3H208M204.3 90.7H208M201.8 20.2H208M200.8 40.2H208M200.8 40.2v-2.4M200.8 54.9H208M200.9 99.9H208M205.4 112.8H208M202.1 96.1H208M202.5 60.7H208M199.9 79.1H208M199.9 79.1v-2.1M202.4 59.9H208M200.1 101.2H208M203.6 50.6H208M203.6 50.6v1.3M205.6 96.0H208M204.6 98.1H208M199.3 89.3H208M199.5 122.1H208M200.8 81.6H208M200.8 81.6v-0.5M203.1 39.5H208M202.7 123.7H208M203.4 31.5H208M200.7 101.3H208M200.1 43.5H208M200.1 43.5v0.6M198.9 122.2H208M199.4 107.1H208M199.4 107.1v0.3M205.0 114.5H208M201.1 66.9H208M200.1 123.0H208M200.1 123.0v0.5M199.1 130.2H208M199.1 130.2v-1.9M202.6 83.7H208M202.6 83.7v-1.5M203.0 87.4H208M198.0 102.8H208M205.6 115.0H208M205.6 115.0v1.8M205.4 93.2H208M205.4 93.2v1.0M201.6 115.7H208M201.6 115.7v-1.5M198.3 37.0H208M198.3 37.0v0.6M203.9 31.1H208M204.3 112.9H208M205.6 125.3H208M198.4 130.0H208M198.4 130.0v-2.2" stroke="#333" stroke-width="0.3" fill="none"/>
<defs><linearGradient id="hb" x1="0" y1="0" x2="0" y2="1"><stop offset="0" stop-color="#c8323a"/><stop offset="0.54" stop-color="#ffffff"/><stop offset="1" stop-color="#0a1a7a"/></linearGradient><linearGradient id="pa" x1="0" y1="0" x2="0" y2="1"><stop offset="0" stop-color="#ff0000"/><stop offset="0.5" stop-color="#b0006a"/><stop offset="1" stop-color="#2a00ff"/></linearGradient></defs>
<rect x="292" y="18" width="4.9" height="74" fill="url(#hb)"/>
<text x="291.20" y="17.07" font-size="5.2" fill="#222" text-anchor="start" font-weight="bold" font-family="Liberation Sans" stroke="#222" stroke-width="0.22" textLength="23.60" lengthAdjust="spacingAndGlyphs" >group_list</text>
<text x="299.30" y="31.60" font-size="5" fill="#333" text-anchor="start" font-weight="normal" font-family="Liberation Sans" stroke="#333" stroke-width="0.22" >4</text>
<text x="299.30" y="43.30" font-size="5" fill="#333" text-anchor="start" font-weight="normal" font-family="Liberation Sans" stroke="#333" stroke-width="0.22" >2</text>
<text x="299.30" y="56.80" font-size="5" fill="#333" text-anchor="start" font-weight="normal" font-family="Liberation Sans" stroke="#333" stroke-width="0.22" >0</text>
<text x="299.30" y="69.60" font-size="5" fill="#333" text-anchor="start" font-weight="normal" font-family="Liberation Sans" stroke="#333" stroke-width="0.22" >-2</text>
<text x="299.30" y="82.30" font-size="5" fill="#333" text-anchor="start" font-weight="normal" font-family="Liberation Sans" stroke="#333" stroke-width="0.22" >-4</text>
<text x="306.00" y="22.00" font-size="5" fill="#222" text-anchor="start" font-weight="bold" font-family="Liberation Sans" stroke="#222" stroke-width="0.22" textLength="19.00" lengthAdjust="spacingAndGlyphs" >group_list</text>
<rect x="306" y="23.6" width="7" height="6.2" fill="#f27d50"/>
<rect x="306" y="29.8" width="7" height="8" fill="#5b8fd9"/>
<text x="314.80" y="29.70" font-size="5" fill="#333" text-anchor="start" font-weight="normal" font-family="Liberation Sans" stroke="#333" stroke-width="0.22" >aSAH</text>
<text x="314.80" y="36.50" font-size="5" fill="#333" text-anchor="start" font-weight="normal" font-family="Liberation Sans" stroke="#333" stroke-width="0.22" >Healthy</text>
<text x="4.40" y="164.10" font-size="6.8" fill="#111" text-anchor="start" font-weight="bold" font-family="Liberation Sans" stroke="#111" stroke-width="0.22" >C</text>
<text x="42.00" y="166.83" font-size="7.3" fill="#111" text-anchor="start" font-weight="normal" font-family="Liberation Serif" stroke="#111" stroke-width="0.2" textLength="112.80" lengthAdjust="spacingAndGlyphs" >GO analysis_immunological processes</text>
<rect x="122.6" y="170.3" width="26.8" height="59.9" fill="#fff" stroke="#c8c8c8" stroke-width="0.5"/>
<g transform="translate(120 176.45) scale(1 1.18)">
<text x="0.00" y="0.00" font-size="3.99" fill="#111" text-anchor="end" font-weight="normal" font-family="Liberation Sans" stroke="#111" stroke-width="0.15" >neutrophil activation involved in immune response</text>
</g>
<line x1="120.6" y1="175" x2="122.4" y2="175" stroke="#444" stroke-width="0.4"/>
<rect x="124" y="171.95" width="23.8" height="6.1" fill="#ff0a14"/>
<g transform="translate(120 183.65) scale(1 1.18)">
<text x="0.00" y="0.00" font-size="3.99" fill="#111" text-anchor="end" font-weight="normal" font-family="Liberation Sans" stroke="#111" stroke-width="0.15" >lymphocyte activation involved in immune response</text>
</g>
<line x1="120.6" y1="182.2" x2="122.4" y2="182.2" stroke="#444" stroke-width="0.4"/>
<rect x="124" y="179.15" width="6.8" height="6.1" fill="#e3074e"/>
<g transform="translate(120 190.95) scale(1 1.18)">
<text x="0.00" y="0.00" font-size="3.99" fill="#111" text-anchor="end" font-weight="normal" font-family="Liberation Sans" stroke="#111" stroke-width="0.15" >negative regulation of immune system process</text>
</g>
<line x1="120.6" y1="189.5" x2="122.4" y2="189.5" stroke="#444" stroke-width="0.4"/>
<rect x="124" y="186.45" width="14" height="6.1" fill="#e3074e"/>
<g transform="translate(120 198.65) scale(1 1.18)">
<text x="0.00" y="0.00" font-size="3.99" fill="#111" text-anchor="end" font-weight="normal" font-family="Liberation Sans" stroke="#111" stroke-width="0.15" >regulation of innate immune response</text>
</g>
<line x1="120.6" y1="197.2" x2="122.4" y2="197.2" stroke="#444" stroke-width="0.4"/>
<rect x="124" y="194.15" width="10" height="6.1" fill="#e5074c"/>
<g transform="translate(120 205.85) scale(1 1.18)">
<text x="0.00" y="0.00" font-size="3.99" fill="#111" text-anchor="end" font-weight="normal" font-family="Liberation Sans" stroke="#111" stroke-width="0.15" >regulation of leukocyte mediated immunity</text>
</g>
<line x1="120.6" y1="204.4" x2="122.4" y2="204.4" stroke="#444" stroke-width="0.4"/>
<rect x="124" y="201.35" width="7.5" height="6.1" fill="#e3074e"/>
<g transform="translate(120 212.95) scale(1 1.18)">
<text x="0.00" y="0.00" font-size="3.99" fill="#111" text-anchor="end" font-weight="normal" font-family="Liberation Sans" stroke="#111" stroke-width="0.15" >immune response-activating cell surface receptor signaling pathway</text>
</g>
<line x1="120.6" y1="211.5" x2="122.4" y2="211.5" stroke="#444" stroke-width="0.4"/>
<rect x="124" y="208.45" width="14.5" height="6.1" fill="#e0064f"/>
<g transform="translate(120 220.15) scale(1 1.18)">
<text x="0.00" y="0.00" font-size="3.99" fill="#111" text-anchor="end" font-weight="normal" font-family="Liberation Sans" stroke="#111" stroke-width="0.15" >immune response-activating signal transduction</text>
</g>
<line x1="120.6" y1="218.7" x2="122.4" y2="218.7" stroke="#444" stroke-width="0.4"/>
<rect x="124" y="215.65" width="14.5" height="6.1" fill="#e0064f"/>
<g transform="translate(120 227.55) scale(1 1.18)">
<text x="0.00" y="0.00" font-size="3.99" fill="#111" text-anchor="end" font-weight="normal" font-family="Liberation Sans" stroke="#111" stroke-width="0.15" >positive regulation of immune effector process</text>
</g>
<line x1="120.6" y1="226.1" x2="122.4" y2="226.1" stroke="#444" stroke-width="0.4"/>
<rect x="124" y="223.05" width="7.6" height="6.1" fill="#1f10f2"/>
<text x="123.90" y="235.20" font-size="3.6" fill="#333" text-anchor="middle" font-weight="normal" font-family="Liberation Sans" stroke="#333" stroke-width="0.1" >0</text>
<text x="132.60" y="235.20" font-size="3.6" fill="#333" text-anchor="middle" font-weight="normal" font-family="Liberation Sans" stroke="#333" stroke-width="0.1" >50</text>
<text x="141.30" y="235.20" font-size="3.6" fill="#333" text-anchor="middle" font-weight="normal" font-family="Liberation Sans" stroke="#333" stroke-width="0.1" >100</text>
<text x="154.75" y="186.90" font-size="3.6" fill="#444" text-anchor="start" font-weight="normal" font-family="Liberation Sans" stroke="#444" stroke-width="0.04" textLength="13.25" lengthAdjust="spacingAndGlyphs" >p.adjust</text>
<rect x="154.75" y="189" width="5.85" height="29" fill="url(#pa)"/>
<text x="163.00" y="195.44" font-size="2.9" fill="#444" text-anchor="start" font-weight="normal" font-family="Liberation Sans" stroke="#444" stroke-width="0.03" textLength="7.00" lengthAdjust="spacingAndGlyphs" >1e-06</text>
<text x="163.00" y="201.64" font-size="2.9" fill="#444" text-anchor="start" font-weight="normal" font-family="Liberation Sans" stroke="#444" stroke-width="0.03" textLength="7.00" lengthAdjust="spacingAndGlyphs" >2e-06</text>
<text x="163.00" y="207.04" font-size="2.9" fill="#444" text-anchor="start" font-weight="normal" font-family="Liberation Sans" stroke="#444" stroke-width="0.03" textLength="7.00" lengthAdjust="spacingAndGlyphs" >3e-06</text>
<text x="163.00" y="213.04" font-size="2.9" fill="#444" text-anchor="start" font-weight="normal" font-family="Liberation Sans" stroke="#444" stroke-width="0.03" textLength="7.00" lengthAdjust="spacingAndGlyphs" >4e-06</text>
<text x="163.00" y="218.79" font-size="2.9" fill="#444" text-anchor="start" font-weight="normal" font-family="Liberation Sans" stroke="#444" stroke-width="0.03" textLength="7.00" lengthAdjust="spacingAndGlyphs" >5e-06</text>
<text x="186.70" y="163.70" font-size="6.8" fill="#111" text-anchor="start" font-weight="bold" font-family="Liberation Sans" stroke="#111" stroke-width="0.22" >D</text>
<text x="202.10" y="166.23" font-size="7.3" fill="#111" text-anchor="start" font-weight="normal" font-family="Liberation Serif" stroke="#111" stroke-width="0.2" textLength="120.60" lengthAdjust="spacingAndGlyphs" >GO analysis_neutrophil related processes</text>
<rect x="271.6" y="171.4" width="29.1" height="56.5" fill="#fff" stroke="#c8c8c8" stroke-width="0.5"/>
<g transform="translate(267.5 176.65) scale(1 1.18)">
<text x="0.00" y="0.00" font-size="3.8" fill="#111" text-anchor="end" font-weight="normal" font-family="Liberation Sans" stroke="#111" stroke-width="0.15" >neutrophil activation involved in immune response</text>
</g>
<line x1="268.1" y1="175.2" x2="271.4" y2="175.2" stroke="#444" stroke-width="0.4"/>
<rect x="272" y="172.20" width="26.8" height="6.0" fill="#ff0a10"/>
<g transform="translate(267.5 183.45) scale(1 1.18)">
<text x="0.00" y="0.00" font-size="3.8" fill="#111" text-anchor="end" font-weight="normal" font-family="Liberation Sans" stroke="#111" stroke-width="0.15" >neutrophil degranulation</text>
</g>
<line x1="268.1" y1="182" x2="271.4" y2="182" stroke="#444" stroke-width="0.4"/>
<rect x="272" y="179.00" width="26.8" height="6.0" fill="#ff0a10"/>
<g transform="translate(267.5 190.35) scale(1 1.18)">
<text x="0.00" y="0.00" font-size="3.8" fill="#111" text-anchor="end" font-weight="normal" font-family="Liberation Sans" stroke="#111" stroke-width="0.15" >regulation of neutrophil migration</text>
</g>
<line x1="268.1" y1="188.9" x2="271.4" y2="188.9" stroke="#444" stroke-width="0.4"/>
<rect x="272" y="185.90" width="2.6" height="6.0" fill="#e8063f"/>
<g transform="translate(267.5 197.25) scale(1 1.18)">
<text x="0.00" y="0.00" font-size="3.8" fill="#111" text-anchor="end" font-weight="normal" font-family="Liberation Sans" stroke="#111" stroke-width="0.15" >regulation of neutrophil chemotaxis</text>
</g>
<line x1="268.1" y1="195.8" x2="271.4" y2="195.8" stroke="#444" stroke-width="0.4"/>
<rect x="272" y="192.80" width="2.3" height="6.0" fill="#e8063f"/>
<g transform="translate(267.5 204.25) scale(1 1.18)">
<text x="0.00" y="0.00" font-size="3.8" fill="#111" text-anchor="end" font-weight="normal" font-family="Liberation Sans" stroke="#111" stroke-width="0.15" >positive regulation of neutrophil chemotaxis</text>
</g>
<line x1="268.1" y1="202.8" x2="271.4" y2="202.8" stroke="#444" stroke-width="0.4"/>
<rect x="272" y="199.80" width="2.0" height="6.0" fill="#e8063f"/>
<g transform="translate(267.5 211.35) scale(1 1.18)">
<text x="0.00" y="0.00" font-size="3.8" fill="#111" text-anchor="end" font-weight="normal" font-family="Liberation Sans" stroke="#111" stroke-width="0.15" >positive regulation of neutrophil migration</text>
</g>
<line x1="268.1" y1="209.9" x2="271.4" y2="209.9" stroke="#444" stroke-width="0.4"/>
<rect x="272" y="206.90" width="2.2" height="6.0" fill="#e8063f"/>
<g transform="translate(267.5 218.45) scale(1 1.18)">
<text x="0.00" y="0.00" font-size="3.8" fill="#111" text-anchor="end" font-weight="normal" font-family="Liberation Sans" stroke="#111" stroke-width="0.15" >neutrophil migration</text>
</g>
<line x1="268.1" y1="217.0" x2="271.4" y2="217.0" stroke="#444" stroke-width="0.4"/>
<rect x="272" y="214.00" width="5.3" height="6.0" fill="#d80a5a"/>
<g transform="translate(267.5 225.35) scale(1 1.18)">
<text x="0.00" y="0.00" font-size="3.8" fill="#111" text-anchor="end" font-weight="normal" font-family="Liberation Sans" stroke="#111" stroke-width="0.15" >neutrophil chemotaxis</text>
</g>
<line x1="268.1" y1="223.9" x2="271.4" y2="223.9" stroke="#444" stroke-width="0.4"/>
<rect x="272" y="220.90" width="4.0" height="6.0" fill="#1e14f0"/>
<text x="271.80" y="232.30" font-size="3.6" fill="#333" text-anchor="middle" font-weight="normal" font-family="Liberation Sans" stroke="#333" stroke-width="0.1" >0</text>
<text x="281.40" y="232.30" font-size="3.6" fill="#333" text-anchor="middle" font-weight="normal" font-family="Liberation Sans" stroke="#333" stroke-width="0.1" >50</text>
<text x="290.60" y="232.30" font-size="3.6" fill="#333" text-anchor="middle" font-weight="normal" font-family="Liberation Sans" stroke="#333" stroke-width="0.1" >100</text>
<text x="306.00" y="186.20" font-size="3.6" fill="#444" text-anchor="start" font-weight="normal" font-family="Liberation Sans" stroke="#444" stroke-width="0.04" textLength="9.80" lengthAdjust="spacingAndGlyphs" >p.adjust</text>
<rect x="306" y="187.9" width="5.3" height="27.5" fill="url(#pa)"/>
<text x="313.50" y="195.04" font-size="2.9" fill="#444" text-anchor="start" font-weight="normal" font-family="Liberation Sans" stroke="#444" stroke-width="0.03" textLength="8.10" lengthAdjust="spacingAndGlyphs" >0.0025</text>
<text x="313.50" y="202.74" font-size="2.9" fill="#444" text-anchor="start" font-weight="normal" font-family="Liberation Sans" stroke="#444" stroke-width="0.03" textLength="8.10" lengthAdjust="spacingAndGlyphs" >0.0050</text>
<text x="313.50" y="209.64" font-size="2.9" fill="#444" text-anchor="start" font-weight="normal" font-family="Liberation Sans" stroke="#444" stroke-width="0.03" textLength="8.10" lengthAdjust="spacingAndGlyphs" >0.0075</text>
<text x="313.50" y="216.04" font-size="2.9" fill="#444" text-anchor="start" font-weight="normal" font-family="Liberation Sans" stroke="#444" stroke-width="0.03" textLength="8.10" lengthAdjust="spacingAndGlyphs" >0.0100</text>
<text x="4.40" y="254.60" font-size="6.8" fill="#111" text-anchor="start" font-weight="bold" font-family="Liberation Sans" stroke="#111" stroke-width="0.22" >E</text>
<rect x="17.9" y="262.2" width="90.40" height="55.00" fill="#fff"/>
<line x1="21.30" y1="262.2" x2="21.30" y2="317.2" stroke="#ebebeb" stroke-width="0.5"/>
<line x1="40.00" y1="262.2" x2="40.00" y2="317.2" stroke="#ebebeb" stroke-width="0.5"/>
<line x1="58.70" y1="262.2" x2="58.70" y2="317.2" stroke="#ebebeb" stroke-width="0.5"/>
<line x1="77.40" y1="262.2" x2="77.40" y2="317.2" stroke="#ebebeb" stroke-width="0.5"/>
<line x1="96.10" y1="262.2" x2="96.10" y2="317.2" stroke="#ebebeb" stroke-width="0.5"/>
<line x1="30.65" y1="262.2" x2="30.65" y2="317.2" stroke="#ebebeb" stroke-width="0.5"/>
<line x1="49.35" y1="262.2" x2="49.35" y2="317.2" stroke="#ebebeb" stroke-width="0.5"/>
<line x1="68.05" y1="262.2" x2="68.05" y2="317.2" stroke="#ebebeb" stroke-width="0.5"/>
<line x1="86.75" y1="262.2" x2="86.75" y2="317.2" stroke="#ebebeb" stroke-width="0.5"/>
<line x1="105.45" y1="262.2" x2="105.45" y2="317.2" stroke="#ebebeb" stroke-width="0.5"/>
<line x1="17.9" y1="276.50" x2="108.3" y2="276.50" stroke="#ebebeb" stroke-width="0.5"/>
<line x1="17.9" y1="291.70" x2="108.3" y2="291.70" stroke="#ebebeb" stroke-width="0.5"/>
<line x1="17.9" y1="306.90" x2="108.3" y2="306.90" stroke="#ebebeb" stroke-width="0.5"/>
<line x1="17.9" y1="284.10" x2="108.3" y2="284.10" stroke="#ebebeb" stroke-width="0.5"/>
<line x1="17.9" y1="299.30" x2="108.3" y2="299.30" stroke="#ebebeb" stroke-width="0.5"/>
<line x1="17.9" y1="269.00" x2="108.3" y2="269.00" stroke="#ebebeb" stroke-width="0.5"/>
<line x1="17.9" y1="314.40" x2="108.3" y2="314.40" stroke="#ebebeb" stroke-width="0.5"/>
<path d="M21.00,291.70 L21.00,265.40 L21.60,270.00 L22.20,275.00 L22.80,277.10 L24.90,281.30 L29.00,283.30 L38.60,285.40 L52.40,287.90 L53.10,288.20 L53.10,291.70 Z" fill="#111"/>
<path d="M53.10,291.70 L53.10,295.60 L60.00,295.60 L82.70,297.80 L94.70,300.10 L99.30,302.40 L102.30,306.10 L103.80,310.00 L104.60,315.30 L104.60,291.70 Z" fill="#111"/>
<rect x="27.60" y="263.2" width="0.4" height="53.0" fill="#fff" fill-opacity="0.75"/>
<rect x="31.00" y="263.2" width="0.4" height="53.0" fill="#fff" fill-opacity="0.75"/>
<rect x="36.00" y="263.2" width="0.4" height="53.0" fill="#fff" fill-opacity="0.75"/>
<rect x="40.00" y="263.2" width="0.4" height="53.0" fill="#fff" fill-opacity="0.75"/>
<rect x="43.00" y="263.2" width="0.4" height="53.0" fill="#fff" fill-opacity="0.75"/>
<rect x="46.50" y="263.2" width="0.5" height="53.0" fill="#fff" fill-opacity="0.75"/>
<rect x="48.80" y="263.2" width="0.5" height="53.0" fill="#fff" fill-opacity="0.75"/>
<rect x="50.50" y="263.2" width="0.6" height="53.0" fill="#fff" fill-opacity="0.75"/>
<rect x="52.20" y="263.2" width="0.5" height="53.0" fill="#fff" fill-opacity="0.75"/>
<rect x="54.80" y="263.2" width="0.6" height="53.0" fill="#fff" fill-opacity="0.75"/>
<rect x="57.00" y="263.2" width="0.5" height="53.0" fill="#fff" fill-opacity="0.75"/>
<rect x="59.30" y="263.2" width="0.6" height="53.0" fill="#fff" fill-opacity="0.75"/>
<rect x="63.00" y="263.2" width="0.5" height="53.0" fill="#fff" fill-opacity="0.75"/>
<rect x="64.80" y="263.2" width="0.5" height="53.0" fill="#fff" fill-opacity="0.75"/>
<rect x="67.00" y="263.2" width="0.6" height="53.0" fill="#fff" fill-opacity="0.75"/>
<rect x="70.00" y="263.2" width="0.5" height="53.0" fill="#fff" fill-opacity="0.75"/>
<rect x="72.00" y="263.2" width="0.6" height="53.0" fill="#fff" fill-opacity="0.75"/>
<rect x="76.00" y="263.2" width="0.6" height="53.0" fill="#fff" fill-opacity="0.75"/>
<rect x="79.50" y="263.2" width="0.6" height="53.0" fill="#fff" fill-opacity="0.75"/>
<rect x="83.00" y="263.2" width="0.6" height="53.0" fill="#fff" fill-opacity="0.75"/>
<rect x="86.00" y="263.2" width="0.5" height="53.0" fill="#fff" fill-opacity="0.75"/>
<rect x="88.00" y="263.2" width="0.5" height="53.0" fill="#fff" fill-opacity="0.75"/>
<rect x="92.50" y="263.2" width="0.5" height="53.0" fill="#fff" fill-opacity="0.75"/>
<rect x="95.00" y="263.2" width="0.5" height="53.0" fill="#fff" fill-opacity="0.75"/>
<rect x="17.9" y="262.2" width="90.40" height="55.00" fill="none" stroke="#a0a0a0" stroke-width="0.6"/>
<text x="16.20" y="278.16" font-size="4.6" fill="#444" text-anchor="end" font-weight="normal" font-family="Liberation Sans" stroke="#444" stroke-width="0.12" >1</text>
<line x1="16.70" y1="276.5" x2="17.80" y2="276.5" stroke="#4d4d4d" stroke-width="0.4"/>
<text x="16.20" y="293.36" font-size="4.6" fill="#444" text-anchor="end" font-weight="normal" font-family="Liberation Sans" stroke="#444" stroke-width="0.12" >0</text>
<line x1="16.70" y1="291.7" x2="17.80" y2="291.7" stroke="#4d4d4d" stroke-width="0.4"/>
<text x="16.20" y="308.56" font-size="4.6" fill="#444" text-anchor="end" font-weight="normal" font-family="Liberation Sans" stroke="#444" stroke-width="0.12" >-1</text>
<line x1="16.70" y1="306.9" x2="17.80" y2="306.9" stroke="#4d4d4d" stroke-width="0.4"/>
<rect x="17.9" y="322.6" width="90.40" height="53.00" fill="#fff"/>
<line x1="21.30" y1="322.6" x2="21.30" y2="375.6" stroke="#ebebeb" stroke-width="0.5"/>
<line x1="40.00" y1="322.6" x2="40.00" y2="375.6" stroke="#ebebeb" stroke-width="0.5"/>
<line x1="58.70" y1="322.6" x2="58.70" y2="375.6" stroke="#ebebeb" stroke-width="0.5"/>
<line x1="77.40" y1="322.6" x2="77.40" y2="375.6" stroke="#ebebeb" stroke-width="0.5"/>
<line x1="96.10" y1="322.6" x2="96.10" y2="375.6" stroke="#ebebeb" stroke-width="0.5"/>
<line x1="30.65" y1="322.6" x2="30.65" y2="375.6" stroke="#ebebeb" stroke-width="0.5"/>
<line x1="49.35" y1="322.6" x2="49.35" y2="375.6" stroke="#ebebeb" stroke-width="0.5"/>
<line x1="68.05" y1="322.6" x2="68.05" y2="375.6" stroke="#ebebeb" stroke-width="0.5"/>
<line x1="86.75" y1="322.6" x2="86.75" y2="375.6" stroke="#ebebeb" stroke-width="0.5"/>
<line x1="105.45" y1="322.6" x2="105.45" y2="375.6" stroke="#ebebeb" stroke-width="0.5"/>
<line x1="17.9" y1="324.00" x2="108.3" y2="324.00" stroke="#ebebeb" stroke-width="0.5"/>
<line x1="17.9" y1="335.90" x2="108.3" y2="335.90" stroke="#ebebeb" stroke-width="0.5"/>
<line x1="17.9" y1="347.80" x2="108.3" y2="347.80" stroke="#ebebeb" stroke-width="0.5"/>
<line x1="17.9" y1="359.70" x2="108.3" y2="359.70" stroke="#ebebeb" stroke-width="0.5"/>
<line x1="17.9" y1="371.60" x2="108.3" y2="371.60" stroke="#ebebeb" stroke-width="0.5"/>
<line x1="17.9" y1="330.00" x2="108.3" y2="330.00" stroke="#ebebeb" stroke-width="0.5"/>
<line x1="17.9" y1="341.80" x2="108.3" y2="341.80" stroke="#ebebeb" stroke-width="0.5"/>
<line x1="17.9" y1="353.70" x2="108.3" y2="353.70" stroke="#ebebeb" stroke-width="0.5"/>
<line x1="17.9" y1="365.60" x2="108.3" y2="365.60" stroke="#ebebeb" stroke-width="0.5"/>
<line x1="17.9" y1="359.8" x2="108.3" y2="359.8" stroke="#999" stroke-width="0.5"/>
<rect x="21.00" y="357.40" width="34.80" height="4.8" fill="#000"/>
<rect x="56.30" y="357.40" width="1.50" height="4.8" fill="#000"/>
<rect x="58.30" y="357.40" width="3.50" height="4.8" fill="#000"/>
<rect x="62.30" y="357.40" width="2.90" height="4.8" fill="#000"/>
<rect x="65.70" y="357.40" width="3.50" height="4.8" fill="#000"/>
<rect x="69.80" y="357.40" width="1.90" height="4.8" fill="#000"/>
<rect x="72.20" y="357.40" width="4.00" height="4.8" fill="#000"/>
<rect x="76.70" y="357.40" width="1.50" height="4.8" fill="#000"/>
<rect x="78.70" y="357.40" width="3.50" height="4.8" fill="#000"/>
<rect x="82.80" y="357.40" width="2.90" height="4.8" fill="#000"/>
<rect x="86.20" y="357.40" width="2.00" height="4.8" fill="#000"/>
<rect x="88.80" y="357.40" width="3.40" height="4.8" fill="#000"/>
<rect x="92.80" y="357.40" width="1.90" height="4.8" fill="#000"/>
<rect x="95.30" y="357.40" width="9.00" height="4.8" fill="#000"/>
<line x1="44.6" y1="322.6" x2="44.6" y2="375.6" stroke="#d44a58" stroke-width="0.8" stroke-dasharray="0.9,1.5"/>
<path d="M21.40,359.60 L21.60,357.00 L22.50,348.00 L24.80,340.00 L28.10,334.60 L31.50,331.80 L38.30,328.50 L44.50,324.30 L48.00,325.60 L54.60,330.30 L59.20,336.90 L66.70,346.20 L74.20,354.70 L80.80,360.30 L85.50,364.00 L92.00,367.80 L97.10,372.60 L100.40,370.20 L103.30,365.00 L104.20,360.30" fill="none" stroke="#237a9c" stroke-width="1.05" stroke-linejoin="round"/>
<rect x="17.9" y="322.6" width="90.40" height="53.00" fill="none" stroke="#a0a0a0" stroke-width="0.6"/>
<text x="16.20" y="325.66" font-size="4.6" fill="#444" text-anchor="end" font-weight="normal" font-family="Liberation Sans" stroke="#444" stroke-width="0.12" >0.3</text>
<line x1="16.70" y1="324.0" x2="17.80" y2="324.0" stroke="#4d4d4d" stroke-width="0.4"/>
<text x="16.20" y="337.66" font-size="4.6" fill="#444" text-anchor="end" font-weight="normal" font-family="Liberation Sans" stroke="#444" stroke-width="0.12" >0.2</text>
<line x1="16.70" y1="336.0" x2="17.80" y2="336.0" stroke="#4d4d4d" stroke-width="0.4"/>
<text x="16.20" y="349.66" font-size="4.6" fill="#444" text-anchor="end" font-weight="normal" font-family="Liberation Sans" stroke="#444" stroke-width="0.12" >0.1</text>
<line x1="16.70" y1="348.0" x2="17.80" y2="348.0" stroke="#4d4d4d" stroke-width="0.4"/>
<text x="16.20" y="361.46" font-size="4.6" fill="#444" text-anchor="end" font-weight="normal" font-family="Liberation Sans" stroke="#444" stroke-width="0.12" >0.0</text>
<line x1="16.70" y1="359.8" x2="17.80" y2="359.8" stroke="#4d4d4d" stroke-width="0.4"/>
<text x="16.20" y="373.46" font-size="4.6" fill="#444" text-anchor="end" font-weight="normal" font-family="Liberation Sans" stroke="#444" stroke-width="0.12" >-0.1</text>
<line x1="16.70" y1="371.8" x2="17.80" y2="371.8" stroke="#4d4d4d" stroke-width="0.4"/>
<line x1="21.30" y1="375.6" x2="21.30" y2="376.70000000000005" stroke="#4d4d4d" stroke-width="0.4"/>
<text x="21.30" y="380.50" font-size="4.5" fill="#444" text-anchor="middle" font-weight="normal" font-family="Liberation Sans" stroke="#444" stroke-width="0.12" >0</text>
<line x1="40.00" y1="375.6" x2="40.00" y2="376.70000000000005" stroke="#4d4d4d" stroke-width="0.4"/>
<text x="40.00" y="380.50" font-size="4.5" fill="#444" text-anchor="middle" font-weight="normal" font-family="Liberation Sans" stroke="#444" stroke-width="0.12" >500</text>
<line x1="58.70" y1="375.6" x2="58.70" y2="376.70000000000005" stroke="#4d4d4d" stroke-width="0.4"/>
<text x="58.70" y="380.50" font-size="4.5" fill="#444" text-anchor="middle" font-weight="normal" font-family="Liberation Sans" stroke="#444" stroke-width="0.12" >1000</text>
<line x1="77.40" y1="375.6" x2="77.40" y2="376.70000000000005" stroke="#4d4d4d" stroke-width="0.4"/>
<text x="77.40" y="380.50" font-size="4.5" fill="#444" text-anchor="middle" font-weight="normal" font-family="Liberation Sans" stroke="#444" stroke-width="0.12" >1500</text>
<line x1="96.10" y1="375.6" x2="96.10" y2="376.70000000000005" stroke="#4d4d4d" stroke-width="0.4"/>
<text x="96.10" y="380.50" font-size="4.5" fill="#444" text-anchor="middle" font-weight="normal" font-family="Liberation Sans" stroke="#444" stroke-width="0.12" >2000</text>
<text x="20.60" y="386.80" font-size="5.0" fill="#111" text-anchor="start" font-weight="normal" font-family="Liberation Sans" stroke="#111" stroke-width="0.16" textLength="84.00" lengthAdjust="spacingAndGlyphs" >Position in the Ranked List of Genes</text>
<text x="23.60" y="398.40" font-size="7.25" fill="#111" text-anchor="start" font-weight="normal" font-family="Liberation Serif" stroke="#111" stroke-width="0.16" textLength="65.90" lengthAdjust="spacingAndGlyphs" >GSEA immune system</text>
<g transform="translate(4.6,285.5) rotate(-90)">
<text x="-21.50" y="0.00" font-size="5.0" fill="#111" text-anchor="start" font-weight="normal" font-family="Liberation Sans" stroke="#111" stroke-width="0.2" textLength="43.00" lengthAdjust="spacingAndGlyphs" >Ranked List Metric</text>
</g>
<g transform="translate(4.6,350.7) rotate(-90)">
<text x="-29.30" y="0.00" font-size="5.0" fill="#111" text-anchor="start" font-weight="normal" font-family="Liberation Sans" stroke="#111" stroke-width="0.2" textLength="58.60" lengthAdjust="spacingAndGlyphs" >Running Enrichment Score</text>
</g>
<text x="121.50" y="254.50" font-size="6.8" fill="#111" text-anchor="start" font-weight="bold" font-family="Liberation Sans" stroke="#111" stroke-width="0.22" >F</text>
<rect x="124.9" y="261.8" width="91.40" height="54.70" fill="#fff"/>
<line x1="128.60" y1="261.8" x2="128.60" y2="316.5" stroke="#ebebeb" stroke-width="0.5"/>
<line x1="147.70" y1="261.8" x2="147.70" y2="316.5" stroke="#ebebeb" stroke-width="0.5"/>
<line x1="166.80" y1="261.8" x2="166.80" y2="316.5" stroke="#ebebeb" stroke-width="0.5"/>
<line x1="185.90" y1="261.8" x2="185.90" y2="316.5" stroke="#ebebeb" stroke-width="0.5"/>
<line x1="205.00" y1="261.8" x2="205.00" y2="316.5" stroke="#ebebeb" stroke-width="0.5"/>
<line x1="138.15" y1="261.8" x2="138.15" y2="316.5" stroke="#ebebeb" stroke-width="0.5"/>
<line x1="157.25" y1="261.8" x2="157.25" y2="316.5" stroke="#ebebeb" stroke-width="0.5"/>
<line x1="176.35" y1="261.8" x2="176.35" y2="316.5" stroke="#ebebeb" stroke-width="0.5"/>
<line x1="195.45" y1="261.8" x2="195.45" y2="316.5" stroke="#ebebeb" stroke-width="0.5"/>
<line x1="214.55" y1="261.8" x2="214.55" y2="316.5" stroke="#ebebeb" stroke-width="0.5"/>
<line x1="124.9" y1="280.30" x2="216.3" y2="280.30" stroke="#ebebeb" stroke-width="0.5"/>
<line x1="124.9" y1="301.20" x2="216.3" y2="301.20" stroke="#ebebeb" stroke-width="0.5"/>
<line x1="124.9" y1="290.75" x2="216.3" y2="290.75" stroke="#ebebeb" stroke-width="0.5"/>
<line x1="124.9" y1="269.80" x2="216.3" y2="269.80" stroke="#ebebeb" stroke-width="0.5"/>
<line x1="124.9" y1="311.60" x2="216.3" y2="311.60" stroke="#ebebeb" stroke-width="0.5"/>
<path d="M128.40,301.20 L128.40,264.00 L129.00,272.00 L129.80,278.00 L130.80,282.00 L132.50,285.50 L136.00,288.00 L140.00,289.80 L150.00,292.50 L160.80,295.20 L160.80,301.20 Z" fill="#111"/>
<rect x="136.50" y="262.8" width="0.5" height="52.69999999999999" fill="#fff" fill-opacity="0.75"/>
<rect x="139.00" y="262.8" width="0.5" height="52.69999999999999" fill="#fff" fill-opacity="0.75"/>
<rect x="141.50" y="262.8" width="0.6" height="52.69999999999999" fill="#fff" fill-opacity="0.75"/>
<rect x="144.00" y="262.8" width="0.6" height="52.69999999999999" fill="#fff" fill-opacity="0.75"/>
<rect x="146.00" y="262.8" width="0.7" height="52.69999999999999" fill="#fff" fill-opacity="0.75"/>
<rect x="148.20" y="262.8" width="0.7" height="52.69999999999999" fill="#fff" fill-opacity="0.75"/>
<rect x="150.50" y="262.8" width="0.8" height="52.69999999999999" fill="#fff" fill-opacity="0.75"/>
<rect x="152.80" y="262.8" width="0.7" height="52.69999999999999" fill="#fff" fill-opacity="0.75"/>
<rect x="155.00" y="262.8" width="0.8" height="52.69999999999999" fill="#fff" fill-opacity="0.75"/>
<rect x="157.20" y="262.8" width="0.8" height="52.69999999999999" fill="#fff" fill-opacity="0.75"/>
<rect x="159.20" y="262.8" width="0.6" height="52.69999999999999" fill="#fff" fill-opacity="0.75"/>
<line x1="166.20" y1="301.20" x2="166.20" y2="306.80" stroke="#222" stroke-width="0.8"/>
<line x1="168.60" y1="301.20" x2="168.60" y2="307.00" stroke="#222" stroke-width="0.8"/>
<line x1="173.10" y1="301.20" x2="173.10" y2="307.20" stroke="#222" stroke-width="0.8"/>
<line x1="175.80" y1="301.20" x2="175.80" y2="307.40" stroke="#222" stroke-width="0.8"/>
<line x1="177.70" y1="301.20" x2="177.70" y2="307.50" stroke="#222" stroke-width="0.8"/>
<line x1="180.40" y1="301.20" x2="180.40" y2="307.80" stroke="#222" stroke-width="0.8"/>
<line x1="181.50" y1="301.20" x2="181.50" y2="307.90" stroke="#222" stroke-width="0.8"/>
<line x1="182.60" y1="301.20" x2="182.60" y2="308.00" stroke="#222" stroke-width="0.8"/>
<line x1="183.80" y1="301.20" x2="183.80" y2="308.10" stroke="#222" stroke-width="0.8"/>
<line x1="184.90" y1="301.20" x2="184.90" y2="308.20" stroke="#222" stroke-width="0.8"/>
<line x1="188.50" y1="301.20" x2="188.50" y2="309.00" stroke="#222" stroke-width="0.8"/>
<line x1="190.30" y1="301.20" x2="190.30" y2="309.50" stroke="#222" stroke-width="0.8"/>
<line x1="191.40" y1="301.20" x2="191.40" y2="309.70" stroke="#222" stroke-width="0.8"/>
<line x1="192.60" y1="301.20" x2="192.60" y2="310.00" stroke="#222" stroke-width="0.8"/>
<line x1="193.80" y1="301.20" x2="193.80" y2="310.20" stroke="#222" stroke-width="0.8"/>
<line x1="194.90" y1="301.20" x2="194.90" y2="310.40" stroke="#222" stroke-width="0.8"/>
<line x1="195.80" y1="301.20" x2="195.80" y2="310.60" stroke="#222" stroke-width="0.8"/>
<line x1="199.40" y1="301.20" x2="199.40" y2="311.20" stroke="#222" stroke-width="0.8"/>
<line x1="201.20" y1="301.20" x2="201.20" y2="311.60" stroke="#222" stroke-width="0.8"/>
<line x1="202.40" y1="301.20" x2="202.40" y2="311.90" stroke="#222" stroke-width="0.8"/>
<line x1="203.60" y1="301.20" x2="203.60" y2="312.20" stroke="#222" stroke-width="0.8"/>
<line x1="204.80" y1="301.20" x2="204.80" y2="312.50" stroke="#222" stroke-width="0.8"/>
<line x1="206.00" y1="301.20" x2="206.00" y2="312.80" stroke="#222" stroke-width="0.8"/>
<line x1="207.30" y1="301.20" x2="207.30" y2="313.20" stroke="#222" stroke-width="0.8"/>
<rect x="124.9" y="261.8" width="91.40" height="54.70" fill="none" stroke="#a0a0a0" stroke-width="0.6"/>
<text x="123.20" y="281.96" font-size="4.6" fill="#444" text-anchor="end" font-weight="normal" font-family="Liberation Sans" stroke="#444" stroke-width="0.12" >1</text>
<line x1="123.70" y1="280.3" x2="124.80" y2="280.3" stroke="#4d4d4d" stroke-width="0.4"/>
<text x="123.20" y="302.86" font-size="4.6" fill="#444" text-anchor="end" font-weight="normal" font-family="Liberation Sans" stroke="#444" stroke-width="0.12" >0</text>
<line x1="123.70" y1="301.2" x2="124.80" y2="301.2" stroke="#4d4d4d" stroke-width="0.4"/>
<rect x="124.9" y="321.4" width="91.40" height="52.10" fill="#fff"/>
<line x1="128.60" y1="321.4" x2="128.60" y2="373.5" stroke="#ebebeb" stroke-width="0.5"/>
<line x1="147.70" y1="321.4" x2="147.70" y2="373.5" stroke="#ebebeb" stroke-width="0.5"/>
<line x1="166.80" y1="321.4" x2="166.80" y2="373.5" stroke="#ebebeb" stroke-width="0.5"/>
<line x1="185.90" y1="321.4" x2="185.90" y2="373.5" stroke="#ebebeb" stroke-width="0.5"/>
<line x1="205.00" y1="321.4" x2="205.00" y2="373.5" stroke="#ebebeb" stroke-width="0.5"/>
<line x1="138.15" y1="321.4" x2="138.15" y2="373.5" stroke="#ebebeb" stroke-width="0.5"/>
<line x1="157.25" y1="321.4" x2="157.25" y2="373.5" stroke="#ebebeb" stroke-width="0.5"/>
<line x1="176.35" y1="321.4" x2="176.35" y2="373.5" stroke="#ebebeb" stroke-width="0.5"/>
<line x1="195.45" y1="321.4" x2="195.45" y2="373.5" stroke="#ebebeb" stroke-width="0.5"/>
<line x1="214.55" y1="321.4" x2="214.55" y2="373.5" stroke="#ebebeb" stroke-width="0.5"/>
<line x1="124.9" y1="336.30" x2="216.3" y2="336.30" stroke="#ebebeb" stroke-width="0.5"/>
<line x1="124.9" y1="352.60" x2="216.3" y2="352.60" stroke="#ebebeb" stroke-width="0.5"/>
<line x1="124.9" y1="368.80" x2="216.3" y2="368.80" stroke="#ebebeb" stroke-width="0.5"/>
<line x1="124.9" y1="328.20" x2="216.3" y2="328.20" stroke="#ebebeb" stroke-width="0.5"/>
<line x1="124.9" y1="344.40" x2="216.3" y2="344.40" stroke="#ebebeb" stroke-width="0.5"/>
<line x1="124.9" y1="360.70" x2="216.3" y2="360.70" stroke="#ebebeb" stroke-width="0.5"/>
<line x1="124.9" y1="368.8" x2="216.3" y2="368.8" stroke="#999" stroke-width="0.5"/>
<rect x="129.00" y="366.40" width="26.50" height="4.8" fill="#000"/>
<rect x="157.00" y="366.40" width="1.00" height="4.8" fill="#000"/>
<rect x="159.00" y="366.40" width="1.50" height="4.8" fill="#000"/>
<rect x="165.50" y="366.40" width="1.00" height="4.8" fill="#000"/>
<rect x="169.00" y="366.40" width="2.50" height="4.8" fill="#000"/>
<rect x="173.00" y="366.40" width="1.00" height="4.8" fill="#000"/>
<rect x="177.00" y="366.40" width="1.00" height="4.8" fill="#000"/>
<rect x="180.00" y="366.40" width="1.00" height="4.8" fill="#000"/>
<rect x="182.00" y="366.40" width="2.50" height="4.8" fill="#000"/>
<rect x="189.00" y="366.40" width="1.00" height="4.8" fill="#000"/>
<rect x="191.00" y="366.40" width="5.50" height="4.8" fill="#000"/>
<rect x="199.50" y="366.40" width="1.00" height="4.8" fill="#000"/>
<rect x="202.00" y="366.40" width="1.00" height="4.8" fill="#000"/>
<rect x="205.00" y="366.40" width="2.50" height="4.8" fill="#000"/>
<line x1="153.4" y1="321.4" x2="153.4" y2="373.5" stroke="#d44a58" stroke-width="0.8" stroke-dasharray="0.9,1.5"/>
<path d="M129.20,369.40 L129.80,352.70 L131.80,341.40 L135.60,333.90 L140.10,331.30 L143.90,328.90 L146.10,329.30 L148.40,327.10 L150.70,324.30 L153.70,323.70 L156.70,325.90 L160.50,327.40 L165.80,332.40 L170.30,336.90 L177.60,342.20 L185.10,349.00 L192.70,355.80 L197.20,358.00 L204.70,363.30 L207.00,362.60 L211.50,368.80" fill="none" stroke="#237a9c" stroke-width="1.05" stroke-linejoin="round"/>
<rect x="124.9" y="321.4" width="91.40" height="52.10" fill="none" stroke="#a0a0a0" stroke-width="0.6"/>
<text x="123.20" y="337.96" font-size="4.6" fill="#444" text-anchor="end" font-weight="normal" font-family="Liberation Sans" stroke="#444" stroke-width="0.12" >0.4</text>
<line x1="123.70" y1="336.3" x2="124.80" y2="336.3" stroke="#4d4d4d" stroke-width="0.4"/>
<text x="123.20" y="354.26" font-size="4.6" fill="#444" text-anchor="end" font-weight="normal" font-family="Liberation Sans" stroke="#444" stroke-width="0.12" >0.2</text>
<line x1="123.70" y1="352.6" x2="124.80" y2="352.6" stroke="#4d4d4d" stroke-width="0.4"/>
<text x="123.20" y="370.46" font-size="4.6" fill="#444" text-anchor="end" font-weight="normal" font-family="Liberation Sans" stroke="#444" stroke-width="0.12" >0.0</text>
<line x1="123.70" y1="368.8" x2="124.80" y2="368.8" stroke="#4d4d4d" stroke-width="0.4"/>
<line x1="128.60" y1="373.5" x2="128.60" y2="374.6" stroke="#4d4d4d" stroke-width="0.4"/>
<text x="128.60" y="379.80" font-size="4.5" fill="#444" text-anchor="middle" font-weight="normal" font-family="Liberation Sans" stroke="#444" stroke-width="0.12" >0</text>
<line x1="147.70" y1="373.5" x2="147.70" y2="374.6" stroke="#4d4d4d" stroke-width="0.4"/>
<text x="147.70" y="379.80" font-size="4.5" fill="#444" text-anchor="middle" font-weight="normal" font-family="Liberation Sans" stroke="#444" stroke-width="0.12" >500</text>
<line x1="166.80" y1="373.5" x2="166.80" y2="374.6" stroke="#4d4d4d" stroke-width="0.4"/>
<text x="166.80" y="379.80" font-size="4.5" fill="#444" text-anchor="middle" font-weight="normal" font-family="Liberation Sans" stroke="#444" stroke-width="0.12" >1000</text>
<line x1="185.90" y1="373.5" x2="185.90" y2="374.6" stroke="#4d4d4d" stroke-width="0.4"/>
<text x="185.90" y="379.80" font-size="4.5" fill="#444" text-anchor="middle" font-weight="normal" font-family="Liberation Sans" stroke="#444" stroke-width="0.12" >1500</text>
<line x1="205.00" y1="373.5" x2="205.00" y2="374.6" stroke="#4d4d4d" stroke-width="0.4"/>
<text x="205.00" y="379.80" font-size="4.5" fill="#444" text-anchor="middle" font-weight="normal" font-family="Liberation Sans" stroke="#444" stroke-width="0.12" >2000</text>
<text x="128.60" y="385.40" font-size="5.0" fill="#111" text-anchor="start" font-weight="normal" font-family="Liberation Sans" stroke="#111" stroke-width="0.16" textLength="84.00" lengthAdjust="spacingAndGlyphs" >Position in the Ranked List of Genes</text>
<text x="125.00" y="398.30" font-size="7.25" fill="#111" text-anchor="start" font-weight="normal" font-family="Liberation Serif" stroke="#111" stroke-width="0.16" textLength="91.20" lengthAdjust="spacingAndGlyphs" >GSEA neutrophil degranulation</text>
<text x="226.40" y="254.50" font-size="6.8" fill="#111" text-anchor="start" font-weight="bold" font-family="Liberation Sans" stroke="#111" stroke-width="0.22" >G</text>
<rect x="235.8" y="262.2" width="90.60" height="54.80" fill="#fff"/>
<line x1="240.50" y1="262.2" x2="240.50" y2="317.0" stroke="#ebebeb" stroke-width="0.5"/>
<line x1="258.50" y1="262.2" x2="258.50" y2="317.0" stroke="#ebebeb" stroke-width="0.5"/>
<line x1="276.50" y1="262.2" x2="276.50" y2="317.0" stroke="#ebebeb" stroke-width="0.5"/>
<line x1="294.50" y1="262.2" x2="294.50" y2="317.0" stroke="#ebebeb" stroke-width="0.5"/>
<line x1="312.50" y1="262.2" x2="312.50" y2="317.0" stroke="#ebebeb" stroke-width="0.5"/>
<line x1="249.50" y1="262.2" x2="249.50" y2="317.0" stroke="#ebebeb" stroke-width="0.5"/>
<line x1="267.50" y1="262.2" x2="267.50" y2="317.0" stroke="#ebebeb" stroke-width="0.5"/>
<line x1="285.50" y1="262.2" x2="285.50" y2="317.0" stroke="#ebebeb" stroke-width="0.5"/>
<line x1="303.50" y1="262.2" x2="303.50" y2="317.0" stroke="#ebebeb" stroke-width="0.5"/>
<line x1="321.50" y1="262.2" x2="321.50" y2="317.0" stroke="#ebebeb" stroke-width="0.5"/>
<line x1="235.8" y1="278.20" x2="326.4" y2="278.20" stroke="#ebebeb" stroke-width="0.5"/>
<line x1="235.8" y1="296.40" x2="326.4" y2="296.40" stroke="#ebebeb" stroke-width="0.5"/>
<line x1="235.8" y1="314.40" x2="326.4" y2="314.40" stroke="#ebebeb" stroke-width="0.5"/>
<line x1="235.8" y1="269.10" x2="326.4" y2="269.10" stroke="#ebebeb" stroke-width="0.5"/>
<line x1="235.8" y1="287.30" x2="326.4" y2="287.30" stroke="#ebebeb" stroke-width="0.5"/>
<line x1="235.8" y1="305.40" x2="326.4" y2="305.40" stroke="#ebebeb" stroke-width="0.5"/>
<line x1="241.30" y1="296.40" x2="241.30" y2="264.70" stroke="#111" stroke-width="0.8"/>
<line x1="242.50" y1="296.40" x2="242.50" y2="269.50" stroke="#222" stroke-width="0.8"/>
<line x1="244.00" y1="296.40" x2="244.00" y2="272.00" stroke="#222" stroke-width="0.8"/>
<line x1="245.30" y1="296.40" x2="245.30" y2="273.30" stroke="#111" stroke-width="0.8"/>
<line x1="247.00" y1="296.40" x2="247.00" y2="276.00" stroke="#333" stroke-width="0.8"/>
<line x1="248.60" y1="296.40" x2="248.60" y2="277.00" stroke="#111" stroke-width="0.8"/>
<line x1="250.00" y1="296.40" x2="250.00" y2="278.60" stroke="#222" stroke-width="0.8"/>
<line x1="252.00" y1="296.40" x2="252.00" y2="279.60" stroke="#222" stroke-width="0.8"/>
<line x1="254.00" y1="296.40" x2="254.00" y2="280.00" stroke="#333" stroke-width="0.8"/>
<line x1="257.00" y1="296.40" x2="257.00" y2="281.00" stroke="#555" stroke-width="0.8"/>
<line x1="260.20" y1="296.40" x2="260.20" y2="283.00" stroke="#222" stroke-width="0.8"/>
<line x1="262.60" y1="296.40" x2="262.60" y2="284.60" stroke="#444" stroke-width="0.8"/>
<line x1="264.00" y1="296.40" x2="264.00" y2="284.80" stroke="#555" stroke-width="0.8"/>
<line x1="265.20" y1="296.40" x2="265.20" y2="285.00" stroke="#444" stroke-width="0.8"/>
<line x1="267.20" y1="296.40" x2="267.20" y2="285.90" stroke="#222" stroke-width="0.8"/>
<line x1="269.90" y1="296.40" x2="269.90" y2="287.20" stroke="#333" stroke-width="0.8"/>
<line x1="274.50" y1="296.40" x2="274.50" y2="305.80" stroke="#333" stroke-width="0.8"/>
<line x1="275.90" y1="296.40" x2="275.90" y2="305.80" stroke="#444" stroke-width="0.8"/>
<line x1="278.50" y1="296.40" x2="278.50" y2="306.00" stroke="#333" stroke-width="0.8"/>
<line x1="279.70" y1="296.40" x2="279.70" y2="306.00" stroke="#444" stroke-width="0.8"/>
<line x1="292.50" y1="296.40" x2="292.50" y2="309.40" stroke="#333" stroke-width="0.8"/>
<line x1="307.40" y1="296.40" x2="307.40" y2="314.00" stroke="#333" stroke-width="0.8"/>
<line x1="308.60" y1="296.40" x2="308.60" y2="314.00" stroke="#222" stroke-width="0.8"/>
<line x1="309.80" y1="296.40" x2="309.80" y2="314.00" stroke="#444" stroke-width="0.8"/>
<rect x="235.8" y="262.2" width="90.60" height="54.80" fill="none" stroke="#a0a0a0" stroke-width="0.6"/>
<text x="234.10" y="279.86" font-size="4.6" fill="#444" text-anchor="end" font-weight="normal" font-family="Liberation Sans" stroke="#444" stroke-width="0.12" >0.5</text>
<line x1="234.60" y1="278.2" x2="235.70" y2="278.2" stroke="#4d4d4d" stroke-width="0.4"/>
<text x="234.10" y="298.16" font-size="4.6" fill="#444" text-anchor="end" font-weight="normal" font-family="Liberation Sans" stroke="#444" stroke-width="0.12" >0.0</text>
<line x1="234.60" y1="296.5" x2="235.70" y2="296.5" stroke="#4d4d4d" stroke-width="0.4"/>
<text x="234.10" y="316.06" font-size="4.6" fill="#444" text-anchor="end" font-weight="normal" font-family="Liberation Sans" stroke="#444" stroke-width="0.12" >-0.5</text>
<line x1="234.60" y1="314.4" x2="235.70" y2="314.4" stroke="#4d4d4d" stroke-width="0.4"/>
<rect x="235.8" y="321.6" width="90.60" height="51.40" fill="#fff"/>
<line x1="240.50" y1="321.6" x2="240.50" y2="373.0" stroke="#ebebeb" stroke-width="0.5"/>
<line x1="258.50" y1="321.6" x2="258.50" y2="373.0" stroke="#ebebeb" stroke-width="0.5"/>
<line x1="276.50" y1="321.6" x2="276.50" y2="373.0" stroke="#ebebeb" stroke-width="0.5"/>
<line x1="294.50" y1="321.6" x2="294.50" y2="373.0" stroke="#ebebeb" stroke-width="0.5"/>
<line x1="312.50" y1="321.6" x2="312.50" y2="373.0" stroke="#ebebeb" stroke-width="0.5"/>
<line x1="249.50" y1="321.6" x2="249.50" y2="373.0" stroke="#ebebeb" stroke-width="0.5"/>
<line x1="267.50" y1="321.6" x2="267.50" y2="373.0" stroke="#ebebeb" stroke-width="0.5"/>
<line x1="285.50" y1="321.6" x2="285.50" y2="373.0" stroke="#ebebeb" stroke-width="0.5"/>
<line x1="303.50" y1="321.6" x2="303.50" y2="373.0" stroke="#ebebeb" stroke-width="0.5"/>
<line x1="321.50" y1="321.6" x2="321.50" y2="373.0" stroke="#ebebeb" stroke-width="0.5"/>
<line x1="235.8" y1="334.30" x2="326.4" y2="334.30" stroke="#ebebeb" stroke-width="0.5"/>
<line x1="235.8" y1="351.70" x2="326.4" y2="351.70" stroke="#ebebeb" stroke-width="0.5"/>
<line x1="235.8" y1="369.10" x2="326.4" y2="369.10" stroke="#ebebeb" stroke-width="0.5"/>
<line x1="235.8" y1="325.60" x2="326.4" y2="325.60" stroke="#ebebeb" stroke-width="0.5"/>
<line x1="235.8" y1="343.00" x2="326.4" y2="343.00" stroke="#ebebeb" stroke-width="0.5"/>
<line x1="235.8" y1="360.40" x2="326.4" y2="360.40" stroke="#ebebeb" stroke-width="0.5"/>
<line x1="235.8" y1="369.1" x2="326.4" y2="369.1" stroke="#999" stroke-width="0.5"/>
<rect x="241.70" y="366.70" width="0.80" height="4.8" fill="#000"/>
<rect x="243.30" y="366.70" width="0.70" height="4.8" fill="#000"/>
<rect x="245.00" y="366.70" width="1.00" height="4.8" fill="#000"/>
<rect x="246.80" y="366.70" width="0.80" height="4.8" fill="#000"/>
<rect x="248.30" y="366.70" width="0.90" height="4.8" fill="#000"/>
<rect x="250.00" y="366.70" width="1.00" height="4.8" fill="#000"/>
<rect x="251.80" y="366.70" width="0.70" height="4.8" fill="#000"/>
<rect x="253.20" y="366.70" width="1.10" height="4.8" fill="#000"/>
<rect x="255.00" y="366.70" width="1.00" height="4.8" fill="#000"/>
<rect x="256.80" y="366.70" width="0.70" height="4.8" fill="#000"/>
<rect x="260.20" y="366.70" width="0.80" height="4.8" fill="#000"/>
<rect x="262.20" y="366.70" width="0.80" height="4.8" fill="#000"/>
<rect x="264.00" y="366.70" width="0.80" height="4.8" fill="#000"/>
<rect x="266.20" y="366.70" width="0.80" height="4.8" fill="#000"/>
<rect x="268.00" y="366.70" width="0.80" height="4.8" fill="#000"/>
<rect x="270.00" y="366.70" width="1.00" height="4.8" fill="#000"/>
<rect x="274.50" y="366.70" width="0.80" height="4.8" fill="#000"/>
<rect x="278.70" y="366.70" width="0.70" height="4.8" fill="#000"/>
<rect x="291.80" y="366.70" width="0.70" height="4.8" fill="#000"/>
<rect x="307.80" y="366.70" width="0.80" height="4.8" fill="#000"/>
<rect x="309.40" y="366.70" width="0.80" height="4.8" fill="#000"/>
<rect x="310.60" y="366.70" width="0.60" height="4.8" fill="#000"/>
<line x1="254.2" y1="321.6" x2="254.2" y2="373.0" stroke="#d44a58" stroke-width="0.8" stroke-dasharray="0.9,1.5"/>
<path d="M241.30,369.10 L242.00,358.00 L243.50,354.00 L245.00,350.00 L246.50,344.00 L247.50,342.50 L248.50,340.00 L250.00,337.00 L252.00,333.00 L253.00,330.00 L254.20,322.20 L256.00,325.00 L258.00,325.50 L260.00,324.50 L263.00,325.00 L266.00,325.00 L270.00,326.00 L274.00,329.50 L277.00,330.50 L279.00,331.00 L279.50,330.00 L282.00,333.00 L287.00,340.00 L293.00,344.00 L296.00,347.00 L301.00,352.00 L306.00,358.00 L309.00,356.00 L310.50,357.00 L313.00,361.00 L316.00,365.00 L321.80,369.10" fill="none" stroke="#237a9c" stroke-width="1.05" stroke-linejoin="round"/>
<rect x="235.8" y="321.6" width="90.60" height="51.40" fill="none" stroke="#a0a0a0" stroke-width="0.6"/>
<text x="234.10" y="335.96" font-size="4.6" fill="#444" text-anchor="end" font-weight="normal" font-family="Liberation Sans" stroke="#444" stroke-width="0.12" >0.4</text>
<line x1="234.60" y1="334.3" x2="235.70" y2="334.3" stroke="#4d4d4d" stroke-width="0.4"/>
<text x="234.10" y="353.26" font-size="4.6" fill="#444" text-anchor="end" font-weight="normal" font-family="Liberation Sans" stroke="#444" stroke-width="0.12" >0.2</text>
<line x1="234.60" y1="351.6" x2="235.70" y2="351.6" stroke="#4d4d4d" stroke-width="0.4"/>
<text x="234.10" y="370.76" font-size="4.6" fill="#444" text-anchor="end" font-weight="normal" font-family="Liberation Sans" stroke="#444" stroke-width="0.12" >0.0</text>
<line x1="234.60" y1="369.1" x2="235.70" y2="369.1" stroke="#4d4d4d" stroke-width="0.4"/>
<line x1="240.50" y1="373.0" x2="240.50" y2="374.1" stroke="#4d4d4d" stroke-width="0.4"/>
<text x="240.50" y="377.20" font-size="4.5" fill="#444" text-anchor="middle" font-weight="normal" font-family="Liberation Sans" stroke="#444" stroke-width="0.12" >0</text>
<line x1="258.50" y1="373.0" x2="258.50" y2="374.1" stroke="#4d4d4d" stroke-width="0.4"/>
<text x="258.50" y="377.20" font-size="4.5" fill="#444" text-anchor="middle" font-weight="normal" font-family="Liberation Sans" stroke="#444" stroke-width="0.12" >500</text>
<line x1="276.50" y1="373.0" x2="276.50" y2="374.1" stroke="#4d4d4d" stroke-width="0.4"/>
<text x="276.50" y="377.20" font-size="4.5" fill="#444" text-anchor="middle" font-weight="normal" font-family="Liberation Sans" stroke="#444" stroke-width="0.12" >1000</text>
<line x1="294.50" y1="373.0" x2="294.50" y2="374.1" stroke="#4d4d4d" stroke-width="0.4"/>
<text x="294.50" y="377.20" font-size="4.5" fill="#444" text-anchor="middle" font-weight="normal" font-family="Liberation Sans" stroke="#444" stroke-width="0.12" >1500</text>
<line x1="312.50" y1="373.0" x2="312.50" y2="374.1" stroke="#4d4d4d" stroke-width="0.4"/>
<text x="312.50" y="377.20" font-size="4.5" fill="#444" text-anchor="middle" font-weight="normal" font-family="Liberation Sans" stroke="#444" stroke-width="0.12" >2000</text>
<text x="238.80" y="385.10" font-size="5.0" fill="#111" text-anchor="start" font-weight="normal" font-family="Liberation Sans" stroke="#111" stroke-width="0.16" textLength="83.00" lengthAdjust="spacingAndGlyphs" >Position in the Ranked List of Genes</text>
<text x="245.60" y="397.90" font-size="7.25" fill="#111" text-anchor="start" font-weight="normal" font-family="Liberation Serif" stroke="#111" stroke-width="0.16" textLength="67.90" lengthAdjust="spacingAndGlyphs" >GSEA NETs formation</text>
</g>
</svg></body></html>
